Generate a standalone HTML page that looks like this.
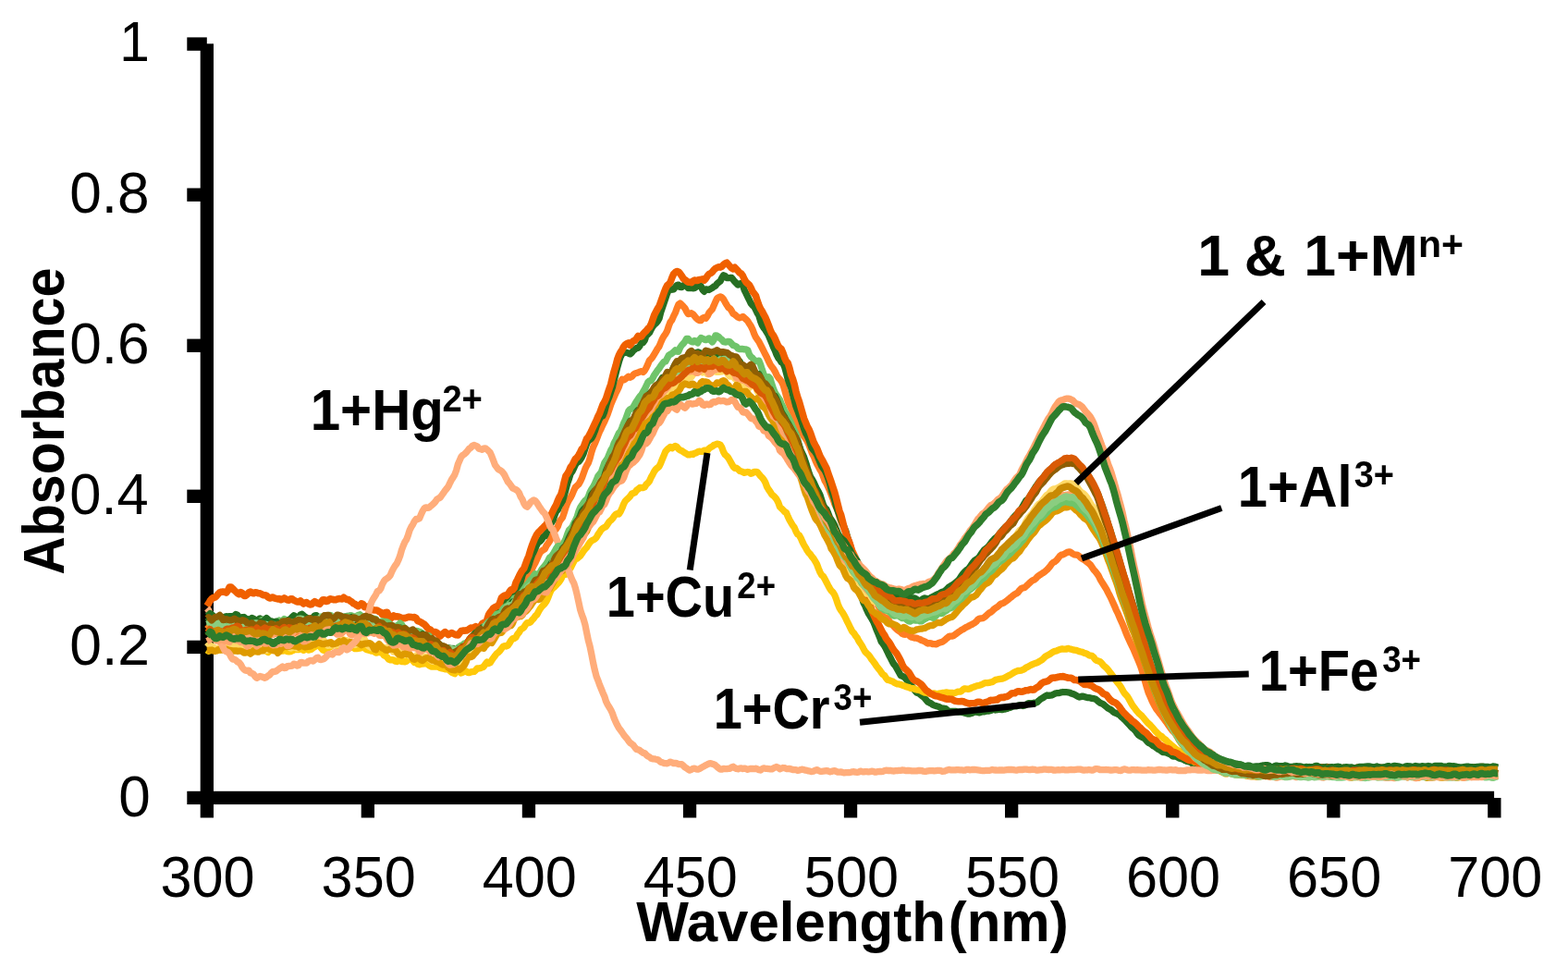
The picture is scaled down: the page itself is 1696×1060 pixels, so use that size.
<!DOCTYPE html>
<html lang="en"><head><meta charset="utf-8"><title>Absorbance vs Wavelength</title>
<style>html,body{margin:0;padding:0;background:#fff;overflow:hidden}svg{display:block}text{font-family:"Liberation Sans",sans-serif;fill:#000}.b{font-weight:bold}</style></head><body>
<svg width="1696" height="1060" viewBox="0 0 1696 1060">
<rect width="1696" height="1060" fill="#fff"/>
<g fill="#000">
<rect x="216.7" y="47.3" width="14.3" height="837.2"/>
<rect x="202.3" y="855.8" width="1413.8" height="14.3"/>
<rect x="202.3" y="40.4" width="21.5" height="14.4"/>
<rect x="202.3" y="203.5" width="21.5" height="14.4"/>
<rect x="202.3" y="366.6" width="21.5" height="14.4"/>
<rect x="202.3" y="529.6" width="21.5" height="14.4"/>
<rect x="202.3" y="692.7" width="21.5" height="14.4"/>
<rect x="390.7" y="863" width="14.3" height="21.5"/>
<rect x="564.8" y="863" width="14.3" height="21.5"/>
<rect x="738.9" y="863" width="14.3" height="21.5"/>
<rect x="912.9" y="863" width="14.3" height="21.5"/>
<rect x="1087.0" y="863" width="14.3" height="21.5"/>
<rect x="1261.1" y="863" width="14.3" height="21.5"/>
<rect x="1435.2" y="863" width="14.3" height="21.5"/>
<rect x="1609.2" y="863" width="14.3" height="21.5"/>
</g>
<g fill="none" stroke-linejoin="round" stroke-linecap="butt">
<polyline stroke="#FF7D24" stroke-width="7.3" points="223.8,680.5 225.5,678.8 227.3,679.5 229.0,681.4 230.8,680.6 232.5,678.9 234.2,679.1 236.0,679.0 237.7,679.4 239.5,679.8 241.2,680.5 242.9,681.5 244.7,681.5 246.4,681.4 248.2,682.3 249.9,682.1 251.7,680.6 253.4,680.6 255.1,680.8 256.9,681.1 258.6,681.2 260.4,682.2 262.1,682.7 263.8,682.3 265.6,681.8 267.3,681.9 269.1,681.6 270.8,681.9 272.5,683.1 274.3,683.9 276.0,685.5 277.8,685.0 279.5,683.3 281.2,683.7 283.0,684.0 284.7,684.6 286.5,684.3 288.2,683.3 289.9,684.3 291.7,685.6 293.4,686.2 295.2,685.4 296.9,685.6 298.7,684.8 300.4,684.8 302.1,685.6 303.9,687.5 305.6,688.5 307.4,688.5 309.1,688.0 310.8,687.0 312.6,685.9 314.3,684.4 316.1,684.4 317.8,684.9 319.5,683.7 321.3,683.1 323.0,682.8 324.8,682.5 326.5,681.5 328.2,681.1 330.0,680.9 331.7,680.3 333.5,679.5 335.2,679.4 336.9,677.5 338.7,676.5 340.4,677.0 342.2,678.4 343.9,677.7 345.7,676.4 347.4,676.4 349.1,677.0 350.9,676.3 352.6,676.3 354.4,677.2 356.1,676.7 357.8,677.1 359.6,677.5 361.3,677.7 363.1,678.5 364.8,679.2 366.5,677.5 368.3,675.8 370.0,675.4 371.8,676.9 373.5,677.9 375.2,678.3 377.0,677.9 378.7,677.5 380.5,677.4 382.2,677.9 383.9,678.6 385.7,679.0 387.4,680.2 389.2,681.5 390.9,680.3 392.7,679.2 394.4,680.8 396.1,680.5 397.9,679.7 399.6,680.4 401.4,680.1 403.1,679.2 404.8,678.9 406.6,679.3 408.3,681.0 410.1,682.2 411.8,682.2 413.5,683.2 415.3,683.9 417.0,682.5 418.8,682.6 420.5,682.5 422.2,682.1 424.0,682.7 425.7,684.4 427.5,685.4 429.2,685.6 430.9,686.6 432.7,687.9 434.4,688.7 436.2,689.4 437.9,689.9 439.7,690.9 441.4,692.2 443.1,691.9 444.9,691.5 446.6,691.4 448.4,690.8 450.1,691.7 451.8,693.7 453.6,695.1 455.3,695.7 457.1,694.7 458.8,694.9 460.5,697.6 462.3,698.2 464.0,697.7 465.8,698.9 467.5,698.5 469.2,697.5 471.0,698.7 472.7,700.8 474.5,702.6 476.2,702.1 477.9,702.1 479.7,702.6 481.4,702.8 483.2,703.3 484.9,704.9 486.7,706.3 488.4,705.6 490.1,703.8 491.9,703.2 493.6,703.6 495.4,702.9 497.1,702.0 498.8,702.0 500.6,703.9 502.3,703.0 504.1,700.9 505.8,700.6 507.5,699.0 509.3,695.2 511.0,694.3 512.8,694.4 514.5,694.2 516.2,692.6 518.0,691.3 519.7,691.2 521.5,692.0 523.2,690.7 524.9,686.8 526.7,685.0 528.4,685.0 530.2,681.5 531.9,678.9 533.7,677.9 535.4,677.1 537.1,675.6 538.9,672.7 540.6,669.6 542.4,668.3 544.1,667.2 545.8,665.6 547.6,661.4 549.3,657.1 551.1,655.1 552.8,653.9 554.5,649.5 556.3,644.9 558.0,642.9 559.8,641.5 561.5,639.1 563.2,635.1 565.0,632.5 566.7,629.4 568.5,625.2 570.2,622.9 572.0,622.0 573.7,619.1 575.4,615.6 577.2,611.9 578.9,608.9 580.7,604.9 582.4,601.2 584.1,597.9 585.9,595.9 587.6,594.7 589.4,593.7 591.1,590.2 592.8,587.8 594.6,585.2 596.3,581.6 598.1,578.3 599.8,574.0 601.5,572.3 603.3,569.6 605.0,564.5 606.8,561.8 608.5,559.7 610.2,554.7 612.0,548.8 613.7,544.3 615.5,540.7 617.2,538.0 619.0,534.5 620.7,530.3 622.4,527.0 624.2,525.3 625.9,523.8 627.7,520.7 629.4,517.0 631.1,512.2 632.9,507.2 634.6,503.7 636.4,500.6 638.1,495.5 639.8,489.1 641.6,483.6 643.3,480.0 645.1,475.7 646.8,471.2 648.5,467.0 650.3,463.3 652.0,459.5 653.8,456.0 655.5,452.1 657.2,448.0 659.0,442.9 660.7,437.6 662.5,433.3 664.2,429.5 666.0,425.3 667.7,422.1 669.4,418.4 671.2,413.3 672.9,410.3 674.7,410.9 676.4,410.0 678.1,408.6 679.9,407.2 681.6,408.2 683.4,407.3 685.1,405.3 686.8,404.1 688.6,403.6 690.3,402.9 692.1,402.0 693.8,401.7 695.5,402.5 697.3,400.8 699.0,397.8 700.8,393.9 702.5,389.7 704.2,388.2 706.0,385.9 707.7,383.1 709.5,380.2 711.2,377.1 713.0,374.7 714.7,370.5 716.4,366.5 718.2,363.4 719.9,361.1 721.7,357.7 723.4,352.5 725.1,348.2 726.9,345.9 728.6,341.9 730.4,338.4 732.1,333.7 733.8,329.5 735.6,328.1 737.3,329.6 739.1,331.4 740.8,333.2 742.5,336.7 744.3,339.5 746.0,339.3 747.8,338.7 749.5,339.8 751.2,341.7 753.0,344.1 754.7,345.6 756.5,346.6 758.2,346.7 760.0,344.2 761.7,343.5 763.4,344.3 765.2,341.9 766.9,338.4 768.7,336.2 770.4,334.4 772.1,330.6 773.9,326.3 775.6,322.8 777.4,321.6 779.1,321.0 780.8,321.7 782.6,323.7 784.3,326.8 786.1,329.9 787.8,332.6 789.5,333.6 791.3,336.2 793.0,339.3 794.8,340.2 796.5,341.7 798.2,343.1 800.0,343.8 801.7,343.3 803.5,342.4 805.2,343.8 807.0,345.5 808.7,347.1 810.4,350.0 812.2,352.6 813.9,356.1 815.7,361.0 817.4,364.7 819.1,367.1 820.9,369.7 822.6,373.0 824.4,376.5 826.1,379.9 827.8,383.3 829.6,386.7 831.3,390.6 833.1,394.2 834.8,396.7 836.5,398.8 838.3,401.8 840.0,405.6 841.8,408.4 843.5,410.2 845.2,412.4 847.0,416.0 848.7,421.8 850.5,428.3 852.2,434.0 854.0,438.4 855.7,442.2 857.4,445.8 859.2,449.4 860.9,454.1 862.7,457.8 864.4,461.7 866.1,465.3 867.9,468.8 869.6,472.1 871.4,474.4 873.1,477.2 874.8,480.7 876.6,485.3 878.3,490.1 880.1,493.5 881.8,497.7 883.5,501.5 885.3,504.9 887.0,508.0 888.8,510.9 890.5,515.6 892.2,520.2 894.0,523.1 895.7,526.7 897.5,530.7 899.2,535.2 901.0,539.7 902.7,544.8 904.4,548.3 906.2,552.5 907.9,558.9 909.7,564.0 911.4,568.2 913.1,572.4 914.9,576.5 916.6,581.3 918.4,586.7 920.1,591.6 921.8,595.7 923.6,599.2 925.3,602.8 927.1,607.3 928.8,612.4 930.5,616.5 932.3,619.3 934.0,623.0 935.8,627.7 937.5,631.5 939.2,634.6 941.0,637.1 942.7,640.7 944.5,644.5 946.2,647.9 948.0,650.9 949.7,655.0 951.4,657.8 953.2,660.0 954.9,661.9 956.7,665.0 958.4,667.8 960.1,669.3 961.9,671.9 963.6,674.3 965.4,676.0 967.1,677.9 968.8,679.6 970.6,681.3 972.3,682.5 974.1,683.7 975.8,685.4 977.5,686.1 979.3,686.3 981.0,685.9 982.8,686.7 984.5,688.3 986.2,689.3 988.0,689.7 989.7,690.1 991.5,690.2 993.2,690.9 995.0,691.5 996.7,692.5 998.4,693.1 1000.2,693.8 1001.9,695.0 1003.7,696.0 1005.4,695.6 1007.1,695.8 1008.9,696.6 1010.6,696.7 1012.4,696.9 1014.1,696.1 1015.8,695.2 1017.6,694.7 1019.3,694.2 1021.1,693.0 1022.8,691.6 1024.5,690.1 1026.3,688.6 1028.0,688.1 1029.8,688.2 1031.5,687.5 1033.2,686.3 1035.0,685.0 1036.7,683.6 1038.5,682.5 1040.2,681.3 1042.0,680.4 1043.7,679.2 1045.4,678.3 1047.2,677.5 1048.9,676.5 1050.7,675.7 1052.4,674.8 1054.1,673.7 1055.9,672.4 1057.6,670.3 1059.4,669.1 1061.1,668.9 1062.8,668.7 1064.6,667.8 1066.3,666.4 1068.1,664.7 1069.8,663.1 1071.5,662.2 1073.3,660.9 1075.0,659.0 1076.8,657.7 1078.5,656.7 1080.2,655.3 1082.0,653.4 1083.7,652.8 1085.5,652.1 1087.2,651.0 1089.0,649.8 1090.7,648.4 1092.4,646.8 1094.2,645.6 1095.9,644.1 1097.7,642.7 1099.4,641.9 1101.1,640.7 1102.9,638.3 1104.6,636.6 1106.4,635.8 1108.1,635.6 1109.8,634.2 1111.6,632.5 1113.3,630.8 1115.1,629.2 1116.8,627.9 1118.5,627.2 1120.3,625.9 1122.0,623.9 1123.8,622.5 1125.5,621.4 1127.2,620.3 1129.0,619.1 1130.7,617.8 1132.5,616.3 1134.2,614.4 1136.0,612.2 1137.7,609.7 1139.4,608.3 1141.2,607.4 1142.9,605.8 1144.7,603.7 1146.4,601.4 1148.1,600.1 1149.9,599.8 1151.6,599.0 1153.4,597.9 1155.1,597.0 1156.8,596.8 1158.6,597.8 1160.3,599.0 1162.1,599.8 1163.8,600.0 1165.5,600.4 1167.3,601.5 1169.0,603.3 1170.8,604.6 1172.5,605.3 1174.2,606.6 1176.0,608.0 1177.7,609.3 1179.5,611.0 1181.2,613.6 1183.0,616.3 1184.7,618.1 1186.4,620.3 1188.2,622.7 1189.9,626.3 1191.7,629.3 1193.4,632.0 1195.1,634.7 1196.9,637.7 1198.6,641.1 1200.4,644.5 1202.1,648.0 1203.8,651.7 1205.6,655.8 1207.3,659.8 1209.1,663.3 1210.8,667.5 1212.5,671.4 1214.3,675.3 1216.0,679.4 1217.8,684.2 1219.5,688.2 1221.2,692.1 1223.0,696.0 1224.7,699.5 1226.5,703.3 1228.2,707.4 1230.0,711.6 1231.7,715.7 1233.4,719.9 1235.2,725.2 1236.9,731.1 1238.7,737.4 1240.4,743.5 1242.1,749.0 1243.9,753.1 1245.6,757.1 1247.4,760.8 1249.1,764.0 1250.8,767.0 1252.6,769.2 1254.3,771.5 1256.1,773.8 1257.8,776.0 1259.5,778.3 1261.3,780.8 1263.0,783.3 1264.8,785.7 1266.5,788.3 1268.2,790.4 1270.0,791.9 1271.7,794.1 1273.5,796.2 1275.2,798.4 1277.0,800.5 1278.7,802.2 1280.4,803.3 1282.2,804.3 1283.9,805.5 1285.7,807.5 1287.4,809.1 1289.1,810.7 1290.9,812.4 1292.6,814.3 1294.4,815.9 1296.1,817.1 1297.8,818.1 1299.6,818.8 1301.3,819.9 1303.1,820.8 1304.8,821.6 1306.5,822.9 1308.3,823.4 1310.0,824.3 1311.8,826.1 1313.5,827.1 1315.3,827.2 1317.0,828.1 1318.7,829.4 1320.5,829.2 1322.2,828.9 1324.0,829.8 1325.7,831.1 1327.4,831.5 1329.2,831.8 1330.9,832.2 1332.7,832.2 1334.4,831.9 1336.1,831.9 1337.9,832.4 1339.6,832.7 1341.4,833.4 1343.1,834.2 1344.8,834.3 1346.6,834.2 1348.3,834.4 1350.1,834.8 1351.8,834.8 1353.5,834.5 1355.3,835.0 1357.0,835.6 1358.8,835.4 1360.5,834.7 1362.3,834.3 1364.0,834.1 1365.7,834.7 1367.5,835.5 1369.2,835.3 1371.0,834.9 1372.7,834.9 1374.4,835.1 1376.2,835.2 1377.9,835.1 1379.7,835.2 1381.4,835.8 1383.1,836.0 1384.9,835.5 1386.6,835.4 1388.4,835.6 1390.1,835.1 1391.8,835.1 1393.6,835.3 1395.3,835.5 1397.1,835.4 1398.8,835.3 1400.5,835.4 1402.3,834.9 1404.0,834.8 1405.8,834.8 1407.5,835.3 1409.3,835.3 1411.0,835.8 1412.7,836.2 1414.5,836.2 1416.2,835.9 1418.0,835.7 1419.7,835.7 1421.4,835.5 1423.2,835.5 1424.9,836.0 1426.7,836.1 1428.4,836.6 1430.1,836.4 1431.9,836.1 1433.6,836.2 1435.4,836.2 1437.1,835.5 1438.8,835.2 1440.6,835.4 1442.3,835.9 1444.1,836.1 1445.8,835.9 1447.5,835.7 1449.3,835.9 1451.0,836.5 1452.8,836.6 1454.5,836.1 1456.3,835.7 1458.0,836.1 1459.7,836.3 1461.5,836.5 1463.2,836.8 1465.0,836.4 1466.7,835.7 1468.4,835.8 1470.2,836.4 1471.9,836.5 1473.7,836.4 1475.4,836.0 1477.1,835.8 1478.9,836.3 1480.6,836.7 1482.4,836.3 1484.1,835.7 1485.8,835.6 1487.6,835.8 1489.3,836.3 1491.1,836.8 1492.8,837.0 1494.5,836.5 1496.3,836.0 1498.0,836.0 1499.8,836.0 1501.5,835.9 1503.3,836.0 1505.0,835.9 1506.7,835.7 1508.5,836.0 1510.2,835.8 1512.0,835.7 1513.7,836.0 1515.4,836.3 1517.2,836.8 1518.9,836.6 1520.7,836.1 1522.4,835.8 1524.1,835.9 1525.9,836.2 1527.6,836.0 1529.4,835.9 1531.1,835.5 1532.8,835.9 1534.6,836.4 1536.3,836.4 1538.1,836.3 1539.8,836.3 1541.5,835.7 1543.3,835.6 1545.0,836.1 1546.8,836.6 1548.5,836.4 1550.3,836.2 1552.0,836.2 1553.7,835.9 1555.5,835.1 1557.2,835.0 1559.0,835.0 1560.7,835.0 1562.4,835.2 1564.2,835.3 1565.9,835.6 1567.7,836.0 1569.4,836.2 1571.1,836.4 1572.9,836.6 1574.6,836.2 1576.4,836.1 1578.1,836.2 1579.8,835.6 1581.6,835.5 1583.3,836.3 1585.1,836.5 1586.8,836.6 1588.5,836.6 1590.3,836.5 1592.0,836.0 1593.8,835.8 1595.5,835.7 1597.3,836.0 1599.0,836.1 1600.7,836.2 1602.5,836.8 1604.2,837.1 1606.0,836.4 1607.7,836.5 1609.4,836.8 1611.2,836.6 1612.9,836.3 1614.7,836.6 1616.4,836.5 1618.1,836.2 1620.0,836.1"/>
<polyline stroke="#266E22" stroke-width="7.3" points="223.8,672.7 225.5,671.4 227.3,670.1 229.0,669.6 230.8,670.3 232.5,670.3 234.2,669.9 236.0,668.7 237.7,668.3 239.5,668.1 241.2,669.3 242.9,669.3 244.7,669.0 246.4,668.3 248.2,667.8 249.9,669.6 251.7,669.9 253.4,665.9 255.1,664.4 256.9,665.3 258.6,668.5 260.4,669.9 262.1,670.8 263.8,670.7 265.6,670.1 267.3,669.8 269.1,669.8 270.8,669.8 272.5,668.5 274.3,669.1 276.0,671.1 277.8,672.3 279.5,670.0 281.2,668.9 283.0,670.2 284.7,672.3 286.5,672.7 288.2,672.8 289.9,671.7 291.7,673.7 293.4,674.1 295.2,672.5 296.9,673.8 298.7,675.6 300.4,676.0 302.1,677.5 303.9,678.2 305.6,676.5 307.4,674.5 309.1,674.2 310.8,675.3 312.6,675.3 314.3,675.2 316.1,675.6 317.8,675.6 319.5,673.4 321.3,672.2 323.0,672.3 324.8,676.0 326.5,677.6 328.2,678.1 330.0,676.3 331.7,675.0 333.5,675.2 335.2,674.1 336.9,672.6 338.7,673.5 340.4,675.9 342.2,675.4 343.9,674.0 345.7,672.5 347.4,672.0 349.1,672.7 350.9,671.7 352.6,670.2 354.4,669.7 356.1,669.4 357.8,670.4 359.6,670.8 361.3,669.8 363.1,669.9 364.8,668.4 366.5,667.6 368.3,666.8 370.0,667.1 371.8,667.4 373.5,667.0 375.2,666.5 377.0,666.4 378.7,666.2 380.5,666.4 382.2,668.6 383.9,671.1 385.7,673.0 387.4,674.6 389.2,675.5 390.9,674.5 392.7,674.0 394.4,675.1 396.1,674.3 397.9,674.7 399.6,674.1 401.4,674.1 403.1,673.8 404.8,676.0 406.6,676.5 408.3,677.3 410.1,680.1 411.8,680.5 413.5,679.3 415.3,678.6 417.0,679.4 418.8,680.7 420.5,682.3 422.2,682.4 424.0,681.1 425.7,680.5 427.5,680.2 429.2,680.0 430.9,681.2 432.7,683.2 434.4,685.1 436.2,685.5 437.9,684.1 439.7,684.5 441.4,685.5 443.1,687.3 444.9,686.4 446.6,685.4 448.4,684.1 450.1,684.4 451.8,685.9 453.6,686.8 455.3,687.4 457.1,687.5 458.8,689.7 460.5,691.5 462.3,694.3 464.0,695.0 465.8,695.6 467.5,695.0 469.2,696.3 471.0,696.7 472.7,697.8 474.5,699.2 476.2,700.2 477.9,701.8 479.7,703.3 481.4,703.5 483.2,702.2 484.9,700.9 486.7,701.2 488.4,701.6 490.1,701.3 491.9,703.2 493.6,703.4 495.4,703.4 497.1,704.0 498.8,703.1 500.6,700.9 502.3,698.7 504.1,698.3 505.8,697.2 507.5,695.7 509.3,695.5 511.0,693.1 512.8,689.4 514.5,688.5 516.2,687.9 518.0,688.5 519.7,686.3 521.5,682.1 523.2,679.5 524.9,678.5 526.7,677.5 528.4,676.8 530.2,673.9 531.9,670.0 533.7,666.5 535.4,662.7 537.1,662.4 538.9,661.5 540.6,658.6 542.4,656.4 544.1,656.5 545.8,656.0 547.6,652.2 549.3,648.7 551.1,647.2 552.8,643.5 554.5,642.1 556.3,640.3 558.0,638.5 559.8,635.6 561.5,633.7 563.2,629.0 565.0,622.5 566.7,618.8 568.5,617.8 570.2,616.2 572.0,611.2 573.7,605.5 575.4,600.7 577.2,597.1 578.9,593.3 580.7,589.3 582.4,586.2 584.1,585.6 585.9,583.6 587.6,580.3 589.4,580.0 591.1,576.4 592.8,570.8 594.6,566.6 596.3,565.7 598.1,562.9 599.8,557.7 601.5,553.4 603.3,551.5 605.0,547.4 606.8,544.5 608.5,541.6 610.2,535.9 612.0,529.7 613.7,522.8 615.5,517.7 617.2,512.2 619.0,509.8 620.7,506.4 622.4,502.5 624.2,500.0 625.9,499.4 627.7,497.2 629.4,494.3 631.1,490.7 632.9,485.1 634.6,480.0 636.4,476.5 638.1,475.5 639.8,474.1 641.6,470.7 643.3,466.5 645.1,461.1 646.8,457.0 648.5,453.1 650.3,450.6 652.0,449.9 653.8,445.4 655.5,438.8 657.2,433.4 659.0,429.0 660.7,423.8 662.5,418.6 664.2,411.3 666.0,404.4 667.7,397.5 669.4,391.5 671.2,385.9 672.9,382.8 674.7,381.6 676.4,381.3 678.1,381.4 679.9,382.1 681.6,382.9 683.4,381.4 685.1,379.1 686.8,377.8 688.6,376.4 690.3,376.3 692.1,374.0 693.8,371.0 695.5,370.7 697.3,368.2 699.0,363.2 700.8,361.6 702.5,359.8 704.2,356.3 706.0,353.2 707.7,351.1 709.5,349.7 711.2,347.7 713.0,344.5 714.7,337.9 716.4,332.8 718.2,327.6 719.9,322.6 721.7,317.2 723.4,313.2 725.1,312.4 726.9,313.3 728.6,312.9 730.4,310.6 732.1,308.5 733.8,308.1 735.6,310.4 737.3,310.7 739.1,308.8 740.8,308.2 742.5,309.0 744.3,311.5 746.0,311.7 747.8,311.3 749.5,311.8 751.2,311.7 753.0,310.3 754.7,308.7 756.5,308.3 758.2,309.6 760.0,313.5 761.7,315.3 763.4,312.8 765.2,313.1 766.9,313.5 768.7,312.4 770.4,311.4 772.1,309.9 773.9,309.3 775.6,306.8 777.4,305.4 779.1,304.1 780.8,300.6 782.6,297.7 784.3,298.5 786.1,300.5 787.8,300.7 789.5,300.5 791.3,300.4 793.0,302.4 794.8,304.7 796.5,306.4 798.2,308.1 800.0,307.1 801.7,306.4 803.5,308.7 805.2,313.9 807.0,317.4 808.7,321.0 810.4,324.4 812.2,328.2 813.9,330.2 815.7,331.5 817.4,334.9 819.1,338.5 820.9,341.4 822.6,347.3 824.4,351.9 826.1,354.7 827.8,356.8 829.6,359.8 831.3,362.8 833.1,367.1 834.8,371.2 836.5,375.4 838.3,379.3 840.0,383.7 841.8,387.2 843.5,389.0 845.2,391.8 847.0,393.0 848.7,397.0 850.5,403.5 852.2,410.1 854.0,415.4 855.7,419.7 857.4,426.3 859.2,433.2 860.9,439.5 862.7,444.1 864.4,448.8 866.1,453.0 867.9,458.3 869.6,463.6 871.4,468.3 873.1,471.2 874.8,475.1 876.6,480.4 878.3,484.9 880.1,487.0 881.8,489.0 883.5,491.8 885.3,496.0 887.0,500.1 888.8,504.2 890.5,506.6 892.2,509.0 894.0,512.8 895.7,517.2 897.5,523.0 899.2,530.0 901.0,535.4 902.7,540.5 904.4,547.5 906.2,552.6 907.9,556.8 909.7,562.1 911.4,566.6 913.1,570.3 914.9,574.7 916.6,581.1 918.4,586.7 920.1,592.0 921.8,600.9 923.6,609.8 925.3,617.6 927.1,625.7 928.8,633.2 930.5,640.0 932.3,646.6 934.0,652.0 935.8,655.4 937.5,659.6 939.2,663.3 941.0,666.1 942.7,669.0 944.5,672.0 946.2,676.2 948.0,680.8 949.7,684.9 951.4,689.0 953.2,693.9 954.9,696.1 956.7,698.7 958.4,701.8 960.1,705.3 961.9,709.2 963.6,712.3 965.4,716.0 967.1,718.7 968.8,720.7 970.6,723.9 972.3,727.0 974.1,730.4 975.8,731.3 977.5,731.9 979.3,733.5 981.0,735.7 982.8,738.3 984.5,740.2 986.2,742.1 988.0,744.5 989.7,747.1 991.5,749.2 993.2,749.6 995.0,750.9 996.7,752.3 998.4,753.5 1000.2,755.1 1001.9,757.2 1003.7,759.2 1005.4,760.1 1007.1,760.9 1008.9,762.2 1010.6,763.0 1012.4,763.5 1014.1,764.1 1015.8,764.6 1017.6,765.7 1019.3,766.2 1021.1,766.2 1022.8,766.6 1024.5,768.1 1026.3,769.1 1028.0,769.8 1029.8,769.3 1031.5,769.3 1033.2,769.3 1035.0,769.9 1036.7,770.2 1038.5,770.0 1040.2,770.3 1042.0,770.8 1043.7,771.3 1045.4,771.8 1047.2,772.2 1048.9,772.1 1050.7,771.5 1052.4,770.8 1054.1,770.1 1055.9,770.1 1057.6,770.5 1059.4,770.8 1061.1,770.2 1062.8,769.7 1064.6,769.9 1066.3,769.3 1068.1,769.0 1069.8,769.1 1071.5,768.6 1073.3,767.4 1075.0,767.5 1076.8,768.0 1078.5,767.7 1080.2,767.2 1082.0,767.4 1083.7,767.7 1085.5,767.2 1087.2,767.1 1089.0,766.6 1090.7,765.8 1092.4,765.4 1094.2,764.6 1095.9,763.9 1097.7,763.6 1099.4,763.9 1101.1,763.3 1102.9,762.7 1104.6,762.7 1106.4,763.5 1108.1,763.2 1109.8,762.1 1111.6,761.1 1113.3,760.6 1115.1,760.9 1116.8,760.7 1118.5,760.1 1120.3,760.3 1122.0,759.5 1123.8,757.7 1125.5,756.3 1127.2,755.2 1129.0,754.2 1130.7,752.9 1132.5,752.0 1134.2,752.4 1136.0,752.1 1137.7,751.8 1139.4,751.1 1141.2,750.1 1142.9,749.7 1144.7,749.6 1146.4,749.3 1148.1,748.8 1149.9,748.5 1151.6,748.7 1153.4,748.7 1155.1,748.8 1156.8,749.0 1158.6,750.0 1160.3,750.5 1162.1,751.2 1163.8,752.2 1165.5,753.2 1167.3,754.0 1169.0,753.6 1170.8,753.1 1172.5,753.6 1174.2,754.1 1176.0,754.6 1177.7,754.7 1179.5,754.9 1181.2,755.4 1183.0,755.7 1184.7,756.0 1186.4,757.3 1188.2,758.9 1189.9,760.3 1191.7,760.9 1193.4,761.8 1195.1,763.3 1196.9,764.8 1198.6,766.2 1200.4,767.0 1202.1,768.0 1203.8,769.7 1205.6,770.9 1207.3,771.5 1209.1,772.3 1210.8,773.2 1212.5,774.9 1214.3,776.5 1216.0,778.2 1217.8,779.9 1219.5,781.7 1221.2,783.6 1223.0,785.6 1224.7,787.3 1226.5,788.7 1228.2,790.6 1230.0,793.4 1231.7,795.3 1233.4,796.4 1235.2,797.4 1236.9,798.1 1238.7,799.4 1240.4,801.5 1242.1,803.3 1243.9,804.0 1245.6,805.2 1247.4,806.8 1249.1,807.4 1250.8,808.9 1252.6,810.2 1254.3,811.1 1256.1,812.4 1257.8,813.7 1259.5,813.6 1261.3,814.0 1263.0,814.8 1264.8,815.4 1266.5,816.3 1268.2,817.8 1270.0,818.1 1271.7,818.0 1273.5,818.9 1275.2,820.0 1277.0,820.6 1278.7,820.8 1280.4,821.7 1282.2,822.7 1283.9,823.5 1285.7,823.8 1287.4,824.1 1289.1,825.5 1290.9,826.4 1292.6,827.2 1294.4,827.6 1296.1,827.2 1297.8,826.9 1299.6,827.5 1301.3,827.6 1303.1,827.6 1304.8,828.0 1306.5,828.7 1308.3,828.4 1310.0,828.0 1311.8,828.3 1313.5,828.6 1315.3,829.1 1317.0,829.2 1318.7,829.4 1320.5,829.9 1322.2,830.2 1324.0,830.8 1325.7,831.0 1327.4,830.6 1329.2,830.4 1330.9,830.9 1332.7,831.3 1334.4,831.1 1336.1,831.1 1337.9,831.1 1339.6,831.3 1341.4,831.2 1343.1,830.7 1344.8,830.6 1346.6,830.7 1348.3,830.7 1350.1,831.0 1351.8,831.1 1353.5,830.8 1355.3,830.5 1357.0,830.8 1358.8,831.5 1360.5,831.2 1362.3,830.4 1364.0,830.5 1365.7,831.6 1367.5,831.7 1369.2,831.2 1371.0,830.8 1372.7,830.1 1374.4,830.2 1376.2,830.2 1377.9,829.5 1379.7,829.7 1381.4,830.6 1383.1,830.7 1384.9,830.3 1386.6,830.5 1388.4,830.7 1390.1,830.0 1391.8,829.4 1393.6,829.6 1395.3,830.1 1397.1,830.5 1398.8,830.3 1400.5,830.3 1402.3,830.8 1404.0,830.4 1405.8,830.4 1407.5,830.6 1409.3,830.7 1411.0,830.5 1412.7,830.4 1414.5,830.0 1416.2,829.5 1418.0,829.8 1419.7,830.1 1421.4,830.3 1423.2,830.4 1424.9,830.6 1426.7,831.3 1428.4,831.1 1430.1,830.0 1431.9,830.0 1433.6,829.7 1435.4,829.5 1437.1,830.2 1438.8,830.4 1440.6,830.5 1442.3,830.8 1444.1,831.6 1445.8,831.9 1447.5,831.6 1449.3,831.4 1451.0,831.1 1452.8,830.9 1454.5,830.7 1456.3,830.7 1458.0,830.8 1459.7,831.2 1461.5,831.6 1463.2,831.8 1465.0,832.2 1466.7,832.1 1468.4,830.7 1470.2,830.5 1471.9,830.5 1473.7,830.3 1475.4,830.2 1477.1,830.6 1478.9,830.7 1480.6,830.6 1482.4,830.5 1484.1,830.1 1485.8,830.0 1487.6,830.8 1489.3,830.8 1491.1,830.6 1492.8,830.6 1494.5,830.2 1496.3,830.0 1498.0,830.5 1499.8,830.3 1501.5,830.6 1503.3,831.3 1505.0,831.9 1506.7,831.9 1508.5,831.2 1510.2,830.7 1512.0,830.9 1513.7,831.8 1515.4,832.2 1517.2,831.6 1518.9,831.1 1520.7,831.2 1522.4,830.9 1524.1,830.7 1525.9,830.9 1527.6,831.3 1529.4,831.5 1531.1,831.8 1532.8,831.8 1534.6,830.9 1536.3,829.6 1538.1,829.6 1539.8,830.6 1541.5,831.4 1543.3,831.9 1545.0,831.4 1546.8,831.2 1548.5,831.6 1550.3,831.6 1552.0,831.1 1553.7,830.8 1555.5,830.3 1557.2,830.4 1559.0,830.9 1560.7,830.7 1562.4,831.2 1564.2,831.6 1565.9,831.7 1567.7,831.5 1569.4,830.8 1571.1,829.7 1572.9,829.7 1574.6,830.3 1576.4,830.7 1578.1,830.2 1579.8,830.2 1581.6,830.6 1583.3,830.9 1585.1,830.1 1586.8,829.8 1588.5,830.1 1590.3,829.8 1592.0,830.2 1593.8,830.1 1595.5,829.7 1597.3,829.8 1599.0,830.1 1600.7,830.6 1602.5,831.2 1604.2,831.4 1606.0,831.0 1607.7,830.6 1609.4,830.4 1611.2,830.6 1612.9,830.6 1614.7,830.0 1616.4,830.3 1618.1,830.4 1620.0,830.6"/>
<polyline stroke="#FFC90A" stroke-width="7.3" points="223.8,703.1 225.5,704.3 227.3,703.7 229.0,702.9 230.8,702.5 232.5,703.7 234.2,702.6 236.0,703.4 237.7,702.9 239.5,702.1 241.2,702.1 242.9,702.8 244.7,704.0 246.4,704.6 248.2,704.6 249.9,702.7 251.7,702.7 253.4,703.0 255.1,703.2 256.9,701.8 258.6,702.5 260.4,703.1 262.1,703.0 263.8,704.5 265.6,705.2 267.3,705.7 269.1,704.9 270.8,703.0 272.5,702.5 274.3,703.6 276.0,704.9 277.8,704.7 279.5,703.1 281.2,702.3 283.0,702.1 284.7,702.4 286.5,703.2 288.2,704.4 289.9,705.5 291.7,704.1 293.4,703.4 295.2,703.3 296.9,702.5 298.7,702.7 300.4,703.5 302.1,703.7 303.9,703.1 305.6,704.1 307.4,703.7 309.1,703.9 310.8,704.6 312.6,704.9 314.3,704.7 316.1,703.8 317.8,703.1 319.5,702.6 321.3,702.3 323.0,702.7 324.8,701.6 326.5,701.7 328.2,703.4 330.0,702.5 331.7,701.8 333.5,703.2 335.2,702.8 336.9,702.3 338.7,700.8 340.4,699.7 342.2,698.4 343.9,698.3 345.7,698.9 347.4,701.0 349.1,703.0 350.9,703.6 352.6,701.7 354.4,701.3 356.1,700.3 357.8,699.3 359.6,697.9 361.3,697.6 363.1,698.0 364.8,698.5 366.5,699.4 368.3,700.1 370.0,701.4 371.8,701.2 373.5,701.3 375.2,701.8 377.0,701.3 378.7,700.4 380.5,700.0 382.2,700.5 383.9,701.6 385.7,701.7 387.4,701.4 389.2,701.2 390.9,700.5 392.7,700.6 394.4,700.7 396.1,702.5 397.9,703.0 399.6,703.4 401.4,704.0 403.1,704.1 404.8,704.8 406.6,706.1 408.3,705.8 410.1,705.3 411.8,705.8 413.5,706.4 415.3,708.8 417.0,709.5 418.8,711.1 420.5,713.2 422.2,713.9 424.0,713.6 425.7,713.9 427.5,715.1 429.2,715.5 430.9,714.5 432.7,714.6 434.4,715.6 436.2,715.7 437.9,715.8 439.7,715.2 441.4,713.4 443.1,712.3 444.9,712.6 446.6,714.6 448.4,716.7 450.1,716.8 451.8,718.3 453.6,718.8 455.3,718.2 457.1,718.0 458.8,717.9 460.5,717.6 462.3,718.3 464.0,719.6 465.8,720.8 467.5,721.1 469.2,720.7 471.0,721.2 472.7,720.9 474.5,721.6 476.2,722.5 477.9,722.9 479.7,723.3 481.4,723.8 483.2,723.6 484.9,724.1 486.7,725.5 488.4,727.1 490.1,727.9 491.9,728.7 493.6,726.5 495.4,724.0 497.1,725.8 498.8,728.1 500.6,727.2 502.3,725.8 504.1,725.8 505.8,727.4 507.5,727.7 509.3,726.9 511.0,726.5 512.8,726.4 514.5,724.9 516.2,722.9 518.0,723.0 519.7,722.6 521.5,721.9 523.2,721.1 524.9,718.5 526.7,716.1 528.4,717.5 530.2,716.9 531.9,714.1 533.7,711.5 535.4,709.4 537.1,707.0 538.9,705.8 540.6,704.0 542.4,701.6 544.1,699.3 545.8,698.6 547.6,699.0 549.3,698.2 551.1,695.6 552.8,692.6 554.5,690.7 556.3,690.5 558.0,689.3 559.8,685.9 561.5,684.0 563.2,680.9 565.0,679.9 566.7,678.6 568.5,675.6 570.2,673.7 572.0,673.7 573.7,672.9 575.4,670.7 577.2,669.0 578.9,666.4 580.7,664.9 582.4,661.8 584.1,658.8 585.9,656.4 587.6,654.5 589.4,652.8 591.1,650.2 592.8,646.5 594.6,641.8 596.3,638.1 598.1,636.1 599.8,634.8 601.5,633.0 603.3,631.1 605.0,629.1 606.8,626.5 608.5,622.9 610.2,621.3 612.0,621.3 613.7,619.4 615.5,616.4 617.2,614.3 619.0,610.7 620.7,607.3 622.4,604.6 624.2,604.2 625.9,602.8 627.7,601.3 629.4,598.8 631.1,596.0 632.9,593.9 634.6,592.2 636.4,589.1 638.1,586.6 639.8,585.0 641.6,584.1 643.3,583.1 645.1,581.4 646.8,578.2 648.5,575.8 650.3,572.9 652.0,571.4 653.8,570.4 655.5,569.6 657.2,567.0 659.0,564.2 660.7,562.8 662.5,561.0 664.2,558.4 666.0,556.3 667.7,555.5 669.4,556.1 671.2,553.3 672.9,549.6 674.7,544.9 676.4,541.8 678.1,540.2 679.9,538.6 681.6,536.7 683.4,534.0 685.1,533.5 686.8,532.7 688.6,530.3 690.3,529.1 692.1,527.5 693.8,527.4 695.5,527.5 697.3,526.8 699.0,524.0 700.8,522.3 702.5,520.3 704.2,516.4 706.0,513.2 707.7,509.9 709.5,507.3 711.2,506.0 713.0,504.6 714.7,500.9 716.4,496.6 718.2,492.3 719.9,488.2 721.7,486.3 723.4,484.8 725.1,483.5 726.9,484.8 728.6,483.5 730.4,482.4 732.1,483.3 733.8,485.5 735.6,486.9 737.3,487.4 739.1,488.8 740.8,489.9 742.5,490.7 744.3,491.9 746.0,491.8 747.8,491.1 749.5,491.6 751.2,490.3 753.0,489.9 754.7,488.8 756.5,488.2 758.2,488.3 760.0,488.4 761.7,487.1 763.4,487.2 765.2,487.3 766.9,485.1 768.7,483.8 770.4,483.0 772.1,481.5 773.9,480.8 775.6,480.1 777.4,480.5 779.1,481.1 780.8,483.9 782.6,488.9 784.3,491.8 786.1,493.3 787.8,495.2 789.5,498.2 791.3,501.5 793.0,504.6 794.8,506.4 796.5,506.2 798.2,507.4 800.0,509.4 801.7,509.8 803.5,510.5 805.2,511.4 807.0,510.8 808.7,510.5 810.4,510.9 812.2,512.3 813.9,511.8 815.7,510.3 817.4,510.3 819.1,510.6 820.9,512.8 822.6,514.9 824.4,516.6 826.1,518.7 827.8,521.8 829.6,526.6 831.3,529.5 833.1,532.0 834.8,534.7 836.5,536.2 838.3,537.9 840.0,540.1 841.8,543.5 843.5,548.2 845.2,549.9 847.0,551.6 848.7,553.5 850.5,554.5 852.2,558.6 854.0,562.4 855.7,565.3 857.4,568.3 859.2,570.6 860.9,574.7 862.7,577.9 864.4,578.9 866.1,581.8 867.9,586.0 869.6,589.4 871.4,592.3 873.1,595.5 874.8,597.9 876.6,599.7 878.3,602.3 880.1,604.3 881.8,607.2 883.5,610.1 885.3,614.9 887.0,619.0 888.8,622.1 890.5,623.4 892.2,626.3 894.0,629.9 895.7,633.2 897.5,636.4 899.2,639.0 901.0,640.7 902.7,643.4 904.4,647.6 906.2,653.2 907.9,657.3 909.7,660.4 911.4,662.7 913.1,665.6 914.9,668.9 916.6,672.7 918.4,676.2 920.1,679.8 921.8,683.0 923.6,684.8 925.3,687.4 927.1,689.7 928.8,693.1 930.5,695.6 932.3,698.4 934.0,701.7 935.8,704.9 937.5,706.6 939.2,708.2 941.0,710.3 942.7,713.1 944.5,715.3 946.2,717.7 948.0,720.3 949.7,722.6 951.4,724.6 953.2,727.3 954.9,729.5 956.7,730.6 958.4,733.4 960.1,735.4 961.9,735.8 963.6,736.4 965.4,736.9 967.1,738.2 968.8,739.1 970.6,739.8 972.3,739.9 974.1,740.4 975.8,741.1 977.5,741.7 979.3,742.4 981.0,742.9 982.8,743.4 984.5,744.2 986.2,744.7 988.0,744.6 989.7,745.5 991.5,746.0 993.2,746.2 995.0,746.7 996.7,747.4 998.4,748.3 1000.2,749.0 1001.9,749.2 1003.7,749.8 1005.4,749.8 1007.1,750.2 1008.9,750.2 1010.6,749.8 1012.4,750.5 1014.1,750.9 1015.8,750.1 1017.6,749.8 1019.3,749.5 1021.1,749.3 1022.8,749.0 1024.5,749.0 1026.3,749.4 1028.0,749.5 1029.8,749.4 1031.5,749.6 1033.2,749.3 1035.0,748.6 1036.7,748.1 1038.5,748.2 1040.2,747.3 1042.0,745.4 1043.7,744.8 1045.4,745.0 1047.2,745.4 1048.9,745.0 1050.7,744.0 1052.4,743.4 1054.1,742.8 1055.9,742.0 1057.6,741.7 1059.4,741.3 1061.1,740.8 1062.8,740.0 1064.6,739.1 1066.3,738.6 1068.1,738.6 1069.8,738.4 1071.5,737.9 1073.3,737.6 1075.0,736.5 1076.8,735.4 1078.5,735.0 1080.2,734.7 1082.0,734.4 1083.7,734.2 1085.5,733.6 1087.2,732.9 1089.0,731.8 1090.7,730.8 1092.4,730.1 1094.2,729.0 1095.9,727.9 1097.7,726.8 1099.4,726.1 1101.1,725.5 1102.9,725.3 1104.6,725.1 1106.4,724.4 1108.1,723.5 1109.8,722.2 1111.6,721.4 1113.3,720.4 1115.1,719.4 1116.8,718.6 1118.5,717.9 1120.3,717.3 1122.0,716.8 1123.8,715.6 1125.5,714.6 1127.2,713.6 1129.0,711.9 1130.7,710.2 1132.5,709.1 1134.2,708.3 1136.0,707.3 1137.7,706.1 1139.4,704.9 1141.2,704.3 1142.9,704.0 1144.7,703.1 1146.4,702.5 1148.1,702.0 1149.9,702.0 1151.6,702.2 1153.4,702.0 1155.1,701.3 1156.8,701.9 1158.6,702.2 1160.3,702.7 1162.1,703.2 1163.8,703.3 1165.5,703.9 1167.3,704.6 1169.0,705.0 1170.8,705.4 1172.5,706.2 1174.2,706.7 1176.0,707.4 1177.7,708.7 1179.5,709.2 1181.2,709.4 1183.0,711.0 1184.7,713.3 1186.4,714.6 1188.2,715.1 1189.9,715.7 1191.7,717.4 1193.4,719.6 1195.1,721.2 1196.9,722.6 1198.6,724.6 1200.4,726.9 1202.1,729.0 1203.8,731.4 1205.6,733.9 1207.3,736.4 1209.1,738.6 1210.8,740.7 1212.5,743.2 1214.3,746.6 1216.0,749.5 1217.8,751.5 1219.5,753.4 1221.2,756.2 1223.0,759.5 1224.7,762.6 1226.5,764.9 1228.2,767.2 1230.0,769.5 1231.7,771.5 1233.4,772.8 1235.2,774.5 1236.9,776.5 1238.7,778.7 1240.4,780.7 1242.1,782.5 1243.9,784.1 1245.6,785.9 1247.4,787.9 1249.1,790.1 1250.8,791.8 1252.6,793.7 1254.3,795.3 1256.1,796.2 1257.8,797.9 1259.5,799.4 1261.3,800.6 1263.0,802.5 1264.8,804.1 1266.5,805.6 1268.2,806.9 1270.0,808.5 1271.7,810.1 1273.5,811.3 1275.2,812.4 1277.0,813.6 1278.7,814.8 1280.4,816.0 1282.2,817.1 1283.9,819.0 1285.7,820.4 1287.4,821.5 1289.1,822.4 1290.9,823.2 1292.6,824.4 1294.4,824.8 1296.1,825.6 1297.8,826.5 1299.6,827.2 1301.3,827.3 1303.1,827.3 1304.8,827.7 1306.5,827.8 1308.3,828.7 1310.0,829.5 1311.8,830.3 1313.5,830.2 1315.3,830.1 1317.0,830.2 1318.7,830.4 1320.5,830.9 1322.2,831.3 1324.0,831.2 1325.7,831.4 1327.4,831.5 1329.2,832.0 1330.9,832.3 1332.7,832.2 1334.4,832.5 1336.1,833.2 1337.9,833.7 1339.6,833.8 1341.4,833.4 1343.1,833.0 1344.8,833.2 1346.6,834.1 1348.3,834.6 1350.1,834.7 1351.8,834.7 1353.5,834.3 1355.3,834.3 1357.0,834.6 1358.8,834.3 1360.5,834.5 1362.3,834.7 1364.0,834.9 1365.7,835.1 1367.5,834.5 1369.2,834.0 1371.0,833.7 1372.7,833.9 1374.4,834.3 1376.2,834.6 1377.9,834.8 1379.7,834.8 1381.4,834.5 1383.1,834.3 1384.9,834.8 1386.6,835.0 1388.4,834.8 1390.1,835.1 1391.8,836.0 1393.6,836.2 1395.3,836.2 1397.1,835.9 1398.8,835.6 1400.5,835.4 1402.3,835.6 1404.0,835.5 1405.8,835.4 1407.5,835.5 1409.3,835.7 1411.0,835.9 1412.7,835.9 1414.5,836.3 1416.2,835.8 1418.0,835.7 1419.7,835.9 1421.4,835.6 1423.2,835.4 1424.9,835.2 1426.7,834.9 1428.4,835.0 1430.1,835.3 1431.9,835.8 1433.6,836.2 1435.4,836.6 1437.1,837.0 1438.8,837.0 1440.6,836.7 1442.3,836.4 1444.1,836.2 1445.8,835.9 1447.5,836.1 1449.3,836.6 1451.0,836.3 1452.8,835.6 1454.5,835.7 1456.3,836.3 1458.0,836.5 1459.7,836.2 1461.5,835.3 1463.2,835.1 1465.0,835.4 1466.7,835.5 1468.4,835.8 1470.2,836.0 1471.9,836.1 1473.7,836.2 1475.4,836.4 1477.1,836.4 1478.9,836.1 1480.6,835.9 1482.4,836.3 1484.1,836.4 1485.8,836.2 1487.6,835.9 1489.3,835.5 1491.1,835.8 1492.8,835.6 1494.5,835.7 1496.3,836.2 1498.0,836.2 1499.8,836.3 1501.5,836.6 1503.3,836.4 1505.0,835.6 1506.7,835.6 1508.5,835.8 1510.2,835.2 1512.0,835.0 1513.7,835.5 1515.4,836.2 1517.2,836.4 1518.9,836.2 1520.7,836.0 1522.4,836.0 1524.1,835.9 1525.9,835.9 1527.6,836.0 1529.4,836.0 1531.1,835.9 1532.8,836.4 1534.6,836.5 1536.3,836.0 1538.1,835.2 1539.8,835.5 1541.5,835.7 1543.3,835.7 1545.0,835.8 1546.8,835.8 1548.5,836.3 1550.3,836.3 1552.0,836.2 1553.7,836.6 1555.5,836.5 1557.2,836.1 1559.0,835.7 1560.7,836.3 1562.4,836.8 1564.2,836.5 1565.9,836.1 1567.7,836.7 1569.4,837.0 1571.1,836.6 1572.9,835.8 1574.6,835.2 1576.4,835.2 1578.1,835.6 1579.8,836.0 1581.6,836.0 1583.3,835.5 1585.1,835.1 1586.8,835.3 1588.5,835.5 1590.3,836.0 1592.0,835.8 1593.8,836.1 1595.5,836.2 1597.3,836.0 1599.0,836.1 1600.7,835.9 1602.5,835.5 1604.2,835.5 1606.0,835.9 1607.7,836.0 1609.4,835.5 1611.2,835.8 1612.9,835.8 1614.7,835.6 1616.4,835.8 1618.1,835.9 1620.0,836.1"/>
<polyline stroke="#F06000" stroke-width="7.6" points="223.8,655.5 225.5,653.0 227.3,649.7 229.0,647.7 230.8,646.5 232.5,646.1 234.2,644.6 236.0,642.4 237.7,640.8 239.5,640.2 241.2,640.0 242.9,640.2 244.7,641.0 246.4,638.9 248.2,635.0 249.9,635.1 251.7,636.8 253.4,638.5 255.1,640.0 256.9,641.6 258.6,642.6 260.4,640.7 262.1,641.6 263.8,644.4 265.6,644.4 267.3,643.0 269.1,640.9 270.8,640.0 272.5,641.4 274.3,641.8 276.0,640.7 277.8,641.0 279.5,641.7 281.2,641.8 283.0,642.8 284.7,643.6 286.5,643.8 288.2,644.2 289.9,646.0 291.7,647.0 293.4,646.5 295.2,646.0 296.9,647.1 298.7,647.4 300.4,647.9 302.1,647.6 303.9,648.7 305.6,648.0 307.4,646.9 309.1,647.8 310.8,649.0 312.6,649.1 314.3,647.9 316.1,647.9 317.8,649.3 319.5,650.0 321.3,651.0 323.0,651.0 324.8,649.8 326.5,651.5 328.2,653.0 330.0,651.9 331.7,651.6 333.5,653.1 335.2,653.9 336.9,653.8 338.7,652.0 340.4,650.7 342.2,651.6 343.9,652.6 345.7,653.3 347.4,651.5 349.1,648.7 350.9,648.7 352.6,650.5 354.4,650.1 356.1,648.2 357.8,647.8 359.6,648.3 361.3,648.7 363.1,648.8 364.8,648.1 366.5,647.5 368.3,647.8 370.0,647.9 371.8,646.2 373.5,647.5 375.2,648.5 377.0,648.5 378.7,650.0 380.5,651.1 382.2,652.7 383.9,653.3 385.7,654.7 387.4,655.7 389.2,654.6 390.9,652.9 392.7,653.6 394.4,656.7 396.1,656.6 397.9,656.1 399.6,657.1 401.4,658.3 403.1,659.8 404.8,660.0 406.6,660.0 408.3,660.3 410.1,661.5 411.8,662.2 413.5,664.7 415.3,665.4 417.0,662.5 418.8,662.3 420.5,667.0 422.2,669.6 424.0,667.0 425.7,665.8 427.5,667.0 429.2,666.7 430.9,666.9 432.7,667.7 434.4,668.7 436.2,668.5 437.9,668.7 439.7,668.1 441.4,667.4 443.1,667.4 444.9,667.5 446.6,667.9 448.4,667.5 450.1,668.7 451.8,671.6 453.6,672.2 455.3,672.9 457.1,674.3 458.8,675.1 460.5,676.9 462.3,679.2 464.0,680.5 465.8,681.3 467.5,683.4 469.2,683.6 471.0,683.5 472.7,684.5 474.5,686.6 476.2,688.0 477.9,686.1 479.7,684.9 481.4,683.6 483.2,685.3 484.9,686.6 486.7,685.4 488.4,684.5 490.1,685.2 491.9,686.2 493.6,686.8 495.4,687.0 497.1,684.7 498.8,682.5 500.6,682.1 502.3,682.1 504.1,682.0 505.8,681.5 507.5,680.3 509.3,679.0 511.0,679.6 512.8,678.4 514.5,677.7 516.2,679.1 518.0,679.6 519.7,677.5 521.5,674.7 523.2,673.5 524.9,674.3 526.7,670.7 528.4,665.3 530.2,662.3 531.9,660.4 533.7,657.7 535.4,656.7 537.1,655.9 538.9,655.4 540.6,652.0 542.4,646.6 544.1,645.2 545.8,644.0 547.6,644.5 549.3,642.8 551.1,640.1 552.8,637.8 554.5,638.1 556.3,635.8 558.0,630.2 559.8,626.6 561.5,623.0 563.2,619.7 565.0,616.8 566.7,615.0 568.5,609.9 570.2,605.4 572.0,601.1 573.7,595.3 575.4,590.2 577.2,585.6 578.9,581.6 580.7,578.0 582.4,575.8 584.1,574.2 585.9,572.3 587.6,570.6 589.4,568.8 591.1,567.0 592.8,563.7 594.6,560.1 596.3,556.3 598.1,552.6 599.8,549.1 601.5,546.3 603.3,541.6 605.0,537.9 606.8,534.8 608.5,529.2 610.2,521.4 612.0,514.8 613.7,512.5 615.5,509.3 617.2,505.3 619.0,503.2 620.7,499.6 622.4,496.4 624.2,494.8 625.9,492.4 627.7,489.0 629.4,485.5 631.1,484.0 632.9,479.0 634.6,474.5 636.4,472.5 638.1,469.4 639.8,466.0 641.6,462.0 643.3,458.4 645.1,454.7 646.8,450.5 648.5,447.2 650.3,442.3 652.0,437.8 653.8,434.8 655.5,431.1 657.2,425.8 659.0,420.6 660.7,415.7 662.5,408.0 664.2,401.5 666.0,395.6 667.7,388.9 669.4,384.3 671.2,380.9 672.9,378.3 674.7,374.8 676.4,372.9 678.1,371.7 679.9,370.8 681.6,373.3 683.4,370.7 685.1,368.7 686.8,368.4 688.6,366.0 690.3,363.5 692.1,364.3 693.8,363.8 695.5,361.3 697.3,359.4 699.0,357.9 700.8,355.5 702.5,354.1 704.2,350.9 706.0,345.7 707.7,340.7 709.5,337.3 711.2,334.1 713.0,331.2 714.7,326.6 716.4,321.9 718.2,316.7 719.9,312.3 721.7,308.8 723.4,307.4 725.1,305.2 726.9,300.2 728.6,296.4 730.4,294.6 732.1,293.6 733.8,293.9 735.6,295.8 737.3,298.3 739.1,301.3 740.8,302.5 742.5,303.9 744.3,305.2 746.0,305.2 747.8,305.7 749.5,304.0 751.2,303.1 753.0,303.4 754.7,303.4 756.5,302.4 758.2,302.2 760.0,301.9 761.7,303.1 763.4,301.3 765.2,298.4 766.9,296.4 768.7,295.6 770.4,294.3 772.1,292.0 773.9,290.4 775.6,289.5 777.4,288.8 779.1,289.1 780.8,288.3 782.6,286.3 784.3,285.0 786.1,284.2 787.8,286.2 789.5,288.0 791.3,290.0 793.0,290.9 794.8,289.3 796.5,291.1 798.2,292.9 800.0,295.1 801.7,295.9 803.5,298.5 805.2,302.3 807.0,305.3 808.7,306.7 810.4,308.1 812.2,311.3 813.9,315.3 815.7,317.4 817.4,319.7 819.1,325.4 820.9,330.2 822.6,334.0 824.4,336.8 826.1,340.2 827.8,343.1 829.6,347.5 831.3,351.8 833.1,356.8 834.8,360.6 836.5,362.8 838.3,366.3 840.0,370.4 841.8,374.4 843.5,376.3 845.2,377.6 847.0,381.9 848.7,387.0 850.5,390.8 852.2,392.6 854.0,398.3 855.7,405.3 857.4,409.7 859.2,415.6 860.9,423.2 862.7,429.6 864.4,434.3 866.1,440.3 867.9,446.5 869.6,452.6 871.4,456.9 873.1,461.1 874.8,464.1 876.6,468.3 878.3,473.2 880.1,478.2 881.8,481.5 883.5,484.5 885.3,489.2 887.0,493.5 888.8,496.6 890.5,499.7 892.2,503.0 894.0,506.5 895.7,511.9 897.5,516.9 899.2,521.6 901.0,527.2 902.7,532.2 904.4,538.5 906.2,545.6 907.9,552.5 909.7,557.2 911.4,563.9 913.1,570.7 914.9,576.6 916.6,581.8 918.4,585.7 920.1,590.7 921.8,597.5 923.6,602.0 925.3,606.2 927.1,611.0 928.8,617.4 930.5,622.7 932.3,627.4 934.0,633.1 935.8,638.2 937.5,643.1 939.2,648.5 941.0,654.1 942.7,659.7 944.5,664.2 946.2,667.9 948.0,671.7 949.7,674.4 951.4,677.8 953.2,681.3 954.9,684.6 956.7,687.0 958.4,690.5 960.1,692.8 961.9,694.9 963.6,697.7 965.4,701.2 967.1,703.7 968.8,705.5 970.6,708.0 972.3,711.1 974.1,714.5 975.8,718.5 977.5,721.7 979.3,723.7 981.0,725.2 982.8,726.9 984.5,729.5 986.2,732.6 988.0,735.0 989.7,736.2 991.5,736.8 993.2,737.9 995.0,739.1 996.7,740.5 998.4,742.5 1000.2,744.8 1001.9,746.9 1003.7,747.9 1005.4,749.4 1007.1,750.6 1008.9,751.2 1010.6,752.3 1012.4,752.7 1014.1,752.9 1015.8,753.6 1017.6,754.2 1019.3,754.6 1021.1,755.2 1022.8,755.8 1024.5,756.2 1026.3,756.1 1028.0,756.3 1029.8,756.4 1031.5,757.5 1033.2,758.3 1035.0,758.6 1036.7,758.8 1038.5,758.8 1040.2,758.5 1042.0,758.8 1043.7,759.6 1045.4,760.2 1047.2,760.7 1048.9,761.1 1050.7,760.7 1052.4,760.8 1054.1,760.8 1055.9,760.0 1057.6,759.2 1059.4,759.2 1061.1,760.0 1062.8,760.6 1064.6,760.2 1066.3,759.6 1068.1,759.0 1069.8,758.4 1071.5,757.4 1073.3,757.5 1075.0,757.2 1076.8,756.9 1078.5,757.0 1080.2,755.6 1082.0,754.5 1083.7,754.3 1085.5,754.5 1087.2,753.7 1089.0,753.4 1090.7,752.7 1092.4,751.5 1094.2,750.1 1095.9,749.8 1097.7,749.8 1099.4,748.4 1101.1,747.7 1102.9,747.9 1104.6,748.2 1106.4,747.9 1108.1,747.3 1109.8,746.7 1111.6,746.8 1113.3,746.2 1115.1,745.6 1116.8,746.2 1118.5,746.0 1120.3,744.3 1122.0,743.4 1123.8,742.4 1125.5,740.2 1127.2,738.8 1129.0,737.8 1130.7,737.5 1132.5,736.9 1134.2,736.2 1136.0,734.7 1137.7,733.2 1139.4,733.1 1141.2,733.2 1142.9,732.7 1144.7,732.3 1146.4,731.9 1148.1,731.9 1149.9,731.6 1151.6,732.2 1153.4,732.6 1155.1,733.2 1156.8,733.2 1158.6,733.3 1160.3,734.3 1162.1,735.4 1163.8,735.5 1165.5,735.9 1167.3,736.5 1169.0,737.4 1170.8,739.0 1172.5,740.2 1174.2,740.5 1176.0,740.5 1177.7,740.8 1179.5,741.3 1181.2,741.9 1183.0,743.3 1184.7,744.5 1186.4,745.2 1188.2,745.8 1189.9,746.9 1191.7,748.6 1193.4,750.4 1195.1,751.0 1196.9,751.8 1198.6,754.1 1200.4,756.4 1202.1,757.9 1203.8,759.1 1205.6,759.8 1207.3,760.6 1209.1,762.4 1210.8,764.4 1212.5,767.0 1214.3,769.4 1216.0,771.4 1217.8,773.0 1219.5,774.8 1221.2,776.3 1223.0,778.0 1224.7,779.9 1226.5,780.8 1228.2,782.3 1230.0,784.0 1231.7,785.9 1233.4,787.3 1235.2,789.1 1236.9,790.8 1238.7,791.9 1240.4,793.3 1242.1,795.2 1243.9,797.1 1245.6,799.0 1247.4,799.8 1249.1,800.3 1250.8,801.7 1252.6,803.9 1254.3,805.7 1256.1,806.5 1257.8,807.5 1259.5,808.8 1261.3,809.2 1263.0,809.5 1264.8,810.2 1266.5,811.8 1268.2,813.3 1270.0,813.5 1271.7,814.1 1273.5,814.9 1275.2,816.3 1277.0,817.5 1278.7,818.3 1280.4,819.3 1282.2,820.2 1283.9,821.1 1285.7,822.1 1287.4,822.5 1289.1,822.4 1290.9,822.7 1292.6,823.4 1294.4,824.5 1296.1,825.7 1297.8,826.8 1299.6,827.4 1301.3,827.1 1303.1,827.3 1304.8,827.9 1306.5,827.6 1308.3,828.3 1310.0,829.1 1311.8,829.2 1313.5,829.6 1315.3,830.2 1317.0,831.0 1318.7,831.3 1320.5,831.6 1322.2,831.8 1324.0,831.9 1325.7,831.9 1327.4,831.1 1329.2,830.4 1330.9,830.4 1332.7,830.5 1334.4,831.3 1336.1,832.1 1337.9,831.9 1339.6,831.4 1341.4,831.1 1343.1,831.3 1344.8,831.4 1346.6,831.2 1348.3,831.1 1350.1,831.5 1351.8,831.8 1353.5,831.1 1355.3,831.0 1357.0,830.9 1358.8,831.3 1360.5,831.1 1362.3,831.0 1364.0,831.9 1365.7,832.8 1367.5,832.7 1369.2,832.5 1371.0,831.7 1372.7,831.1 1374.4,831.5 1376.2,831.4 1377.9,831.3 1379.7,831.9 1381.4,832.0 1383.1,831.9 1384.9,831.9 1386.6,831.7 1388.4,831.7 1390.1,831.5 1391.8,831.6 1393.6,831.6 1395.3,832.2 1397.1,832.3 1398.8,832.2 1400.5,831.5 1402.3,831.3 1404.0,831.1 1405.8,830.2 1407.5,830.6 1409.3,831.7 1411.0,832.0 1412.7,831.9 1414.5,831.5 1416.2,831.3 1418.0,830.7 1419.7,830.1 1421.4,830.0 1423.2,830.3 1424.9,830.4 1426.7,829.9 1428.4,829.9 1430.1,829.9 1431.9,830.3 1433.6,830.8 1435.4,830.5 1437.1,830.1 1438.8,830.2 1440.6,831.2 1442.3,831.3 1444.1,832.0 1445.8,832.1 1447.5,831.4 1449.3,830.8 1451.0,830.7 1452.8,830.5 1454.5,830.9 1456.3,831.2 1458.0,831.6 1459.7,832.0 1461.5,832.0 1463.2,831.5 1465.0,831.3 1466.7,830.7 1468.4,830.3 1470.2,830.3 1471.9,830.7 1473.7,831.6 1475.4,832.0 1477.1,832.0 1478.9,831.5 1480.6,831.1 1482.4,830.7 1484.1,830.6 1485.8,831.1 1487.6,831.1 1489.3,830.8 1491.1,830.8 1492.8,830.4 1494.5,830.6 1496.3,830.7 1498.0,830.7 1499.8,830.9 1501.5,831.7 1503.3,832.0 1505.0,832.0 1506.7,831.4 1508.5,830.7 1510.2,830.6 1512.0,830.8 1513.7,831.6 1515.4,832.1 1517.2,831.7 1518.9,831.2 1520.7,831.1 1522.4,831.1 1524.1,830.8 1525.9,831.2 1527.6,831.4 1529.4,831.2 1531.1,831.2 1532.8,831.2 1534.6,830.9 1536.3,831.1 1538.1,831.7 1539.8,832.1 1541.5,832.1 1543.3,831.0 1545.0,830.7 1546.8,831.6 1548.5,831.8 1550.3,831.0 1552.0,830.5 1553.7,830.6 1555.5,830.3 1557.2,830.3 1559.0,830.1 1560.7,830.2 1562.4,830.2 1564.2,831.1 1565.9,831.9 1567.7,831.7 1569.4,831.5 1571.1,830.9 1572.9,830.4 1574.6,830.5 1576.4,831.4 1578.1,831.7 1579.8,831.7 1581.6,830.9 1583.3,830.9 1585.1,831.4 1586.8,832.2 1588.5,832.1 1590.3,830.8 1592.0,830.0 1593.8,830.1 1595.5,831.0 1597.3,830.9 1599.0,830.5 1600.7,829.9 1602.5,829.5 1604.2,829.5 1606.0,830.7 1607.7,831.0 1609.4,830.7 1611.2,830.4 1612.9,831.0 1614.7,831.2 1616.4,830.4 1618.1,830.2 1620.0,830.3"/>
<polyline stroke="#FFD966" stroke-width="7.3" points="223.8,699.8 225.5,698.1 227.3,698.2 229.0,698.9 230.8,699.9 232.5,701.1 234.2,701.4 236.0,701.8 237.7,700.4 239.5,697.9 241.2,695.7 242.9,696.0 244.7,698.8 246.4,701.0 248.2,701.4 249.9,699.7 251.7,698.9 253.4,698.0 255.1,697.3 256.9,696.9 258.6,699.1 260.4,699.6 262.1,700.4 263.8,701.2 265.6,700.9 267.3,700.6 269.1,702.9 270.8,703.4 272.5,702.0 274.3,699.5 276.0,697.6 277.8,697.8 279.5,699.7 281.2,700.9 283.0,701.7 284.7,703.6 286.5,703.5 288.2,703.4 289.9,702.3 291.7,700.9 293.4,701.7 295.2,701.0 296.9,699.9 298.7,701.5 300.4,703.0 302.1,702.9 303.9,701.4 305.6,698.6 307.4,698.3 309.1,698.6 310.8,699.3 312.6,700.2 314.3,701.1 316.1,700.3 317.8,699.1 319.5,700.4 321.3,701.1 323.0,698.7 324.8,695.8 326.5,695.6 328.2,695.6 330.0,694.8 331.7,695.2 333.5,695.6 335.2,697.5 336.9,697.6 338.7,696.0 340.4,694.5 342.2,694.8 343.9,694.4 345.7,694.7 347.4,695.5 349.1,693.8 350.9,693.3 352.6,696.1 354.4,698.3 356.1,698.1 357.8,698.0 359.6,697.9 361.3,696.9 363.1,697.7 364.8,697.6 366.5,695.2 368.3,693.4 370.0,691.6 371.8,691.8 373.5,692.9 375.2,692.6 377.0,693.7 378.7,694.6 380.5,695.3 382.2,696.7 383.9,697.5 385.7,696.5 387.4,696.7 389.2,696.5 390.9,694.1 392.7,692.0 394.4,691.6 396.1,695.0 397.9,697.9 399.6,699.4 401.4,700.5 403.1,701.0 404.8,700.2 406.6,698.5 408.3,697.9 410.1,699.3 411.8,700.4 413.5,700.3 415.3,700.2 417.0,700.7 418.8,701.2 420.5,700.1 422.2,701.3 424.0,703.4 425.7,705.2 427.5,705.5 429.2,704.5 430.9,703.8 432.7,704.7 434.4,707.5 436.2,708.4 437.9,707.7 439.7,706.5 441.4,707.1 443.1,709.5 444.9,710.3 446.6,711.3 448.4,711.5 450.1,709.0 451.8,708.9 453.6,710.7 455.3,711.1 457.1,710.0 458.8,710.1 460.5,710.2 462.3,710.9 464.0,712.4 465.8,713.7 467.5,715.1 469.2,715.5 471.0,715.4 472.7,713.9 474.5,713.5 476.2,712.2 477.9,712.3 479.7,714.2 481.4,717.5 483.2,718.1 484.9,718.1 486.7,720.8 488.4,721.5 490.1,720.0 491.9,718.9 493.6,718.0 495.4,717.6 497.1,718.6 498.8,715.7 500.6,713.0 502.3,710.7 504.1,708.5 505.8,706.9 507.5,705.9 509.3,703.4 511.0,701.9 512.8,701.8 514.5,701.8 516.2,699.4 518.0,697.9 519.7,697.4 521.5,695.8 523.2,695.6 524.9,696.0 526.7,695.0 528.4,693.7 530.2,692.8 531.9,689.4 533.7,686.1 535.4,684.0 537.1,684.5 538.9,684.5 540.6,683.6 542.4,684.3 544.1,682.9 545.8,679.7 547.6,676.1 549.3,674.8 551.1,672.7 552.8,669.4 554.5,668.6 556.3,666.9 558.0,665.1 559.8,666.3 561.5,666.8 563.2,663.5 565.0,659.2 566.7,657.4 568.5,656.4 570.2,653.5 572.0,651.9 573.7,650.4 575.4,649.3 577.2,647.9 578.9,644.5 580.7,643.9 582.4,642.0 584.1,638.8 585.9,635.8 587.6,634.9 589.4,631.8 591.1,629.0 592.8,627.2 594.6,625.2 596.3,623.9 598.1,622.6 599.8,622.1 601.5,622.6 603.3,620.6 605.0,617.6 606.8,616.6 608.5,614.3 610.2,609.3 612.0,604.3 613.7,602.9 615.5,600.9 617.2,596.3 619.0,593.7 620.7,592.4 622.4,590.1 624.2,586.2 625.9,581.6 627.7,577.1 629.4,573.9 631.1,572.3 632.9,569.1 634.6,564.2 636.4,561.2 638.1,560.1 639.8,556.6 641.6,550.7 643.3,546.3 645.1,545.4 646.8,544.6 648.5,542.0 650.3,537.3 652.0,531.6 653.8,528.6 655.5,525.7 657.2,523.9 659.0,523.3 660.7,518.6 662.5,513.9 664.2,510.4 666.0,508.2 667.7,505.2 669.4,500.2 671.2,495.7 672.9,491.2 674.7,487.2 676.4,484.8 678.1,482.5 679.9,478.8 681.6,474.4 683.4,470.4 685.1,469.6 686.8,468.7 688.6,466.5 690.3,461.1 692.1,455.9 693.8,453.4 695.5,452.3 697.3,451.6 699.0,449.2 700.8,445.5 702.5,444.5 704.2,444.3 706.0,441.8 707.7,438.5 709.5,435.1 711.2,431.6 713.0,429.9 714.7,430.5 716.4,431.7 718.2,430.3 719.9,427.4 721.7,425.8 723.4,424.5 725.1,422.7 726.9,419.5 728.6,418.1 730.4,416.4 732.1,413.1 733.8,412.0 735.6,411.7 737.3,411.1 739.1,410.2 740.8,409.5 742.5,409.2 744.3,408.8 746.0,408.2 747.8,407.9 749.5,405.2 751.2,403.9 753.0,403.3 754.7,401.4 756.5,399.9 758.2,400.8 760.0,402.9 761.7,401.9 763.4,402.0 765.2,404.7 766.9,404.4 768.7,402.8 770.4,401.4 772.1,401.8 773.9,401.9 775.6,402.4 777.4,402.3 779.1,402.1 780.8,401.9 782.6,401.1 784.3,401.5 786.1,402.8 787.8,405.4 789.5,407.1 791.3,407.1 793.0,406.6 794.8,409.7 796.5,410.5 798.2,410.9 800.0,412.2 801.7,414.1 803.5,416.2 805.2,416.6 807.0,417.6 808.7,419.3 810.4,419.6 812.2,417.3 813.9,416.0 815.7,417.3 817.4,418.7 819.1,423.1 820.9,426.2 822.6,428.5 824.4,431.1 826.1,434.2 827.8,437.8 829.6,440.1 831.3,441.1 833.1,444.9 834.8,447.4 836.5,448.6 838.3,451.3 840.0,453.5 841.8,455.7 843.5,459.4 845.2,462.1 847.0,465.7 848.7,468.6 850.5,472.5 852.2,476.5 854.0,478.9 855.7,481.3 857.4,485.6 859.2,490.3 860.9,494.5 862.7,498.2 864.4,503.6 866.1,507.8 867.9,512.3 869.6,518.1 871.4,522.7 873.1,526.5 874.8,529.3 876.6,532.3 878.3,537.9 880.1,543.0 881.8,547.3 883.5,552.1 885.3,555.8 887.0,560.0 888.8,562.6 890.5,563.9 892.2,566.3 894.0,570.2 895.7,574.3 897.5,577.8 899.2,580.2 901.0,583.8 902.7,588.9 904.4,591.8 906.2,595.2 907.9,598.7 909.7,600.0 911.4,601.3 913.1,605.3 914.9,608.9 916.6,611.9 918.4,613.6 920.1,617.4 921.8,621.6 923.6,625.1 925.3,627.4 927.1,629.3 928.8,630.6 930.5,632.3 932.3,634.5 934.0,638.3 935.8,641.3 937.5,642.2 939.2,642.4 941.0,643.6 942.7,646.7 944.5,650.0 946.2,651.0 948.0,651.6 949.7,653.5 951.4,655.5 953.2,656.1 954.9,656.9 956.7,657.9 958.4,659.5 960.1,661.5 961.9,661.8 963.6,662.8 965.4,663.9 967.1,663.8 968.8,663.8 970.6,664.2 972.3,664.7 974.1,664.9 975.8,665.2 977.5,666.0 979.3,667.3 981.0,668.5 982.8,668.3 984.5,668.4 986.2,667.9 988.0,667.3 989.7,667.4 991.5,667.9 993.2,667.7 995.0,668.2 996.7,668.4 998.4,668.5 1000.2,667.7 1001.9,668.0 1003.7,667.9 1005.4,666.9 1007.1,665.6 1008.9,665.2 1010.6,664.6 1012.4,664.0 1014.1,663.5 1015.8,662.5 1017.6,661.7 1019.3,660.9 1021.1,659.3 1022.8,657.8 1024.5,656.6 1026.3,654.7 1028.0,652.7 1029.8,651.9 1031.5,650.7 1033.2,648.7 1035.0,646.9 1036.7,646.0 1038.5,644.6 1040.2,643.3 1042.0,641.9 1043.7,640.5 1045.4,638.5 1047.2,636.7 1048.9,634.8 1050.7,632.5 1052.4,630.8 1054.1,628.5 1055.9,625.2 1057.6,623.3 1059.4,622.4 1061.1,621.1 1062.8,618.3 1064.6,615.3 1066.3,613.4 1068.1,612.3 1069.8,610.6 1071.5,608.5 1073.3,606.8 1075.0,604.9 1076.8,603.1 1078.5,600.4 1080.2,598.7 1082.0,597.3 1083.7,594.9 1085.5,592.8 1087.2,591.6 1089.0,590.8 1090.7,589.0 1092.4,586.9 1094.2,584.3 1095.9,582.5 1097.7,581.1 1099.4,578.9 1101.1,576.1 1102.9,573.6 1104.6,572.5 1106.4,570.8 1108.1,567.8 1109.8,564.1 1111.6,561.3 1113.3,559.1 1115.1,557.0 1116.8,555.0 1118.5,552.1 1120.3,549.5 1122.0,547.0 1123.8,545.1 1125.5,544.0 1127.2,542.0 1129.0,539.5 1130.7,537.3 1132.5,535.3 1134.2,534.2 1136.0,531.9 1137.7,529.9 1139.4,529.0 1141.2,528.8 1142.9,528.1 1144.7,527.4 1146.4,526.4 1148.1,525.3 1149.9,524.2 1151.6,522.9 1153.4,522.9 1155.1,523.1 1156.8,523.0 1158.6,523.0 1160.3,523.4 1162.1,524.1 1163.8,525.2 1165.5,527.5 1167.3,530.2 1169.0,532.1 1170.8,533.1 1172.5,534.4 1174.2,536.3 1176.0,538.6 1177.7,541.4 1179.5,544.4 1181.2,547.1 1183.0,548.9 1184.7,552.0 1186.4,555.8 1188.2,560.0 1189.9,564.5 1191.7,569.0 1193.4,572.9 1195.1,577.5 1196.9,582.1 1198.6,586.9 1200.4,592.2 1202.1,597.7 1203.8,602.8 1205.6,608.0 1207.3,613.7 1209.1,619.0 1210.8,623.9 1212.5,629.6 1214.3,635.1 1216.0,640.6 1217.8,646.3 1219.5,651.7 1221.2,656.2 1223.0,661.4 1224.7,666.5 1226.5,672.5 1228.2,678.2 1230.0,683.3 1231.7,689.3 1233.4,694.8 1235.2,699.9 1236.9,705.2 1238.7,710.7 1240.4,716.4 1242.1,722.1 1243.9,728.0 1245.6,733.1 1247.4,737.8 1249.1,743.3 1250.8,748.4 1252.6,753.0 1254.3,756.4 1256.1,759.7 1257.8,763.9 1259.5,768.0 1261.3,771.8 1263.0,775.3 1264.8,779.3 1266.5,782.6 1268.2,784.9 1270.0,787.7 1271.7,790.8 1273.5,794.2 1275.2,797.0 1277.0,799.2 1278.7,802.4 1280.4,804.7 1282.2,806.4 1283.9,809.1 1285.7,811.2 1287.4,812.8 1289.1,814.2 1290.9,815.6 1292.6,817.4 1294.4,818.9 1296.1,820.7 1297.8,822.3 1299.6,823.2 1301.3,824.3 1303.1,825.8 1304.8,827.2 1306.5,828.1 1308.3,828.9 1310.0,830.2 1311.8,831.0 1313.5,831.1 1315.3,831.4 1317.0,831.5 1318.7,832.2 1320.5,832.9 1322.2,833.6 1324.0,833.7 1325.7,833.8 1327.4,834.8 1329.2,835.5 1330.9,836.7 1332.7,837.4 1334.4,837.3 1336.1,837.1 1337.9,837.0 1339.6,837.0 1341.4,837.7 1343.1,838.5 1344.8,838.6 1346.6,838.5 1348.3,839.1 1350.1,839.1 1351.8,838.7 1353.5,838.8 1355.3,838.6 1357.0,838.9 1358.8,839.6 1360.5,840.4 1362.3,840.4 1364.0,839.2 1365.7,839.0 1367.5,839.3 1369.2,839.6 1371.0,839.3 1372.7,839.0 1374.4,838.8 1376.2,838.5 1377.9,838.5 1379.7,838.8 1381.4,838.8 1383.1,838.6 1384.9,838.6 1386.6,838.2 1388.4,838.0 1390.1,838.2 1391.8,838.4 1393.6,838.4 1395.3,838.6 1397.1,838.4 1398.8,838.3 1400.5,838.3 1402.3,837.9 1404.0,837.5 1405.8,837.8 1407.5,838.5 1409.3,838.7 1411.0,838.4 1412.7,837.7 1414.5,837.3 1416.2,837.5 1418.0,837.8 1419.7,838.1 1421.4,838.1 1423.2,838.1 1424.9,838.4 1426.7,838.3 1428.4,838.3 1430.1,838.5 1431.9,839.1 1433.6,839.3 1435.4,839.4 1437.1,839.6 1438.8,839.4 1440.6,838.7 1442.3,838.6 1444.1,838.4 1445.8,838.4 1447.5,838.3 1449.3,838.0 1451.0,838.2 1452.8,838.8 1454.5,839.2 1456.3,839.2 1458.0,838.9 1459.7,838.7 1461.5,838.6 1463.2,838.5 1465.0,838.4 1466.7,838.4 1468.4,838.1 1470.2,837.8 1471.9,837.8 1473.7,838.2 1475.4,838.3 1477.1,838.4 1478.9,838.4 1480.6,838.3 1482.4,838.6 1484.1,838.7 1485.8,838.4 1487.6,838.2 1489.3,839.0 1491.1,839.4 1492.8,839.6 1494.5,839.7 1496.3,839.3 1498.0,839.6 1499.8,839.5 1501.5,839.6 1503.3,839.5 1505.0,838.9 1506.7,838.8 1508.5,838.8 1510.2,838.9 1512.0,838.9 1513.7,839.6 1515.4,839.5 1517.2,838.9 1518.9,838.8 1520.7,839.3 1522.4,839.1 1524.1,839.0 1525.9,838.5 1527.6,838.4 1529.4,838.0 1531.1,838.3 1532.8,838.1 1534.6,838.3 1536.3,839.0 1538.1,839.0 1539.8,838.5 1541.5,838.4 1543.3,838.5 1545.0,838.0 1546.8,838.0 1548.5,838.1 1550.3,838.4 1552.0,838.4 1553.7,838.2 1555.5,838.1 1557.2,838.5 1559.0,838.8 1560.7,839.0 1562.4,839.3 1564.2,838.9 1565.9,839.1 1567.7,839.5 1569.4,839.0 1571.1,838.4 1572.9,838.0 1574.6,838.3 1576.4,838.5 1578.1,838.6 1579.8,838.7 1581.6,839.3 1583.3,839.5 1585.1,839.3 1586.8,838.5 1588.5,838.0 1590.3,838.5 1592.0,838.7 1593.8,839.0 1595.5,839.5 1597.3,839.3 1599.0,839.1 1600.7,839.1 1602.5,839.2 1604.2,839.2 1606.0,839.2 1607.7,838.9 1609.4,838.4 1611.2,838.3 1612.9,838.8 1614.7,839.1 1616.4,838.9 1618.1,838.1 1620.0,837.5"/>
<polyline stroke="#DE9A00" stroke-width="7.3" points="223.8,703.5 225.5,703.4 227.3,703.2 229.0,703.0 230.8,704.0 232.5,704.3 234.2,704.0 236.0,702.6 237.7,702.6 239.5,703.2 241.2,703.0 242.9,702.5 244.7,702.1 246.4,702.9 248.2,703.4 249.9,703.5 251.7,703.8 253.4,704.2 255.1,703.8 256.9,704.4 258.6,704.2 260.4,704.2 262.1,704.7 263.8,706.0 265.6,706.0 267.3,705.2 269.1,705.5 270.8,707.1 272.5,705.8 274.3,703.7 276.0,703.9 277.8,704.7 279.5,705.2 281.2,704.3 283.0,703.9 284.7,703.9 286.5,701.1 288.2,700.4 289.9,701.5 291.7,702.3 293.4,703.0 295.2,703.6 296.9,703.9 298.7,703.7 300.4,706.4 302.1,704.8 303.9,701.8 305.6,700.4 307.4,699.4 309.1,698.5 310.8,699.7 312.6,699.3 314.3,698.8 316.1,698.4 317.8,698.8 319.5,699.2 321.3,699.2 323.0,700.2 324.8,698.5 326.5,698.2 328.2,699.2 330.0,700.0 331.7,699.7 333.5,699.3 335.2,699.2 336.9,698.4 338.7,697.2 340.4,697.2 342.2,696.0 343.9,695.1 345.7,695.6 347.4,696.1 349.1,696.7 350.9,696.5 352.6,695.9 354.4,695.9 356.1,695.1 357.8,694.7 359.6,696.8 361.3,696.5 363.1,696.0 364.8,695.5 366.5,693.7 368.3,694.0 370.0,694.5 371.8,692.8 373.5,694.1 375.2,696.9 377.0,696.3 378.7,694.5 380.5,695.0 382.2,695.5 383.9,694.6 385.7,694.9 387.4,695.7 389.2,696.6 390.9,697.7 392.7,696.8 394.4,696.2 396.1,696.2 397.9,695.8 399.6,695.6 401.4,696.5 403.1,698.6 404.8,702.2 406.6,702.7 408.3,699.0 410.1,696.6 411.8,698.6 413.5,701.1 415.3,701.7 417.0,703.1 418.8,703.4 420.5,702.5 422.2,702.2 424.0,702.1 425.7,702.5 427.5,703.0 429.2,705.1 430.9,707.7 432.7,708.1 434.4,708.8 436.2,708.0 437.9,706.6 439.7,707.3 441.4,707.6 443.1,707.7 444.9,709.8 446.6,712.8 448.4,713.4 450.1,711.7 451.8,711.0 453.6,712.2 455.3,713.8 457.1,714.5 458.8,712.8 460.5,711.8 462.3,711.7 464.0,711.4 465.8,713.1 467.5,714.1 469.2,713.6 471.0,715.4 472.7,715.8 474.5,716.4 476.2,717.4 477.9,718.6 479.7,719.2 481.4,718.8 483.2,719.1 484.9,722.1 486.7,723.4 488.4,724.3 490.1,724.7 491.9,724.9 493.6,723.4 495.4,723.2 497.1,724.4 498.8,723.1 500.6,721.5 502.3,719.4 504.1,716.1 505.8,711.2 507.5,710.1 509.3,710.6 511.0,709.9 512.8,707.7 514.5,706.0 516.2,703.8 518.0,701.9 519.7,700.0 521.5,700.8 523.2,701.4 524.9,698.8 526.7,697.1 528.4,694.6 530.2,694.4 531.9,695.5 533.7,692.5 535.4,689.8 537.1,686.7 538.9,684.3 540.6,684.6 542.4,684.4 544.1,681.1 545.8,678.8 547.6,678.4 549.3,678.3 551.1,677.0 552.8,676.7 554.5,674.2 556.3,669.7 558.0,667.6 559.8,667.3 561.5,666.6 563.2,666.7 565.0,665.4 566.7,662.6 568.5,661.5 570.2,659.7 572.0,657.4 573.7,655.6 575.4,652.8 577.2,650.5 578.9,647.9 580.7,647.1 582.4,648.6 584.1,648.0 585.9,645.2 587.6,642.8 589.4,639.4 591.1,637.4 592.8,637.4 594.6,636.6 596.3,633.4 598.1,630.3 599.8,627.0 601.5,623.0 603.3,619.8 605.0,618.8 606.8,617.4 608.5,617.5 610.2,615.1 612.0,612.4 613.7,608.8 615.5,603.9 617.2,601.3 619.0,600.8 620.7,598.0 622.4,594.1 624.2,589.8 625.9,585.0 627.7,583.8 629.4,581.4 631.1,578.9 632.9,577.0 634.6,574.8 636.4,570.4 638.1,565.4 639.8,562.4 641.6,560.6 643.3,554.5 645.1,550.9 646.8,547.9 648.5,544.3 650.3,541.1 652.0,538.0 653.8,534.2 655.5,531.6 657.2,528.6 659.0,524.4 660.7,522.1 662.5,519.8 664.2,516.5 666.0,513.1 667.7,509.6 669.4,505.8 671.2,502.7 672.9,500.8 674.7,497.9 676.4,495.5 678.1,494.0 679.9,490.7 681.6,486.8 683.4,484.9 685.1,481.5 686.8,478.0 688.6,474.0 690.3,473.1 692.1,469.5 693.8,465.0 695.5,460.6 697.3,457.9 699.0,455.5 700.8,455.9 702.5,456.3 704.2,453.5 706.0,450.9 707.7,449.8 709.5,446.9 711.2,442.7 713.0,439.1 714.7,436.4 716.4,435.0 718.2,433.0 719.9,432.8 721.7,430.7 723.4,430.5 725.1,429.9 726.9,427.3 728.6,426.7 730.4,426.8 732.1,424.5 733.8,423.3 735.6,420.9 737.3,417.2 739.1,416.2 740.8,415.0 742.5,415.5 744.3,416.2 746.0,416.6 747.8,415.4 749.5,415.2 751.2,416.5 753.0,417.8 754.7,417.5 756.5,416.7 758.2,413.7 760.0,412.5 761.7,413.3 763.4,412.9 765.2,413.5 766.9,415.1 768.7,416.9 770.4,416.9 772.1,416.8 773.9,416.0 775.6,413.9 777.4,414.1 779.1,414.9 780.8,412.3 782.6,411.6 784.3,412.8 786.1,415.6 787.8,416.8 789.5,419.0 791.3,420.7 793.0,421.7 794.8,420.8 796.5,416.4 798.2,417.3 800.0,421.4 801.7,424.7 803.5,423.8 805.2,423.3 807.0,423.4 808.7,425.3 810.4,427.7 812.2,429.1 813.9,430.8 815.7,432.2 817.4,431.9 819.1,430.8 820.9,431.8 822.6,434.8 824.4,439.4 826.1,440.3 827.8,442.0 829.6,444.7 831.3,448.5 833.1,451.8 834.8,453.7 836.5,456.6 838.3,460.5 840.0,463.0 841.8,466.9 843.5,470.1 845.2,474.1 847.0,478.6 848.7,482.0 850.5,484.3 852.2,485.5 854.0,487.9 855.7,490.2 857.4,493.4 859.2,498.1 860.9,503.5 862.7,508.3 864.4,512.5 866.1,516.8 867.9,522.5 869.6,528.6 871.4,534.0 873.1,537.4 874.8,542.2 876.6,547.5 878.3,552.4 880.1,556.6 881.8,560.6 883.5,563.0 885.3,564.6 887.0,567.6 888.8,571.6 890.5,575.2 892.2,579.2 894.0,582.2 895.7,585.3 897.5,588.9 899.2,593.8 901.0,596.0 902.7,598.9 904.4,602.2 906.2,606.8 907.9,611.0 909.7,613.1 911.4,614.5 913.1,618.6 914.9,622.9 916.6,625.6 918.4,626.5 920.1,628.0 921.8,631.0 923.6,635.6 925.3,637.4 927.1,638.8 928.8,641.0 930.5,644.2 932.3,647.3 934.0,649.3 935.8,650.1 937.5,651.7 939.2,654.6 941.0,657.1 942.7,660.2 944.5,661.6 946.2,662.8 948.0,664.4 949.7,664.8 951.4,666.8 953.2,668.8 954.9,670.0 956.7,670.6 958.4,672.2 960.1,674.0 961.9,674.9 963.6,674.7 965.4,674.7 967.1,675.7 968.8,676.0 970.6,677.2 972.3,679.0 974.1,680.5 975.8,679.4 977.5,678.4 979.3,679.2 981.0,680.5 982.8,681.1 984.5,682.1 986.2,682.2 988.0,682.4 989.7,682.0 991.5,680.9 993.2,680.6 995.0,680.2 996.7,680.2 998.4,679.8 1000.2,679.4 1001.9,678.5 1003.7,677.7 1005.4,676.8 1007.1,676.5 1008.9,676.6 1010.6,675.4 1012.4,674.0 1014.1,673.4 1015.8,673.7 1017.6,673.7 1019.3,672.6 1021.1,671.5 1022.8,670.2 1024.5,669.1 1026.3,668.4 1028.0,667.8 1029.8,667.4 1031.5,665.8 1033.2,663.9 1035.0,661.7 1036.7,659.7 1038.5,657.6 1040.2,656.0 1042.0,654.1 1043.7,652.6 1045.4,650.9 1047.2,649.0 1048.9,647.4 1050.7,646.0 1052.4,645.9 1054.1,644.9 1055.9,643.6 1057.6,641.3 1059.4,638.7 1061.1,636.9 1062.8,634.7 1064.6,632.6 1066.3,631.4 1068.1,630.6 1069.8,629.5 1071.5,627.3 1073.3,624.4 1075.0,622.6 1076.8,621.6 1078.5,620.0 1080.2,618.1 1082.0,616.6 1083.7,615.5 1085.5,613.6 1087.2,611.2 1089.0,609.1 1090.7,607.4 1092.4,605.5 1094.2,604.4 1095.9,603.8 1097.7,602.1 1099.4,599.8 1101.1,598.0 1102.9,596.3 1104.6,593.5 1106.4,591.1 1108.1,589.3 1109.8,586.8 1111.6,583.9 1113.3,581.7 1115.1,579.4 1116.8,577.7 1118.5,576.1 1120.3,573.4 1122.0,570.7 1123.8,568.6 1125.5,567.4 1127.2,565.8 1129.0,564.5 1130.7,563.3 1132.5,561.6 1134.2,559.9 1136.0,557.9 1137.7,555.4 1139.4,554.1 1141.2,553.2 1142.9,552.9 1144.7,552.1 1146.4,551.3 1148.1,550.2 1149.9,549.1 1151.6,548.7 1153.4,548.8 1155.1,548.6 1156.8,547.7 1158.6,547.4 1160.3,548.2 1162.1,550.2 1163.8,551.8 1165.5,552.8 1167.3,554.7 1169.0,556.9 1170.8,558.6 1172.5,560.4 1174.2,561.6 1176.0,562.6 1177.7,564.5 1179.5,567.6 1181.2,570.6 1183.0,573.5 1184.7,576.0 1186.4,578.6 1188.2,580.9 1189.9,583.7 1191.7,587.5 1193.4,591.5 1195.1,596.0 1196.9,600.9 1198.6,605.9 1200.4,610.1 1202.1,615.0 1203.8,619.7 1205.6,625.0 1207.3,629.4 1209.1,634.9 1210.8,641.1 1212.5,646.4 1214.3,650.9 1216.0,655.5 1217.8,660.3 1219.5,664.9 1221.2,670.4 1223.0,676.1 1224.7,680.7 1226.5,684.7 1228.2,689.8 1230.0,694.5 1231.7,699.0 1233.4,703.7 1235.2,708.6 1236.9,713.8 1238.7,719.2 1240.4,723.7 1242.1,729.0 1243.9,734.5 1245.6,740.0 1247.4,744.5 1249.1,748.6 1250.8,752.7 1252.6,757.3 1254.3,761.7 1256.1,765.5 1257.8,769.6 1259.5,773.4 1261.3,777.1 1263.0,780.6 1264.8,783.4 1266.5,785.9 1268.2,789.1 1270.0,791.4 1271.7,793.9 1273.5,797.1 1275.2,800.3 1277.0,803.0 1278.7,805.1 1280.4,807.5 1282.2,809.2 1283.9,810.9 1285.7,812.2 1287.4,814.1 1289.1,816.0 1290.9,817.9 1292.6,819.5 1294.4,820.7 1296.1,821.8 1297.8,823.1 1299.6,824.0 1301.3,824.7 1303.1,825.6 1304.8,826.9 1306.5,828.1 1308.3,829.4 1310.0,830.6 1311.8,831.2 1313.5,831.3 1315.3,831.9 1317.0,832.6 1318.7,833.6 1320.5,834.3 1322.2,835.2 1324.0,836.1 1325.7,836.9 1327.4,836.9 1329.2,836.3 1330.9,836.3 1332.7,836.7 1334.4,837.3 1336.1,837.9 1337.9,838.0 1339.6,838.0 1341.4,838.2 1343.1,837.9 1344.8,837.8 1346.6,838.1 1348.3,838.9 1350.1,839.3 1351.8,839.6 1353.5,839.8 1355.3,839.9 1357.0,839.7 1358.8,840.1 1360.5,840.3 1362.3,839.5 1364.0,838.4 1365.7,838.3 1367.5,839.0 1369.2,839.4 1371.0,839.0 1372.7,839.2 1374.4,839.6 1376.2,839.7 1377.9,839.1 1379.7,839.2 1381.4,839.1 1383.1,839.1 1384.9,839.5 1386.6,839.5 1388.4,838.8 1390.1,838.3 1391.8,838.5 1393.6,838.3 1395.3,838.1 1397.1,838.1 1398.8,838.5 1400.5,839.0 1402.3,839.0 1404.0,838.9 1405.8,838.9 1407.5,838.8 1409.3,839.2 1411.0,839.8 1412.7,839.5 1414.5,839.2 1416.2,839.3 1418.0,839.5 1419.7,839.5 1421.4,839.2 1423.2,839.2 1424.9,839.5 1426.7,840.3 1428.4,840.3 1430.1,840.1 1431.9,839.8 1433.6,839.6 1435.4,839.1 1437.1,839.3 1438.8,840.3 1440.6,840.2 1442.3,839.3 1444.1,838.9 1445.8,839.8 1447.5,840.3 1449.3,840.0 1451.0,839.8 1452.8,839.3 1454.5,839.4 1456.3,839.8 1458.0,840.4 1459.7,840.8 1461.5,841.1 1463.2,840.8 1465.0,840.4 1466.7,840.5 1468.4,840.5 1470.2,840.4 1471.9,840.3 1473.7,840.2 1475.4,839.7 1477.1,839.3 1478.9,840.2 1480.6,840.5 1482.4,840.4 1484.1,840.3 1485.8,840.2 1487.6,840.1 1489.3,840.5 1491.1,840.5 1492.8,840.4 1494.5,839.9 1496.3,839.8 1498.0,840.2 1499.8,840.8 1501.5,840.9 1503.3,839.7 1505.0,839.2 1506.7,839.6 1508.5,840.1 1510.2,840.6 1512.0,840.0 1513.7,839.3 1515.4,839.0 1517.2,839.1 1518.9,839.3 1520.7,840.3 1522.4,840.8 1524.1,840.3 1525.9,840.4 1527.6,840.7 1529.4,840.5 1531.1,840.5 1532.8,840.9 1534.6,841.1 1536.3,840.5 1538.1,840.1 1539.8,840.1 1541.5,840.5 1543.3,841.3 1545.0,841.2 1546.8,840.9 1548.5,841.0 1550.3,840.9 1552.0,840.6 1553.7,839.6 1555.5,839.8 1557.2,840.9 1559.0,841.2 1560.7,841.0 1562.4,840.9 1564.2,840.9 1565.9,840.5 1567.7,840.3 1569.4,840.2 1571.1,839.8 1572.9,840.1 1574.6,841.0 1576.4,841.2 1578.1,840.8 1579.8,840.5 1581.6,840.9 1583.3,840.8 1585.1,840.3 1586.8,840.2 1588.5,839.8 1590.3,838.9 1592.0,838.9 1593.8,838.8 1595.5,839.2 1597.3,839.8 1599.0,839.8 1600.7,839.4 1602.5,839.6 1604.2,840.0 1606.0,840.4 1607.7,840.0 1609.4,839.7 1611.2,840.0 1612.9,840.3 1614.7,839.9 1616.4,839.7 1618.1,839.7 1620.0,839.5"/>
<polyline stroke="#FFAD7B" stroke-width="7.3" points="223.8,658.0 225.5,659.8 227.3,663.9 229.0,670.4 230.8,674.4 232.5,677.2 234.2,680.6 236.0,685.6 237.7,691.8 239.5,696.4 241.2,700.0 242.9,703.5 244.7,704.8 246.4,705.3 248.2,707.2 249.9,710.5 251.7,713.0 253.4,713.1 255.1,714.1 256.9,715.9 258.6,716.6 260.4,718.8 262.1,722.0 263.8,724.0 265.6,725.2 267.3,725.5 269.1,725.1 270.8,727.7 272.5,728.3 274.3,729.2 276.0,731.9 277.8,733.3 279.5,732.3 281.2,731.4 283.0,731.9 284.7,732.6 286.5,733.3 288.2,732.4 289.9,731.0 291.7,730.0 293.4,727.8 295.2,726.3 296.9,726.6 298.7,726.1 300.4,724.6 302.1,723.3 303.9,722.3 305.6,721.1 307.4,722.5 309.1,722.4 310.8,720.6 312.6,720.5 314.3,720.4 316.1,720.1 317.8,718.1 319.5,718.5 321.3,720.1 323.0,719.5 324.8,716.6 326.5,716.5 328.2,717.2 330.0,717.1 331.7,717.2 333.5,715.3 335.2,714.6 336.9,714.3 338.7,715.0 340.4,713.7 342.2,711.8 343.9,711.2 345.7,713.3 347.4,713.5 349.1,713.0 350.9,712.3 352.6,710.5 354.4,708.4 356.1,707.3 357.8,707.5 359.6,708.0 361.3,705.9 363.1,705.2 364.8,705.4 366.5,705.6 368.3,704.5 370.0,701.8 371.8,700.5 373.5,701.8 375.2,702.9 377.0,701.8 378.7,699.6 380.5,697.6 382.2,696.2 383.9,694.4 385.7,692.3 387.4,689.0 389.2,686.3 390.9,683.2 392.7,679.0 394.4,674.3 396.1,669.5 397.9,664.8 399.6,659.3 401.4,652.3 403.1,648.7 404.8,646.1 406.6,643.1 408.3,639.5 410.1,639.0 411.8,636.7 413.5,632.0 415.3,628.7 417.0,626.7 418.8,625.5 420.5,624.3 422.2,622.2 424.0,617.9 425.7,614.6 427.5,611.7 429.2,609.5 430.9,605.8 432.7,601.2 434.4,595.0 436.2,590.2 437.9,586.3 439.7,583.6 441.4,578.9 443.1,573.5 444.9,569.8 446.6,567.2 448.4,563.7 450.1,561.5 451.8,561.5 453.6,560.9 455.3,556.8 457.1,552.9 458.8,550.0 460.5,548.8 462.3,549.4 464.0,549.1 465.8,547.4 467.5,546.1 469.2,544.6 471.0,542.5 472.7,539.9 474.5,539.0 476.2,538.0 477.9,535.7 479.7,533.2 481.4,530.6 483.2,528.5 484.9,526.2 486.7,522.3 488.4,518.9 490.1,516.4 491.9,513.3 493.6,508.8 495.4,502.0 497.1,498.1 498.8,494.3 500.6,492.3 502.3,491.2 504.1,489.6 505.8,487.5 507.5,485.4 509.3,484.2 511.0,482.1 512.8,481.5 514.5,482.1 516.2,482.8 518.0,485.2 519.7,485.7 521.5,486.4 523.2,485.1 524.9,484.8 526.7,486.1 528.4,487.7 530.2,489.6 531.9,493.5 533.7,498.2 535.4,502.8 537.1,505.1 538.9,507.5 540.6,508.4 542.4,509.5 544.1,511.4 545.8,513.9 547.6,517.7 549.3,521.0 551.1,523.0 552.8,525.4 554.5,527.9 556.3,528.8 558.0,529.6 559.8,530.8 561.5,533.1 563.2,537.3 565.0,540.2 566.7,544.5 568.5,547.2 570.2,548.3 572.0,546.2 573.7,543.5 575.4,542.0 577.2,540.9 578.9,541.6 580.7,543.8 582.4,546.5 584.1,549.2 585.9,551.7 587.6,553.9 589.4,555.6 591.1,559.2 592.8,563.2 594.6,568.4 596.3,571.6 598.1,573.0 599.8,577.5 601.5,582.1 603.3,586.3 605.0,591.3 606.8,594.9 608.5,598.5 610.2,604.2 612.0,609.7 613.7,614.1 615.5,617.9 617.2,623.3 619.0,627.5 620.7,630.7 622.4,636.1 624.2,643.4 625.9,651.3 627.7,659.7 629.4,665.0 631.1,669.4 632.9,675.7 634.6,684.2 636.4,692.9 638.1,699.2 639.8,707.5 641.6,716.9 643.3,724.7 645.1,731.7 646.8,735.8 648.5,740.6 650.3,745.0 652.0,749.2 653.8,753.2 655.5,758.7 657.2,762.1 659.0,765.0 660.7,767.8 662.5,771.8 664.2,776.7 666.0,780.9 667.7,784.3 669.4,787.4 671.2,789.8 672.9,792.1 674.7,794.9 676.4,797.0 678.1,798.9 679.9,801.4 681.6,803.6 683.4,804.7 685.1,806.1 686.8,808.5 688.6,810.5 690.3,810.9 692.1,811.7 693.8,813.1 695.5,814.3 697.3,814.6 699.0,816.4 700.8,818.0 702.5,818.8 704.2,820.2 706.0,820.8 707.7,820.9 709.5,821.3 711.2,821.5 713.0,822.8 714.7,824.4 716.4,824.7 718.2,825.6 719.9,825.7 721.7,825.8 723.4,825.0 725.1,824.1 726.9,824.8 728.6,825.6 730.4,825.4 732.1,825.7 733.8,826.6 735.6,826.6 737.3,826.7 739.1,828.1 740.8,829.8 742.5,830.8 744.3,832.3 746.0,833.1 747.8,832.4 749.5,831.4 751.2,831.2 753.0,831.9 754.7,832.2 756.5,831.6 758.2,830.6 760.0,829.5 761.7,828.7 763.4,827.7 765.2,826.8 766.9,825.9 768.7,825.7 770.4,826.3 772.1,826.8 773.9,827.8 775.6,829.4 777.4,830.9 779.1,832.2 780.8,832.2 782.6,831.4 784.3,831.7 786.1,831.6 787.8,831.3 789.5,831.3 791.3,830.0 793.0,829.3 794.8,830.6 796.5,831.4 798.2,831.8 800.0,831.0 801.7,830.8 803.5,831.5 805.2,831.1 807.0,831.6 808.7,832.3 810.4,831.8 812.2,831.4 813.9,831.5 815.7,831.6 817.4,831.2 819.1,831.8 820.9,832.6 822.6,833.0 824.4,831.6 826.1,830.9 827.8,831.3 829.6,831.3 831.3,831.5 833.1,831.8 834.8,831.9 836.5,831.0 838.3,830.1 840.0,829.5 841.8,830.3 843.5,831.7 845.2,831.1 847.0,830.5 848.7,830.7 850.5,831.5 852.2,831.6 854.0,831.3 855.7,832.0 857.4,832.5 859.2,832.6 860.9,832.6 862.7,833.3 864.4,833.1 866.1,832.5 867.9,832.2 869.6,832.6 871.4,833.2 873.1,833.4 874.8,833.9 876.6,834.3 878.3,834.5 880.1,834.2 881.8,833.2 883.5,832.6 885.3,833.5 887.0,834.3 888.8,834.3 890.5,834.2 892.2,833.8 894.0,833.6 895.7,833.9 897.5,834.8 899.2,834.5 901.0,833.8 902.7,833.6 904.4,834.4 906.2,835.2 907.9,835.0 909.7,834.8 911.4,835.5 913.1,835.9 914.9,835.7 916.6,835.6 918.4,835.5 920.1,835.3 921.8,834.9 923.6,834.7 925.3,835.2 927.1,835.3 928.8,835.1 930.5,834.1 932.3,834.6 934.0,834.9 935.8,834.6 937.5,834.7 939.2,834.9 941.0,834.6 942.7,834.2 944.5,834.4 946.2,835.0 948.0,835.1 949.7,834.6 951.4,834.4 953.2,834.5 954.9,834.3 956.7,833.6 958.4,833.2 960.1,833.5 961.9,833.4 963.6,833.5 965.4,833.9 967.1,834.0 968.8,833.7 970.6,833.7 972.3,833.3 974.1,833.4 975.8,833.0 977.5,833.1 979.3,833.6 981.0,833.5 982.8,833.3 984.5,833.5 986.2,833.8 988.0,833.8 989.7,833.9 991.5,833.9 993.2,833.5 995.0,833.3 996.7,833.5 998.4,834.2 1000.2,834.4 1001.9,834.3 1003.7,833.8 1005.4,833.6 1007.1,833.7 1008.9,833.6 1010.6,833.8 1012.4,833.7 1014.1,833.3 1015.8,833.3 1017.6,833.6 1019.3,834.3 1021.1,834.2 1022.8,833.6 1024.5,832.9 1026.3,832.4 1028.0,832.8 1029.8,832.9 1031.5,832.8 1033.2,832.9 1035.0,832.6 1036.7,832.7 1038.5,832.8 1040.2,832.8 1042.0,833.2 1043.7,833.1 1045.4,832.4 1047.2,832.3 1048.9,832.8 1050.7,832.7 1052.4,832.4 1054.1,832.5 1055.9,832.7 1057.6,832.9 1059.4,833.1 1061.1,833.4 1062.8,833.6 1064.6,833.6 1066.3,833.4 1068.1,833.4 1069.8,833.4 1071.5,833.0 1073.3,832.5 1075.0,832.8 1076.8,833.0 1078.5,833.2 1080.2,833.0 1082.0,832.9 1083.7,833.0 1085.5,833.2 1087.2,832.8 1089.0,832.6 1090.7,832.5 1092.4,832.4 1094.2,832.5 1095.9,832.6 1097.7,832.9 1099.4,833.1 1101.1,832.7 1102.9,832.5 1104.6,832.5 1106.4,832.5 1108.1,832.1 1109.8,832.1 1111.6,832.4 1113.3,832.6 1115.1,832.5 1116.8,832.2 1118.5,832.3 1120.3,832.8 1122.0,833.1 1123.8,832.9 1125.5,832.7 1127.2,832.5 1129.0,832.2 1130.7,832.2 1132.5,832.4 1134.2,832.5 1136.0,832.4 1137.7,832.4 1139.4,833.0 1141.2,833.2 1142.9,832.8 1144.7,832.7 1146.4,832.8 1148.1,832.7 1149.9,832.4 1151.6,832.8 1153.4,832.8 1155.1,832.9 1156.8,832.7 1158.6,832.5 1160.3,832.6 1162.1,832.7 1163.8,832.3 1165.5,832.2 1167.3,832.1 1169.0,832.2 1170.8,832.8 1172.5,833.0 1174.2,832.9 1176.0,832.8 1177.7,832.5 1179.5,832.8 1181.2,833.2 1183.0,832.7 1184.7,831.7 1186.4,831.7 1188.2,831.8 1189.9,832.6 1191.7,832.6 1193.4,832.6 1195.1,832.6 1196.9,832.5 1198.6,832.7 1200.4,833.0 1202.1,833.0 1203.8,832.8 1205.6,832.6 1207.3,832.7 1209.1,832.9 1210.8,833.4 1212.5,833.5 1214.3,832.5 1216.0,831.9 1217.8,832.3 1219.5,832.9 1221.2,833.2 1223.0,833.1 1224.7,832.6 1226.5,832.6 1228.2,832.8 1230.0,832.7 1231.7,832.9 1233.4,832.9 1235.2,833.1 1236.9,833.2 1238.7,833.2 1240.4,833.0 1242.1,832.7 1243.9,832.8 1245.6,832.9 1247.4,833.1 1249.1,833.2 1250.8,832.8 1252.6,832.5 1254.3,832.5 1256.1,832.7 1257.8,832.9 1259.5,832.9 1261.3,833.1 1263.0,833.0 1264.8,832.7 1266.5,832.5 1268.2,832.8 1270.0,832.9 1271.7,832.7 1273.5,833.3 1275.2,833.6 1277.0,833.4 1278.7,833.6 1280.4,833.7 1282.2,833.5 1283.9,832.9 1285.7,832.8 1287.4,832.8 1289.1,832.5 1290.9,832.3 1292.6,832.7 1294.4,832.8 1296.1,833.0 1297.8,833.1 1299.6,833.2 1301.3,832.9 1303.1,832.9 1304.8,833.3 1306.5,833.5 1308.3,833.4 1310.0,833.5 1311.8,833.3 1313.5,833.2 1315.3,833.4 1317.0,833.2 1318.7,833.3 1320.5,833.2 1322.2,833.0 1324.0,832.7 1325.7,832.9 1327.4,833.4 1329.2,833.4 1330.9,833.3 1332.7,833.2 1334.4,833.1 1336.1,832.7 1337.9,832.7 1339.6,832.9 1341.4,832.9 1343.1,833.0 1344.8,833.2 1346.6,833.4 1348.3,833.7 1350.1,834.2 1351.8,834.3 1353.5,834.1 1355.3,833.6 1357.0,833.2 1358.8,832.9 1360.5,832.9 1362.3,832.8 1364.0,833.3 1365.7,834.0 1367.5,834.4 1369.2,834.2 1371.0,833.7 1372.7,833.7 1374.4,833.7 1376.2,833.9 1377.9,834.1 1379.7,834.6 1381.4,834.7 1383.1,834.7 1384.9,834.8 1386.6,834.4 1388.4,834.2 1390.1,834.6 1391.8,834.6 1393.6,834.1 1395.3,833.7 1397.1,833.5 1398.8,833.8 1400.5,834.2 1402.3,834.0 1404.0,833.6 1405.8,833.6 1407.5,834.1 1409.3,834.4 1411.0,834.4 1412.7,834.1 1414.5,834.0 1416.2,834.5 1418.0,834.4 1419.7,834.2 1421.4,834.0 1423.2,833.5 1424.9,833.8 1426.7,834.2 1428.4,834.5 1430.1,834.7 1431.9,834.3 1433.6,833.7 1435.4,833.9 1437.1,834.2 1438.8,834.0 1440.6,833.6 1442.3,833.6 1444.1,834.2 1445.8,834.4 1447.5,834.1 1449.3,833.9 1451.0,834.1 1452.8,833.6 1454.5,834.1 1456.3,834.9 1458.0,834.7 1459.7,834.3 1461.5,834.2 1463.2,834.5 1465.0,834.2 1466.7,834.3 1468.4,834.3 1470.2,834.2 1471.9,834.3 1473.7,834.0 1475.4,834.0 1477.1,834.2 1478.9,834.4 1480.6,834.7 1482.4,834.8 1484.1,834.5 1485.8,834.2 1487.6,834.2 1489.3,834.4 1491.1,834.7 1492.8,834.7 1494.5,834.7 1496.3,834.5 1498.0,834.4 1499.8,834.6 1501.5,834.4 1503.3,834.7 1505.0,834.9 1506.7,834.5 1508.5,834.2 1510.2,833.9 1512.0,833.9 1513.7,833.9 1515.4,834.2 1517.2,834.5 1518.9,834.9 1520.7,835.4 1522.4,835.2 1524.1,835.1 1525.9,834.8 1527.6,834.5 1529.4,834.1 1531.1,834.0 1532.8,834.7 1534.6,835.4 1536.3,835.2 1538.1,835.0 1539.8,835.2 1541.5,834.8 1543.3,834.3 1545.0,834.1 1546.8,834.2 1548.5,834.9 1550.3,835.4 1552.0,834.9 1553.7,834.4 1555.5,834.3 1557.2,834.3 1559.0,834.2 1560.7,834.7 1562.4,835.2 1564.2,835.2 1565.9,834.9 1567.7,834.3 1569.4,834.3 1571.1,835.2 1572.9,835.2 1574.6,834.6 1576.4,834.8 1578.1,835.0 1579.8,835.2 1581.6,835.0 1583.3,834.9 1585.1,835.0 1586.8,834.9 1588.5,834.5 1590.3,833.9 1592.0,833.9 1593.8,833.9 1595.5,834.1 1597.3,834.9 1599.0,835.3 1600.7,835.2 1602.5,835.0 1604.2,835.1 1606.0,835.3 1607.7,835.1 1609.4,835.4 1611.2,835.5 1612.9,835.5 1614.7,835.5 1616.4,835.2 1618.1,835.1 1620.0,834.6"/>
<polyline stroke="#FFA46C" stroke-width="7.3" points="223.8,682.9 225.5,683.0 227.3,684.4 229.0,686.3 230.8,686.7 232.5,686.4 234.2,685.6 236.0,684.1 237.7,683.1 239.5,684.5 241.2,684.1 242.9,685.1 244.7,685.8 246.4,686.3 248.2,686.5 249.9,686.6 251.7,686.8 253.4,685.8 255.1,686.2 256.9,685.9 258.6,687.6 260.4,687.8 262.1,688.6 263.8,688.4 265.6,685.7 267.3,686.6 269.1,688.9 270.8,690.5 272.5,690.9 274.3,690.1 276.0,689.2 277.8,688.5 279.5,688.3 281.2,688.5 283.0,689.1 284.7,688.9 286.5,689.6 288.2,690.5 289.9,689.4 291.7,687.3 293.4,686.7 295.2,686.6 296.9,684.4 298.7,682.5 300.4,683.5 302.1,685.3 303.9,685.3 305.6,685.1 307.4,685.4 309.1,685.5 310.8,687.1 312.6,685.9 314.3,685.3 316.1,685.7 317.8,683.2 319.5,682.1 321.3,681.8 323.0,681.3 324.8,682.0 326.5,683.0 328.2,683.0 330.0,683.2 331.7,684.7 333.5,685.4 335.2,683.7 336.9,680.7 338.7,682.2 340.4,682.6 342.2,681.0 343.9,679.0 345.7,678.5 347.4,678.3 349.1,678.5 350.9,680.8 352.6,681.1 354.4,679.5 356.1,678.9 357.8,680.8 359.6,681.3 361.3,681.0 363.1,680.6 364.8,682.0 366.5,681.0 368.3,680.0 370.0,677.1 371.8,677.3 373.5,676.4 375.2,674.3 377.0,674.3 378.7,674.3 380.5,674.3 382.2,674.8 383.9,675.7 385.7,677.6 387.4,678.5 389.2,677.9 390.9,677.0 392.7,678.2 394.4,680.2 396.1,679.4 397.9,678.9 399.6,679.4 401.4,681.2 403.1,682.8 404.8,683.4 406.6,683.5 408.3,683.6 410.1,683.4 411.8,683.4 413.5,683.0 415.3,684.2 417.0,685.2 418.8,685.0 420.5,686.3 422.2,686.0 424.0,684.0 425.7,683.5 427.5,684.1 429.2,685.8 430.9,688.7 432.7,691.0 434.4,693.4 436.2,694.0 437.9,690.6 439.7,688.0 441.4,688.7 443.1,689.3 444.9,690.9 446.6,693.5 448.4,695.1 450.1,694.1 451.8,694.8 453.6,695.9 455.3,696.9 457.1,698.6 458.8,701.1 460.5,700.6 462.3,700.8 464.0,702.1 465.8,703.3 467.5,704.0 469.2,702.3 471.0,702.4 472.7,703.6 474.5,705.6 476.2,706.9 477.9,705.9 479.7,705.4 481.4,707.5 483.2,709.1 484.9,711.6 486.7,713.7 488.4,715.3 490.1,713.7 491.9,711.6 493.6,711.7 495.4,711.6 497.1,709.5 498.8,707.1 500.6,704.8 502.3,702.7 504.1,701.5 505.8,701.6 507.5,699.4 509.3,696.8 511.0,697.0 512.8,695.9 514.5,694.6 516.2,693.5 518.0,691.6 519.7,687.9 521.5,687.8 523.2,687.7 524.9,685.1 526.7,681.8 528.4,681.0 530.2,682.1 531.9,681.3 533.7,677.4 535.4,676.3 537.1,676.6 538.9,676.2 540.6,675.6 542.4,674.6 544.1,671.6 545.8,667.5 547.6,665.6 549.3,664.4 551.1,665.0 552.8,666.0 554.5,665.1 556.3,663.5 558.0,661.8 559.8,659.8 561.5,656.4 563.2,652.5 565.0,650.6 566.7,650.0 568.5,648.5 570.2,645.4 572.0,641.1 573.7,638.3 575.4,637.9 577.2,639.1 578.9,637.3 580.7,635.3 582.4,632.8 584.1,630.5 585.9,628.6 587.6,627.2 589.4,626.3 591.1,624.7 592.8,621.4 594.6,619.7 596.3,618.0 598.1,616.6 599.8,616.1 601.5,614.1 603.3,609.6 605.0,608.1 606.8,607.1 608.5,603.7 610.2,599.0 612.0,597.0 613.7,594.4 615.5,591.9 617.2,589.5 619.0,585.8 620.7,583.7 622.4,581.0 624.2,576.6 625.9,573.7 627.7,572.7 629.4,568.6 631.1,565.8 632.9,561.6 634.6,558.4 636.4,555.2 638.1,552.6 639.8,549.3 641.6,545.5 643.3,543.5 645.1,541.1 646.8,535.9 648.5,531.3 650.3,529.9 652.0,527.6 653.8,525.1 655.5,521.3 657.2,517.6 659.0,515.1 660.7,512.8 662.5,508.8 664.2,503.2 666.0,499.0 667.7,497.2 669.4,496.5 671.2,492.7 672.9,488.0 674.7,485.3 676.4,482.8 678.1,477.9 679.9,475.0 681.6,473.9 683.4,471.6 685.1,467.9 686.8,463.2 688.6,459.3 690.3,455.2 692.1,453.7 693.8,452.3 695.5,451.1 697.3,450.2 699.0,447.3 700.8,445.0 702.5,444.3 704.2,442.7 706.0,438.6 707.7,436.0 709.5,432.5 711.2,429.0 713.0,427.9 714.7,427.4 716.4,425.4 718.2,423.2 719.9,421.6 721.7,419.7 723.4,417.5 725.1,415.5 726.9,413.9 728.6,410.8 730.4,410.5 732.1,409.8 733.8,408.7 735.6,405.1 737.3,403.1 739.1,404.9 740.8,404.6 742.5,401.8 744.3,402.1 746.0,402.1 747.8,401.2 749.5,401.6 751.2,401.7 753.0,403.3 754.7,403.4 756.5,401.5 758.2,400.4 760.0,399.4 761.7,397.7 763.4,398.8 765.2,401.8 766.9,404.6 768.7,403.9 770.4,401.4 772.1,399.7 773.9,400.0 775.6,399.4 777.4,397.8 779.1,397.6 780.8,396.9 782.6,396.4 784.3,396.9 786.1,400.6 787.8,401.2 789.5,400.6 791.3,400.8 793.0,401.8 794.8,405.4 796.5,408.8 798.2,409.4 800.0,409.3 801.7,410.2 803.5,411.3 805.2,411.7 807.0,412.5 808.7,414.2 810.4,415.5 812.2,416.0 813.9,416.7 815.7,415.8 817.4,416.8 819.1,418.5 820.9,422.5 822.6,424.9 824.4,427.2 826.1,429.2 827.8,431.9 829.6,434.3 831.3,435.9 833.1,440.3 834.8,446.5 836.5,450.5 838.3,451.7 840.0,453.2 841.8,455.0 843.5,458.2 845.2,463.3 847.0,467.3 848.7,469.4 850.5,471.2 852.2,473.3 854.0,477.1 855.7,479.7 857.4,482.3 859.2,486.1 860.9,488.9 862.7,492.9 864.4,498.0 866.1,502.2 867.9,507.0 869.6,513.0 871.4,517.7 873.1,521.9 874.8,527.0 876.6,531.7 878.3,536.6 880.1,540.8 881.8,544.1 883.5,546.8 885.3,551.3 887.0,555.1 888.8,558.8 890.5,562.4 892.2,565.9 894.0,568.6 895.7,571.7 897.5,575.3 899.2,577.8 901.0,580.3 902.7,584.0 904.4,587.5 906.2,590.7 907.9,593.6 909.7,596.6 911.4,600.7 913.1,605.4 914.9,606.8 916.6,609.1 918.4,611.4 920.1,613.2 921.8,615.2 923.6,617.3 925.3,620.5 927.1,624.2 928.8,625.5 930.5,627.6 932.3,630.5 934.0,632.5 935.8,635.6 937.5,637.8 939.2,639.6 941.0,640.3 942.7,642.1 944.5,644.7 946.2,646.2 948.0,647.9 949.7,650.2 951.4,651.3 953.2,652.2 954.9,653.9 956.7,655.7 958.4,657.3 960.1,659.4 961.9,659.7 963.6,659.7 965.4,660.5 967.1,661.4 968.8,661.3 970.6,661.6 972.3,662.2 974.1,662.4 975.8,662.0 977.5,662.2 979.3,662.9 981.0,664.7 982.8,665.6 984.5,665.3 986.2,665.6 988.0,666.0 989.7,666.9 991.5,668.2 993.2,668.3 995.0,667.4 996.7,665.5 998.4,664.8 1000.2,664.9 1001.9,664.7 1003.7,665.7 1005.4,665.9 1007.1,664.2 1008.9,663.6 1010.6,663.0 1012.4,662.1 1014.1,660.5 1015.8,658.9 1017.6,658.1 1019.3,657.1 1021.1,656.1 1022.8,655.7 1024.5,654.9 1026.3,653.6 1028.0,653.0 1029.8,651.9 1031.5,650.6 1033.2,649.0 1035.0,647.6 1036.7,646.9 1038.5,645.0 1040.2,642.8 1042.0,640.5 1043.7,638.7 1045.4,637.1 1047.2,635.1 1048.9,634.0 1050.7,632.9 1052.4,630.7 1054.1,628.5 1055.9,626.5 1057.6,625.3 1059.4,624.0 1061.1,622.4 1062.8,620.7 1064.6,618.8 1066.3,617.4 1068.1,616.4 1069.8,614.9 1071.5,613.2 1073.3,611.7 1075.0,609.4 1076.8,607.6 1078.5,606.6 1080.2,605.3 1082.0,602.7 1083.7,600.3 1085.5,598.3 1087.2,596.3 1089.0,594.7 1090.7,593.9 1092.4,592.8 1094.2,591.0 1095.9,588.9 1097.7,586.9 1099.4,585.3 1101.1,583.3 1102.9,580.9 1104.6,578.8 1106.4,576.3 1108.1,574.1 1109.8,571.9 1111.6,569.9 1113.3,567.3 1115.1,564.8 1116.8,562.2 1118.5,560.4 1120.3,558.8 1122.0,556.5 1123.8,554.2 1125.5,552.5 1127.2,551.1 1129.0,549.3 1130.7,547.1 1132.5,544.9 1134.2,543.4 1136.0,542.4 1137.7,541.6 1139.4,541.1 1141.2,540.5 1142.9,539.3 1144.7,538.0 1146.4,537.2 1148.1,536.5 1149.9,535.5 1151.6,535.7 1153.4,535.5 1155.1,534.9 1156.8,534.9 1158.6,535.7 1160.3,536.9 1162.1,537.4 1163.8,537.5 1165.5,538.6 1167.3,541.7 1169.0,543.5 1170.8,544.3 1172.5,545.3 1174.2,547.1 1176.0,549.6 1177.7,552.7 1179.5,554.9 1181.2,556.8 1183.0,559.9 1184.7,562.9 1186.4,565.9 1188.2,568.5 1189.9,571.7 1191.7,575.6 1193.4,580.8 1195.1,586.0 1196.9,590.9 1198.6,595.1 1200.4,599.2 1202.1,604.3 1203.8,609.7 1205.6,615.0 1207.3,620.4 1209.1,625.3 1210.8,630.5 1212.5,635.9 1214.3,641.4 1216.0,646.9 1217.8,651.9 1219.5,657.0 1221.2,662.1 1223.0,667.4 1224.7,672.7 1226.5,677.4 1228.2,682.7 1230.0,688.2 1231.7,693.5 1233.4,698.3 1235.2,703.2 1236.9,708.1 1238.7,713.7 1240.4,719.4 1242.1,725.1 1243.9,730.0 1245.6,734.5 1247.4,740.1 1249.1,745.4 1250.8,749.9 1252.6,754.5 1254.3,758.9 1256.1,762.9 1257.8,766.6 1259.5,770.8 1261.3,774.7 1263.0,777.7 1264.8,780.9 1266.5,783.8 1268.2,787.7 1270.0,791.2 1271.7,793.9 1273.5,796.2 1275.2,799.5 1277.0,802.0 1278.7,804.1 1280.4,805.6 1282.2,807.4 1283.9,809.6 1285.7,811.9 1287.4,813.7 1289.1,815.2 1290.9,817.4 1292.6,819.6 1294.4,821.1 1296.1,822.1 1297.8,823.5 1299.6,825.2 1301.3,826.1 1303.1,826.6 1304.8,827.3 1306.5,828.1 1308.3,829.0 1310.0,829.8 1311.8,830.6 1313.5,831.1 1315.3,831.4 1317.0,832.0 1318.7,832.9 1320.5,833.7 1322.2,834.1 1324.0,834.4 1325.7,835.1 1327.4,835.6 1329.2,835.0 1330.9,835.1 1332.7,835.3 1334.4,836.1 1336.1,836.7 1337.9,836.9 1339.6,836.7 1341.4,836.6 1343.1,836.5 1344.8,837.0 1346.6,837.4 1348.3,837.6 1350.1,838.3 1351.8,839.1 1353.5,838.9 1355.3,838.3 1357.0,838.1 1358.8,838.7 1360.5,839.1 1362.3,839.6 1364.0,839.2 1365.7,839.0 1367.5,839.1 1369.2,839.3 1371.0,839.8 1372.7,840.4 1374.4,840.5 1376.2,840.2 1377.9,840.2 1379.7,841.1 1381.4,841.1 1383.1,840.5 1384.9,839.5 1386.6,839.7 1388.4,839.9 1390.1,840.1 1391.8,840.4 1393.6,840.3 1395.3,839.8 1397.1,839.6 1398.8,839.6 1400.5,840.1 1402.3,840.7 1404.0,840.3 1405.8,840.2 1407.5,840.3 1409.3,839.9 1411.0,839.5 1412.7,839.5 1414.5,839.4 1416.2,839.4 1418.0,839.4 1419.7,839.6 1421.4,840.4 1423.2,840.3 1424.9,840.4 1426.7,840.2 1428.4,840.5 1430.1,840.9 1431.9,841.0 1433.6,840.2 1435.4,839.8 1437.1,839.9 1438.8,839.7 1440.6,839.5 1442.3,840.0 1444.1,840.0 1445.8,839.8 1447.5,839.8 1449.3,840.0 1451.0,839.6 1452.8,839.8 1454.5,839.9 1456.3,840.2 1458.0,840.3 1459.7,840.9 1461.5,840.3 1463.2,839.8 1465.0,839.9 1466.7,840.4 1468.4,840.1 1470.2,839.6 1471.9,839.9 1473.7,840.0 1475.4,839.9 1477.1,840.2 1478.9,840.2 1480.6,840.4 1482.4,840.4 1484.1,840.2 1485.8,840.2 1487.6,839.6 1489.3,839.2 1491.1,839.7 1492.8,840.4 1494.5,840.3 1496.3,840.3 1498.0,841.1 1499.8,841.4 1501.5,840.9 1503.3,841.1 1505.0,841.0 1506.7,841.3 1508.5,841.6 1510.2,840.9 1512.0,839.7 1513.7,839.7 1515.4,839.7 1517.2,840.0 1518.9,840.2 1520.7,840.5 1522.4,840.8 1524.1,840.5 1525.9,840.2 1527.6,840.3 1529.4,840.8 1531.1,841.5 1532.8,841.5 1534.6,840.7 1536.3,840.1 1538.1,839.8 1539.8,839.8 1541.5,840.0 1543.3,839.7 1545.0,839.6 1546.8,840.4 1548.5,840.9 1550.3,840.7 1552.0,840.5 1553.7,840.2 1555.5,839.8 1557.2,840.0 1559.0,840.0 1560.7,840.0 1562.4,840.5 1564.2,840.7 1565.9,840.8 1567.7,840.4 1569.4,839.9 1571.1,839.9 1572.9,840.1 1574.6,840.1 1576.4,839.9 1578.1,840.0 1579.8,839.9 1581.6,840.1 1583.3,839.8 1585.1,838.7 1586.8,838.8 1588.5,839.7 1590.3,840.3 1592.0,840.5 1593.8,840.1 1595.5,839.7 1597.3,839.5 1599.0,839.5 1600.7,840.2 1602.5,840.6 1604.2,840.3 1606.0,840.0 1607.7,840.2 1609.4,839.4 1611.2,839.1 1612.9,839.7 1614.7,839.6 1616.4,839.1 1618.1,838.8 1620.0,839.1"/>
<polyline stroke="#6FC46A" stroke-width="7.3" points="223.8,672.4 225.5,672.7 227.3,672.6 229.0,671.9 230.8,671.9 232.5,673.0 234.2,673.5 236.0,672.7 237.7,672.6 239.5,672.6 241.2,671.0 242.9,670.5 244.7,671.7 246.4,670.9 248.2,669.6 249.9,670.4 251.7,671.1 253.4,670.7 255.1,671.2 256.9,673.6 258.6,675.1 260.4,674.2 262.1,673.7 263.8,674.8 265.6,675.4 267.3,675.1 269.1,675.7 270.8,675.8 272.5,674.3 274.3,673.3 276.0,674.3 277.8,675.0 279.5,674.5 281.2,672.0 283.0,670.9 284.7,670.2 286.5,670.1 288.2,671.9 289.9,672.8 291.7,672.7 293.4,674.2 295.2,674.3 296.9,673.8 298.7,673.3 300.4,672.5 302.1,671.0 303.9,671.8 305.6,671.3 307.4,669.5 309.1,670.4 310.8,671.1 312.6,671.5 314.3,670.6 316.1,670.4 317.8,670.3 319.5,669.6 321.3,670.3 323.0,670.3 324.8,670.3 326.5,670.1 328.2,671.1 330.0,670.9 331.7,670.2 333.5,671.1 335.2,672.1 336.9,671.3 338.7,668.6 340.4,669.2 342.2,669.2 343.9,668.0 345.7,667.4 347.4,668.2 349.1,667.4 350.9,668.5 352.6,668.6 354.4,666.0 356.1,665.4 357.8,665.7 359.6,668.3 361.3,670.8 363.1,670.1 364.8,666.4 366.5,666.5 368.3,668.9 370.0,670.1 371.8,668.5 373.5,666.8 375.2,667.0 377.0,666.8 378.7,666.2 380.5,666.0 382.2,667.0 383.9,667.2 385.7,666.5 387.4,665.5 389.2,664.8 390.9,666.3 392.7,668.1 394.4,667.3 396.1,667.0 397.9,669.9 399.6,671.7 401.4,672.7 403.1,670.9 404.8,669.1 406.6,669.7 408.3,673.7 410.1,675.3 411.8,672.6 413.5,671.8 415.3,672.7 417.0,672.4 418.8,672.8 420.5,673.9 422.2,675.6 424.0,677.0 425.7,677.2 427.5,677.5 429.2,676.8 430.9,675.9 432.7,674.1 434.4,675.4 436.2,678.3 437.9,679.3 439.7,681.1 441.4,682.7 443.1,684.3 444.9,684.7 446.6,684.5 448.4,683.3 450.1,682.4 451.8,682.6 453.6,683.3 455.3,683.9 457.1,685.5 458.8,687.4 460.5,688.5 462.3,688.0 464.0,687.6 465.8,690.2 467.5,693.1 469.2,695.1 471.0,695.2 472.7,694.7 474.5,696.6 476.2,700.6 477.9,702.5 479.7,703.7 481.4,704.9 483.2,703.1 484.9,703.8 486.7,705.1 488.4,705.9 490.1,706.0 491.9,705.0 493.6,703.1 495.4,700.5 497.1,699.5 498.8,698.3 500.6,697.4 502.3,696.0 504.1,695.5 505.8,694.4 507.5,692.3 509.3,690.3 511.0,688.2 512.8,686.1 514.5,684.6 516.2,683.5 518.0,683.0 519.7,681.8 521.5,680.0 523.2,677.6 524.9,676.9 526.7,674.5 528.4,672.6 530.2,671.5 531.9,670.3 533.7,669.1 535.4,666.6 537.1,664.3 538.9,663.9 540.6,664.4 542.4,661.9 544.1,658.6 545.8,656.9 547.6,655.6 549.3,655.6 551.1,652.8 552.8,651.8 554.5,649.9 556.3,647.0 558.0,646.6 559.8,646.2 561.5,644.2 563.2,641.9 565.0,640.0 566.7,637.3 568.5,634.7 570.2,632.3 572.0,630.1 573.7,627.4 575.4,625.8 577.2,622.9 578.9,620.7 580.7,621.3 582.4,621.7 584.1,619.3 585.9,615.9 587.6,614.0 589.4,611.6 591.1,609.4 592.8,606.5 594.6,602.9 596.3,601.9 598.1,599.5 599.8,596.6 601.5,593.4 603.3,590.9 605.0,590.5 606.8,591.2 608.5,590.1 610.2,586.4 612.0,583.0 613.7,577.9 615.5,573.3 617.2,571.9 619.0,569.7 620.7,566.0 622.4,562.9 624.2,559.0 625.9,553.4 627.7,548.8 629.4,546.4 631.1,543.8 632.9,541.4 634.6,540.1 636.4,537.3 638.1,532.4 639.8,529.3 641.6,526.7 643.3,523.3 645.1,519.4 646.8,515.1 648.5,513.0 650.3,510.9 652.0,505.8 653.8,500.6 655.5,498.2 657.2,495.6 659.0,491.2 660.7,487.0 662.5,484.1 664.2,479.2 666.0,476.0 667.7,472.2 669.4,468.4 671.2,466.5 672.9,462.3 674.7,457.4 676.4,454.2 678.1,449.4 679.9,444.4 681.6,442.6 683.4,441.9 685.1,440.1 686.8,437.0 688.6,434.0 690.3,431.4 692.1,428.8 693.8,427.0 695.5,423.9 697.3,420.9 699.0,417.5 700.8,413.5 702.5,411.9 704.2,411.8 706.0,409.0 707.7,405.6 709.5,403.2 711.2,400.6 713.0,398.5 714.7,395.8 716.4,393.6 718.2,391.3 719.9,390.9 721.7,387.6 723.4,384.2 725.1,383.3 726.9,382.2 728.6,380.6 730.4,378.9 732.1,380.2 733.8,380.4 735.6,376.0 737.3,373.5 739.1,371.7 740.8,369.5 742.5,366.4 744.3,366.3 746.0,368.3 747.8,369.4 749.5,369.9 751.2,368.4 753.0,369.5 754.7,370.9 756.5,367.5 758.2,365.5 760.0,366.1 761.7,367.1 763.4,367.7 765.2,366.7 766.9,365.9 768.7,368.0 770.4,370.0 772.1,367.7 773.9,362.9 775.6,363.2 777.4,364.4 779.1,366.1 780.8,367.4 782.6,369.6 784.3,370.0 786.1,369.8 787.8,369.3 789.5,369.8 791.3,371.6 793.0,373.6 794.8,374.1 796.5,374.8 798.2,377.0 800.0,377.6 801.7,377.5 803.5,377.4 805.2,377.9 807.0,378.0 808.7,378.6 810.4,383.3 812.2,385.9 813.9,387.2 815.7,389.5 817.4,390.6 819.1,390.5 820.9,390.2 822.6,394.4 824.4,400.0 826.1,404.9 827.8,407.6 829.6,408.9 831.3,407.7 833.1,409.5 834.8,415.4 836.5,420.4 838.3,424.6 840.0,427.4 841.8,430.0 843.5,432.5 845.2,436.9 847.0,440.5 848.7,444.4 850.5,447.7 852.2,450.5 854.0,453.9 855.7,457.7 857.4,462.0 859.2,465.6 860.9,469.3 862.7,475.1 864.4,482.3 866.1,487.5 867.9,492.7 869.6,496.9 871.4,500.6 873.1,505.3 874.8,511.3 876.6,516.9 878.3,521.3 880.1,524.6 881.8,529.4 883.5,535.1 885.3,539.7 887.0,542.0 888.8,546.8 890.5,551.3 892.2,555.7 894.0,559.6 895.7,564.6 897.5,569.4 899.2,572.6 901.0,575.8 902.7,578.9 904.4,581.9 906.2,585.8 907.9,588.9 909.7,591.8 911.4,595.6 913.1,599.5 914.9,603.2 916.6,605.9 918.4,609.1 920.1,613.4 921.8,616.8 923.6,619.5 925.3,621.3 927.1,622.9 928.8,625.0 930.5,628.0 932.3,631.1 934.0,632.7 935.8,633.9 937.5,636.1 939.2,638.2 941.0,640.8 942.7,642.6 944.5,644.9 946.2,647.9 948.0,649.9 949.7,651.7 951.4,655.2 953.2,657.7 954.9,658.1 956.7,659.8 958.4,660.1 960.1,660.8 961.9,661.7 963.6,663.0 965.4,665.3 967.1,666.0 968.8,665.8 970.6,665.9 972.3,666.2 974.1,667.6 975.8,668.6 977.5,668.2 979.3,669.0 981.0,670.5 982.8,671.8 984.5,672.0 986.2,671.0 988.0,670.6 989.7,671.0 991.5,670.8 993.2,671.0 995.0,671.8 996.7,671.9 998.4,670.7 1000.2,669.6 1001.9,668.7 1003.7,667.3 1005.4,667.2 1007.1,667.4 1008.9,668.4 1010.6,667.5 1012.4,665.9 1014.1,664.2 1015.8,662.9 1017.6,663.5 1019.3,663.3 1021.1,661.9 1022.8,660.9 1024.5,659.7 1026.3,658.1 1028.0,657.9 1029.8,657.2 1031.5,655.4 1033.2,653.6 1035.0,651.9 1036.7,649.7 1038.5,648.6 1040.2,647.3 1042.0,645.3 1043.7,643.8 1045.4,641.5 1047.2,639.2 1048.9,638.0 1050.7,636.7 1052.4,635.4 1054.1,633.8 1055.9,632.7 1057.6,630.8 1059.4,629.2 1061.1,627.3 1062.8,626.0 1064.6,625.0 1066.3,623.0 1068.1,620.7 1069.8,619.0 1071.5,618.3 1073.3,616.8 1075.0,614.6 1076.8,612.6 1078.5,610.3 1080.2,608.5 1082.0,607.2 1083.7,606.2 1085.5,604.7 1087.2,602.9 1089.0,601.9 1090.7,600.5 1092.4,598.9 1094.2,597.3 1095.9,595.2 1097.7,593.5 1099.4,592.0 1101.1,590.2 1102.9,588.3 1104.6,586.1 1106.4,584.4 1108.1,581.8 1109.8,579.2 1111.6,576.8 1113.3,575.5 1115.1,574.0 1116.8,571.8 1118.5,568.9 1120.3,565.7 1122.0,563.7 1123.8,562.1 1125.5,560.7 1127.2,559.6 1129.0,557.9 1130.7,556.0 1132.5,554.2 1134.2,552.0 1136.0,550.4 1137.7,549.5 1139.4,549.1 1141.2,548.6 1142.9,547.8 1144.7,546.6 1146.4,544.8 1148.1,544.0 1149.9,543.4 1151.6,542.5 1153.4,542.6 1155.1,543.4 1156.8,543.8 1158.6,544.0 1160.3,544.2 1162.1,545.0 1163.8,546.4 1165.5,547.5 1167.3,549.3 1169.0,551.0 1170.8,552.0 1172.5,553.4 1174.2,555.3 1176.0,557.6 1177.7,559.8 1179.5,562.0 1181.2,564.1 1183.0,566.1 1184.7,569.0 1186.4,572.3 1188.2,575.1 1189.9,578.2 1191.7,582.0 1193.4,586.3 1195.1,590.8 1196.9,595.2 1198.6,600.1 1200.4,605.3 1202.1,610.1 1203.8,615.3 1205.6,619.9 1207.3,624.4 1209.1,629.4 1210.8,634.6 1212.5,640.0 1214.3,645.0 1216.0,650.6 1217.8,655.3 1219.5,659.7 1221.2,665.5 1223.0,671.0 1224.7,675.5 1226.5,680.3 1228.2,684.8 1230.0,689.9 1231.7,694.8 1233.4,700.0 1235.2,704.5 1236.9,709.5 1238.7,715.9 1240.4,722.0 1242.1,726.7 1243.9,731.8 1245.6,736.7 1247.4,741.5 1249.1,746.5 1250.8,751.1 1252.6,754.8 1254.3,759.1 1256.1,763.0 1257.8,766.8 1259.5,771.5 1261.3,775.3 1263.0,778.2 1264.8,781.8 1266.5,784.7 1268.2,787.7 1270.0,790.9 1271.7,793.6 1273.5,796.4 1275.2,799.5 1277.0,802.0 1278.7,803.7 1280.4,804.9 1282.2,806.9 1283.9,809.5 1285.7,811.3 1287.4,813.1 1289.1,814.7 1290.9,816.5 1292.6,818.3 1294.4,820.5 1296.1,821.6 1297.8,823.0 1299.6,824.4 1301.3,825.7 1303.1,826.0 1304.8,827.0 1306.5,828.1 1308.3,829.2 1310.0,829.9 1311.8,830.4 1313.5,831.1 1315.3,831.7 1317.0,832.5 1318.7,832.8 1320.5,833.2 1322.2,833.9 1324.0,834.9 1325.7,835.7 1327.4,835.4 1329.2,835.6 1330.9,835.7 1332.7,834.7 1334.4,834.8 1336.1,835.3 1337.9,836.7 1339.6,837.9 1341.4,837.9 1343.1,837.7 1344.8,836.8 1346.6,836.2 1348.3,836.3 1350.1,837.5 1351.8,837.7 1353.5,837.5 1355.3,837.8 1357.0,837.8 1358.8,838.5 1360.5,838.6 1362.3,837.8 1364.0,837.5 1365.7,837.8 1367.5,837.6 1369.2,837.7 1371.0,837.6 1372.7,837.9 1374.4,837.8 1376.2,837.4 1377.9,837.1 1379.7,837.1 1381.4,836.7 1383.1,837.0 1384.9,837.3 1386.6,837.5 1388.4,837.5 1390.1,837.9 1391.8,837.5 1393.6,837.3 1395.3,838.1 1397.1,838.3 1398.8,837.5 1400.5,836.9 1402.3,836.9 1404.0,836.9 1405.8,837.3 1407.5,837.9 1409.3,837.8 1411.0,837.5 1412.7,837.4 1414.5,837.5 1416.2,837.7 1418.0,837.7 1419.7,837.4 1421.4,837.7 1423.2,838.4 1424.9,838.0 1426.7,837.8 1428.4,838.1 1430.1,837.4 1431.9,836.9 1433.6,837.0 1435.4,836.8 1437.1,836.9 1438.8,837.2 1440.6,837.0 1442.3,836.8 1444.1,836.9 1445.8,837.3 1447.5,837.8 1449.3,837.6 1451.0,837.9 1452.8,838.7 1454.5,838.6 1456.3,839.1 1458.0,839.0 1459.7,838.3 1461.5,837.8 1463.2,838.5 1465.0,839.1 1466.7,839.3 1468.4,839.3 1470.2,839.6 1471.9,839.6 1473.7,839.1 1475.4,839.4 1477.1,839.2 1478.9,838.8 1480.6,839.1 1482.4,839.8 1484.1,839.3 1485.8,838.3 1487.6,838.4 1489.3,838.6 1491.1,838.4 1492.8,838.1 1494.5,838.0 1496.3,838.4 1498.0,838.2 1499.8,838.0 1501.5,838.0 1503.3,838.2 1505.0,838.7 1506.7,838.6 1508.5,838.0 1510.2,837.7 1512.0,838.1 1513.7,838.7 1515.4,838.7 1517.2,838.5 1518.9,838.3 1520.7,838.2 1522.4,838.1 1524.1,838.0 1525.9,838.6 1527.6,838.4 1529.4,838.5 1531.1,839.1 1532.8,839.0 1534.6,838.6 1536.3,838.1 1538.1,837.9 1539.8,838.7 1541.5,839.2 1543.3,839.0 1545.0,839.0 1546.8,838.5 1548.5,838.5 1550.3,838.9 1552.0,839.0 1553.7,838.9 1555.5,838.2 1557.2,837.5 1559.0,837.3 1560.7,837.3 1562.4,837.3 1564.2,837.5 1565.9,837.9 1567.7,837.7 1569.4,837.8 1571.1,838.7 1572.9,838.1 1574.6,837.8 1576.4,838.6 1578.1,838.5 1579.8,837.4 1581.6,836.8 1583.3,837.3 1585.1,838.0 1586.8,837.9 1588.5,837.7 1590.3,838.1 1592.0,838.4 1593.8,837.7 1595.5,837.6 1597.3,838.2 1599.0,839.7 1600.7,839.9 1602.5,839.6 1604.2,839.0 1606.0,838.6 1607.7,838.0 1609.4,838.2 1611.2,837.9 1612.9,837.9 1614.7,838.3 1616.4,838.9 1618.1,839.6 1620.0,839.8"/>
<polyline stroke="#226F22" stroke-width="7.3" points="223.8,666.4 225.5,665.3 227.3,663.6 229.0,664.7 230.8,666.2 232.5,669.0 234.2,669.6 236.0,669.0 237.7,668.2 239.5,668.5 241.2,668.3 242.9,667.2 244.7,666.7 246.4,666.8 248.2,666.6 249.9,666.6 251.7,667.1 253.4,667.6 255.1,668.3 256.9,667.7 258.6,668.8 260.4,668.4 262.1,667.7 263.8,667.5 265.6,668.9 267.3,669.9 269.1,670.4 270.8,670.5 272.5,672.1 274.3,673.9 276.0,672.8 277.8,671.8 279.5,672.4 281.2,672.4 283.0,672.8 284.7,672.3 286.5,670.2 288.2,668.6 289.9,670.1 291.7,671.7 293.4,671.9 295.2,672.6 296.9,672.7 298.7,672.1 300.4,673.6 302.1,674.5 303.9,674.3 305.6,674.0 307.4,674.0 309.1,673.8 310.8,671.9 312.6,670.4 314.3,669.4 316.1,667.2 317.8,665.8 319.5,666.7 321.3,668.4 323.0,667.9 324.8,665.1 326.5,664.3 328.2,665.8 330.0,667.1 331.7,668.1 333.5,669.4 335.2,670.1 336.9,669.2 338.7,667.9 340.4,665.8 342.2,665.6 343.9,667.6 345.7,669.2 347.4,669.7 349.1,669.8 350.9,669.7 352.6,668.3 354.4,665.8 356.1,666.4 357.8,668.3 359.6,668.5 361.3,667.6 363.1,668.9 364.8,668.6 366.5,668.8 368.3,669.7 370.0,669.8 371.8,669.0 373.5,670.5 375.2,670.4 377.0,669.3 378.7,668.5 380.5,667.5 382.2,669.2 383.9,670.9 385.7,671.0 387.4,671.3 389.2,672.1 390.9,673.4 392.7,674.5 394.4,674.1 396.1,674.4 397.9,676.4 399.6,678.0 401.4,676.7 403.1,675.8 404.8,675.5 406.6,678.2 408.3,679.6 410.1,679.7 411.8,678.0 413.5,677.4 415.3,679.2 417.0,679.3 418.8,677.4 420.5,677.0 422.2,679.3 424.0,681.6 425.7,683.4 427.5,681.3 429.2,680.0 430.9,679.6 432.7,679.0 434.4,680.9 436.2,683.8 437.9,683.2 439.7,682.0 441.4,682.3 443.1,684.9 444.9,686.3 446.6,686.2 448.4,686.1 450.1,687.0 451.8,687.6 453.6,687.5 455.3,687.5 457.1,685.8 458.8,686.7 460.5,688.9 462.3,690.2 464.0,690.9 465.8,693.4 467.5,695.6 469.2,696.2 471.0,696.8 472.7,697.8 474.5,697.8 476.2,697.5 477.9,699.6 479.7,701.7 481.4,701.5 483.2,702.3 484.9,702.8 486.7,702.7 488.4,703.5 490.1,705.3 491.9,705.9 493.6,704.6 495.4,702.1 497.1,701.8 498.8,702.2 500.6,702.0 502.3,700.6 504.1,699.2 505.8,697.7 507.5,695.0 509.3,691.8 511.0,689.7 512.8,686.6 514.5,684.4 516.2,684.1 518.0,685.8 519.7,682.2 521.5,679.0 523.2,679.9 524.9,681.4 526.7,679.7 528.4,677.7 530.2,675.6 531.9,674.9 533.7,674.8 535.4,673.1 537.1,670.9 538.9,670.0 540.6,668.4 542.4,665.6 544.1,663.7 545.8,661.9 547.6,660.3 549.3,659.8 551.1,657.1 552.8,653.7 554.5,650.8 556.3,650.6 558.0,651.4 559.8,649.0 561.5,647.5 563.2,646.0 565.0,644.9 566.7,642.7 568.5,639.5 570.2,637.6 572.0,636.5 573.7,634.9 575.4,632.9 577.2,631.5 578.9,631.4 580.7,630.7 582.4,627.8 584.1,624.5 585.9,623.1 587.6,621.9 589.4,621.2 591.1,620.1 592.8,616.1 594.6,612.5 596.3,609.2 598.1,607.3 599.8,606.2 601.5,605.6 603.3,602.5 605.0,599.3 606.8,597.4 608.5,593.3 610.2,591.7 612.0,589.8 613.7,586.1 615.5,581.6 617.2,578.1 619.0,575.1 620.7,571.5 622.4,566.0 624.2,563.7 625.9,561.6 627.7,557.4 629.4,553.0 631.1,551.0 632.9,549.3 634.6,548.7 636.4,546.3 638.1,540.8 639.8,535.1 641.6,532.7 643.3,530.9 645.1,530.4 646.8,529.1 648.5,526.2 650.3,523.5 652.0,520.3 653.8,514.9 655.5,509.2 657.2,505.4 659.0,502.0 660.7,500.8 662.5,498.4 664.2,495.4 666.0,490.0 667.7,484.6 669.4,483.4 671.2,482.0 672.9,478.1 674.7,471.4 676.4,466.7 678.1,463.5 679.9,459.1 681.6,455.5 683.4,454.8 685.1,455.0 686.8,450.0 688.6,445.3 690.3,443.3 692.1,442.6 693.8,442.1 695.5,439.9 697.3,436.6 699.0,432.9 700.8,429.4 702.5,425.8 704.2,424.0 706.0,424.6 707.7,422.1 709.5,419.9 711.2,416.8 713.0,414.1 714.7,411.3 716.4,408.6 718.2,408.1 719.9,408.0 721.7,407.2 723.4,405.7 725.1,404.0 726.9,401.0 728.6,397.1 730.4,393.6 732.1,393.9 733.8,395.3 735.6,393.9 737.3,392.0 739.1,389.5 740.8,388.7 742.5,390.0 744.3,389.4 746.0,389.0 747.8,387.0 749.5,383.9 751.2,381.6 753.0,381.9 754.7,380.8 756.5,381.2 758.2,385.0 760.0,386.4 761.7,385.9 763.4,384.8 765.2,384.4 766.9,384.7 768.7,384.6 770.4,384.3 772.1,383.3 773.9,381.3 775.6,383.1 777.4,384.0 779.1,385.5 780.8,385.6 782.6,384.7 784.3,385.9 786.1,386.5 787.8,385.5 789.5,385.6 791.3,385.9 793.0,385.4 794.8,387.9 796.5,390.3 798.2,390.6 800.0,390.8 801.7,394.0 803.5,398.0 805.2,399.0 807.0,397.5 808.7,396.8 810.4,398.1 812.2,399.1 813.9,399.6 815.7,401.6 817.4,404.2 819.1,405.1 820.9,404.7 822.6,408.7 824.4,412.1 826.1,414.8 827.8,416.5 829.6,419.0 831.3,420.7 833.1,421.0 834.8,426.1 836.5,428.3 838.3,428.5 840.0,431.8 841.8,436.5 843.5,441.0 845.2,445.7 847.0,448.6 848.7,451.3 850.5,454.8 852.2,457.6 854.0,460.9 855.7,464.1 857.4,467.2 859.2,470.9 860.9,474.2 862.7,476.9 864.4,481.9 866.1,487.0 867.9,490.9 869.6,494.4 871.4,499.8 873.1,505.8 874.8,511.2 876.6,515.8 878.3,518.3 880.1,521.5 881.8,525.2 883.5,529.0 885.3,532.0 887.0,535.4 888.8,541.1 890.5,546.2 892.2,549.3 894.0,551.0 895.7,555.0 897.5,559.8 899.2,562.3 901.0,565.0 902.7,568.2 904.4,572.5 906.2,576.7 907.9,579.9 909.7,582.1 911.4,583.5 913.1,585.0 914.9,587.7 916.6,590.6 918.4,593.4 920.1,596.2 921.8,599.9 923.6,601.9 925.3,604.2 927.1,606.5 928.8,610.2 930.5,613.3 932.3,614.5 934.0,616.6 935.8,618.8 937.5,621.1 939.2,622.9 941.0,624.1 942.7,625.7 944.5,627.2 946.2,628.6 948.0,630.6 949.7,633.3 951.4,634.9 953.2,636.7 954.9,637.8 956.7,638.4 958.4,639.8 960.1,640.5 961.9,642.2 963.6,643.2 965.4,642.6 967.1,642.5 968.8,644.0 970.6,645.9 972.3,645.3 974.1,645.0 975.8,646.1 977.5,646.6 979.3,646.5 981.0,645.9 982.8,645.9 984.5,646.4 986.2,646.7 988.0,646.9 989.7,647.2 991.5,648.2 993.2,649.4 995.0,649.7 996.7,649.0 998.4,647.7 1000.2,647.0 1001.9,647.4 1003.7,647.6 1005.4,647.3 1007.1,646.3 1008.9,645.4 1010.6,644.7 1012.4,643.5 1014.1,642.7 1015.8,642.2 1017.6,640.9 1019.3,640.3 1021.1,639.8 1022.8,638.6 1024.5,637.0 1026.3,635.1 1028.0,634.0 1029.8,633.0 1031.5,632.0 1033.2,630.5 1035.0,629.0 1036.7,627.7 1038.5,625.2 1040.2,622.4 1042.0,620.1 1043.7,618.2 1045.4,616.7 1047.2,615.6 1048.9,613.5 1050.7,610.8 1052.4,608.3 1054.1,606.3 1055.9,605.2 1057.6,604.2 1059.4,602.2 1061.1,599.6 1062.8,597.1 1064.6,594.7 1066.3,593.5 1068.1,592.0 1069.8,590.4 1071.5,587.9 1073.3,585.5 1075.0,583.7 1076.8,581.9 1078.5,580.6 1080.2,578.6 1082.0,576.4 1083.7,574.2 1085.5,572.0 1087.2,570.3 1089.0,568.8 1090.7,567.2 1092.4,564.8 1094.2,562.5 1095.9,560.1 1097.7,558.1 1099.4,556.5 1101.1,555.0 1102.9,552.8 1104.6,550.5 1106.4,547.5 1108.1,544.3 1109.8,541.5 1111.6,540.1 1113.3,538.1 1115.1,535.0 1116.8,532.4 1118.5,529.4 1120.3,526.4 1122.0,524.0 1123.8,521.5 1125.5,519.7 1127.2,518.2 1129.0,515.7 1130.7,513.4 1132.5,511.8 1134.2,509.4 1136.0,507.7 1137.7,506.2 1139.4,504.7 1141.2,503.2 1142.9,502.3 1144.7,502.1 1146.4,500.4 1148.1,498.7 1149.9,497.6 1151.6,498.1 1153.4,498.9 1155.1,498.7 1156.8,498.5 1158.6,498.6 1160.3,498.7 1162.1,499.4 1163.8,500.9 1165.5,502.0 1167.3,503.3 1169.0,504.9 1170.8,507.5 1172.5,510.1 1174.2,511.5 1176.0,513.1 1177.7,515.2 1179.5,519.1 1181.2,522.7 1183.0,526.2 1184.7,529.0 1186.4,531.9 1188.2,535.8 1189.9,540.8 1191.7,545.6 1193.4,550.4 1195.1,555.7 1196.9,561.0 1198.6,566.8 1200.4,572.1 1202.1,577.5 1203.8,583.7 1205.6,589.9 1207.3,596.0 1209.1,601.0 1210.8,606.2 1212.5,612.2 1214.3,618.2 1216.0,624.1 1217.8,629.6 1219.5,634.9 1221.2,640.7 1223.0,646.3 1224.7,651.7 1226.5,657.6 1228.2,663.4 1230.0,668.7 1231.7,674.5 1233.4,680.7 1235.2,686.9 1236.9,692.7 1238.7,698.3 1240.4,704.7 1242.1,711.1 1243.9,717.0 1245.6,721.6 1247.4,726.2 1249.1,731.3 1250.8,737.1 1252.6,742.3 1254.3,746.5 1256.1,751.1 1257.8,755.7 1259.5,759.7 1261.3,763.3 1263.0,767.0 1264.8,770.2 1266.5,773.2 1268.2,776.6 1270.0,779.7 1271.7,782.6 1273.5,785.9 1275.2,788.9 1277.0,790.9 1278.7,793.6 1280.4,796.0 1282.2,797.9 1283.9,799.9 1285.7,801.9 1287.4,803.9 1289.1,805.2 1290.9,806.6 1292.6,808.0 1294.4,810.2 1296.1,811.6 1297.8,812.4 1299.6,813.8 1301.3,815.2 1303.1,815.9 1304.8,816.2 1306.5,817.1 1308.3,819.1 1310.0,820.7 1311.8,821.0 1313.5,821.7 1315.3,822.3 1317.0,822.8 1318.7,823.3 1320.5,823.7 1322.2,824.5 1324.0,825.9 1325.7,826.2 1327.4,826.5 1329.2,826.3 1330.9,825.9 1332.7,826.1 1334.4,826.5 1336.1,826.1 1337.9,826.1 1339.6,826.7 1341.4,827.0 1343.1,828.2 1344.8,828.6 1346.6,828.6 1348.3,828.4 1350.1,828.0 1351.8,828.2 1353.5,829.0 1355.3,829.4 1357.0,829.1 1358.8,828.9 1360.5,828.9 1362.3,829.0 1364.0,828.3 1365.7,828.0 1367.5,827.9 1369.2,827.6 1371.0,827.7 1372.7,828.3 1374.4,829.5 1376.2,829.9 1377.9,829.1 1379.7,828.2 1381.4,828.2 1383.1,828.6 1384.9,828.7 1386.6,828.7 1388.4,828.6 1390.1,828.0 1391.8,828.4 1393.6,829.0 1395.3,829.4 1397.1,829.3 1398.8,829.1 1400.5,828.8 1402.3,828.7 1404.0,828.9 1405.8,828.9 1407.5,829.1 1409.3,829.8 1411.0,829.9 1412.7,829.5 1414.5,829.7 1416.2,830.0 1418.0,829.7 1419.7,829.5 1421.4,829.2 1423.2,828.4 1424.9,828.5 1426.7,829.4 1428.4,830.0 1430.1,830.2 1431.9,830.0 1433.6,830.5 1435.4,830.8 1437.1,830.7 1438.8,829.8 1440.6,829.6 1442.3,829.8 1444.1,829.7 1445.8,829.3 1447.5,829.2 1449.3,829.6 1451.0,830.6 1452.8,830.3 1454.5,829.8 1456.3,829.6 1458.0,829.8 1459.7,830.1 1461.5,829.9 1463.2,830.3 1465.0,831.0 1466.7,830.7 1468.4,830.0 1470.2,829.5 1471.9,829.4 1473.7,829.3 1475.4,829.4 1477.1,829.1 1478.9,829.0 1480.6,828.9 1482.4,829.1 1484.1,830.0 1485.8,830.5 1487.6,829.5 1489.3,829.0 1491.1,829.6 1492.8,830.1 1494.5,830.6 1496.3,830.3 1498.0,829.9 1499.8,829.0 1501.5,828.6 1503.3,829.1 1505.0,829.4 1506.7,828.8 1508.5,828.4 1510.2,828.6 1512.0,828.9 1513.7,829.2 1515.4,829.8 1517.2,830.4 1518.9,829.7 1520.7,828.9 1522.4,828.7 1524.1,829.0 1525.9,828.9 1527.6,829.4 1529.4,829.0 1531.1,828.5 1532.8,828.8 1534.6,829.2 1536.3,829.2 1538.1,828.6 1539.8,828.8 1541.5,829.1 1543.3,829.0 1545.0,828.5 1546.8,828.8 1548.5,829.6 1550.3,829.2 1552.0,828.5 1553.7,828.5 1555.5,828.4 1557.2,828.3 1559.0,828.5 1560.7,829.1 1562.4,829.1 1564.2,829.1 1565.9,828.8 1567.7,828.3 1569.4,828.6 1571.1,829.0 1572.9,828.7 1574.6,829.1 1576.4,829.5 1578.1,829.9 1579.8,830.1 1581.6,830.0 1583.3,829.7 1585.1,829.4 1586.8,829.1 1588.5,829.2 1590.3,829.6 1592.0,829.6 1593.8,830.0 1595.5,829.9 1597.3,829.4 1599.0,829.3 1600.7,829.1 1602.5,829.2 1604.2,829.1 1606.0,829.3 1607.7,829.3 1609.4,829.4 1611.2,830.2 1612.9,829.8 1614.7,828.9 1616.4,829.1 1618.1,829.6 1620.0,830.2"/>
<polyline stroke="#8ACD80" stroke-width="7.3" points="223.8,675.2 225.5,674.4 227.3,674.7 229.0,675.8 230.8,675.7 232.5,674.0 234.2,672.9 236.0,673.0 237.7,675.7 239.5,676.3 241.2,677.2 242.9,677.8 244.7,678.5 246.4,678.5 248.2,677.5 249.9,676.8 251.7,675.3 253.4,675.2 255.1,674.0 256.9,675.4 258.6,676.7 260.4,675.9 262.1,674.5 263.8,674.1 265.6,675.4 267.3,677.4 269.1,677.4 270.8,675.5 272.5,674.4 274.3,674.9 276.0,673.8 277.8,673.9 279.5,674.8 281.2,676.5 283.0,676.8 284.7,676.7 286.5,675.9 288.2,675.3 289.9,676.6 291.7,677.5 293.4,676.5 295.2,676.1 296.9,676.0 298.7,676.9 300.4,677.1 302.1,677.0 303.9,676.9 305.6,676.9 307.4,674.8 309.1,673.5 310.8,673.4 312.6,673.9 314.3,673.0 316.1,673.1 317.8,674.9 319.5,675.4 321.3,672.9 323.0,669.4 324.8,669.2 326.5,669.4 328.2,670.2 330.0,672.3 331.7,674.1 333.5,672.5 335.2,671.4 336.9,672.1 338.7,671.8 340.4,671.0 342.2,670.1 343.9,670.2 345.7,669.4 347.4,666.9 349.1,667.4 350.9,670.4 352.6,670.8 354.4,668.8 356.1,667.4 357.8,667.3 359.6,667.2 361.3,668.8 363.1,671.0 364.8,670.8 366.5,670.5 368.3,669.6 370.0,669.9 371.8,669.8 373.5,667.5 375.2,667.3 377.0,668.4 378.7,670.0 380.5,671.2 382.2,669.6 383.9,667.0 385.7,666.6 387.4,666.9 389.2,668.4 390.9,670.7 392.7,669.6 394.4,669.6 396.1,670.3 397.9,672.1 399.6,672.7 401.4,672.8 403.1,673.4 404.8,674.0 406.6,672.6 408.3,672.2 410.1,673.5 411.8,675.8 413.5,675.3 415.3,674.7 417.0,677.0 418.8,680.1 420.5,679.7 422.2,679.8 424.0,679.7 425.7,679.0 427.5,678.4 429.2,678.6 430.9,678.7 432.7,679.8 434.4,684.4 436.2,685.1 437.9,683.7 439.7,682.9 441.4,683.4 443.1,685.3 444.9,685.6 446.6,685.6 448.4,685.3 450.1,688.0 451.8,690.4 453.6,690.0 455.3,690.5 457.1,691.3 458.8,692.9 460.5,693.5 462.3,692.6 464.0,692.4 465.8,693.5 467.5,694.1 469.2,694.7 471.0,696.4 472.7,697.2 474.5,697.5 476.2,700.6 477.9,704.0 479.7,705.0 481.4,705.3 483.2,706.5 484.9,703.5 486.7,701.3 488.4,701.7 490.1,702.2 491.9,704.8 493.6,704.7 495.4,702.0 497.1,701.7 498.8,699.9 500.6,699.3 502.3,698.5 504.1,696.8 505.8,694.5 507.5,692.2 509.3,690.2 511.0,690.4 512.8,691.2 514.5,691.3 516.2,690.0 518.0,688.8 519.7,687.1 521.5,685.5 523.2,681.6 524.9,677.1 526.7,675.6 528.4,677.8 530.2,677.8 531.9,676.0 533.7,673.8 535.4,673.4 537.1,673.1 538.9,669.8 540.6,666.1 542.4,665.3 544.1,664.7 545.8,660.0 547.6,657.4 549.3,655.9 551.1,654.8 552.8,656.3 554.5,654.6 556.3,651.4 558.0,649.0 559.8,648.3 561.5,646.9 563.2,644.7 565.0,642.9 566.7,641.6 568.5,640.3 570.2,635.8 572.0,634.2 573.7,632.9 575.4,632.5 577.2,630.9 578.9,629.7 580.7,628.4 582.4,626.8 584.1,624.7 585.9,621.8 587.6,621.2 589.4,619.8 591.1,619.2 592.8,619.1 594.6,617.5 596.3,613.7 598.1,607.3 599.8,605.1 601.5,604.6 603.3,601.8 605.0,600.8 606.8,600.5 608.5,597.2 610.2,592.7 612.0,590.8 613.7,588.7 615.5,585.3 617.2,581.7 619.0,577.9 620.7,573.6 622.4,571.0 624.2,568.2 625.9,566.2 627.7,563.1 629.4,559.3 631.1,557.1 632.9,554.4 634.6,551.2 636.4,548.2 638.1,544.3 639.8,540.9 641.6,538.3 643.3,535.7 645.1,532.1 646.8,526.1 648.5,522.6 650.3,519.1 652.0,517.7 653.8,516.4 655.5,514.2 657.2,511.4 659.0,505.8 660.7,499.7 662.5,498.0 664.2,499.1 666.0,496.7 667.7,491.0 669.4,486.2 671.2,483.9 672.9,478.4 674.7,475.6 676.4,472.8 678.1,469.1 679.9,464.7 681.6,462.7 683.4,461.1 685.1,456.7 686.8,452.8 688.6,451.3 690.3,449.5 692.1,446.6 693.8,443.9 695.5,442.3 697.3,439.3 699.0,436.1 700.8,434.8 702.5,432.9 704.2,429.8 706.0,425.9 707.7,424.8 709.5,425.2 711.2,424.5 713.0,422.2 714.7,420.1 716.4,419.2 718.2,418.5 719.9,417.0 721.7,413.4 723.4,409.8 725.1,407.2 726.9,404.0 728.6,403.4 730.4,402.6 732.1,402.0 733.8,401.0 735.6,398.5 737.3,395.6 739.1,394.6 740.8,393.9 742.5,394.0 744.3,393.6 746.0,393.1 747.8,394.6 749.5,395.2 751.2,393.8 753.0,392.6 754.7,390.7 756.5,391.2 758.2,391.8 760.0,389.8 761.7,389.7 763.4,391.0 765.2,393.5 766.9,393.6 768.7,391.3 770.4,389.5 772.1,388.1 773.9,391.0 775.6,392.4 777.4,391.6 779.1,388.7 780.8,389.3 782.6,388.6 784.3,387.7 786.1,389.4 787.8,392.7 789.5,395.0 791.3,395.3 793.0,395.5 794.8,397.0 796.5,397.5 798.2,397.6 800.0,398.7 801.7,401.4 803.5,404.2 805.2,406.4 807.0,406.5 808.7,408.3 810.4,408.9 812.2,409.0 813.9,407.7 815.7,408.3 817.4,411.1 819.1,414.6 820.9,416.8 822.6,419.1 824.4,421.5 826.1,423.9 827.8,425.2 829.6,426.9 831.3,430.3 833.1,434.2 834.8,438.2 836.5,440.1 838.3,442.7 840.0,446.4 841.8,451.3 843.5,454.7 845.2,456.3 847.0,456.7 848.7,459.2 850.5,464.5 852.2,469.2 854.0,471.9 855.7,472.4 857.4,475.1 859.2,478.2 860.9,483.5 862.7,490.1 864.4,496.3 866.1,500.3 867.9,504.5 869.6,510.3 871.4,517.3 873.1,521.9 874.8,523.3 876.6,527.2 878.3,532.5 880.1,538.3 881.8,542.8 883.5,546.5 885.3,548.5 887.0,551.8 888.8,555.0 890.5,558.2 892.2,562.2 894.0,566.6 895.7,572.2 897.5,574.6 899.2,576.4 901.0,580.2 902.7,585.0 904.4,587.9 906.2,591.4 907.9,595.1 909.7,598.4 911.4,600.8 913.1,602.5 914.9,604.1 916.6,606.4 918.4,610.2 920.1,613.6 921.8,616.0 923.6,618.4 925.3,621.3 927.1,625.1 928.8,626.3 930.5,627.4 932.3,629.9 934.0,632.7 935.8,634.7 937.5,635.6 939.2,638.4 941.0,640.8 942.7,643.6 944.5,646.5 946.2,648.2 948.0,649.2 949.7,651.6 951.4,654.9 953.2,656.5 954.9,657.1 956.7,657.7 958.4,658.9 960.1,659.4 961.9,659.4 963.6,660.2 965.4,662.0 967.1,663.5 968.8,664.4 970.6,664.6 972.3,665.5 974.1,665.8 975.8,666.7 977.5,666.6 979.3,665.9 981.0,665.8 982.8,666.5 984.5,667.3 986.2,667.7 988.0,666.8 989.7,666.5 991.5,667.7 993.2,669.1 995.0,668.7 996.7,666.9 998.4,666.1 1000.2,665.7 1001.9,664.9 1003.7,664.4 1005.4,663.7 1007.1,662.8 1008.9,662.4 1010.6,662.1 1012.4,661.7 1014.1,660.6 1015.8,659.9 1017.6,658.8 1019.3,657.9 1021.1,658.2 1022.8,658.6 1024.5,657.5 1026.3,656.5 1028.0,654.6 1029.8,652.7 1031.5,651.3 1033.2,650.1 1035.0,648.9 1036.7,647.5 1038.5,645.3 1040.2,642.0 1042.0,640.8 1043.7,640.0 1045.4,638.5 1047.2,637.2 1048.9,636.2 1050.7,634.6 1052.4,633.1 1054.1,630.7 1055.9,628.3 1057.6,625.6 1059.4,623.5 1061.1,622.5 1062.8,621.3 1064.6,619.4 1066.3,617.6 1068.1,616.5 1069.8,614.9 1071.5,613.0 1073.3,611.5 1075.0,610.8 1076.8,609.3 1078.5,606.9 1080.2,604.8 1082.0,603.6 1083.7,602.7 1085.5,601.1 1087.2,598.7 1089.0,596.1 1090.7,594.6 1092.4,594.3 1094.2,592.3 1095.9,591.0 1097.7,589.7 1099.4,587.8 1101.1,585.0 1102.9,582.8 1104.6,581.7 1106.4,580.3 1108.1,578.1 1109.8,574.9 1111.6,572.6 1113.3,570.4 1115.1,568.1 1116.8,566.5 1118.5,564.9 1120.3,562.4 1122.0,560.0 1123.8,558.8 1125.5,557.5 1127.2,555.6 1129.0,553.2 1130.7,550.7 1132.5,549.5 1134.2,548.2 1136.0,546.4 1137.7,544.9 1139.4,543.8 1141.2,543.2 1142.9,541.8 1144.7,540.4 1146.4,539.8 1148.1,539.2 1149.9,538.4 1151.6,537.2 1153.4,536.8 1155.1,537.5 1156.8,538.2 1158.6,537.8 1160.3,537.6 1162.1,538.6 1163.8,539.4 1165.5,540.4 1167.3,542.3 1169.0,544.6 1170.8,547.1 1172.5,549.4 1174.2,551.2 1176.0,552.7 1177.7,554.3 1179.5,556.7 1181.2,559.6 1183.0,562.6 1184.7,565.1 1186.4,568.2 1188.2,572.1 1189.9,575.5 1191.7,578.9 1193.4,583.0 1195.1,587.4 1196.9,591.9 1198.6,596.5 1200.4,600.9 1202.1,605.6 1203.8,610.3 1205.6,615.3 1207.3,621.3 1209.1,627.2 1210.8,632.2 1212.5,636.9 1214.3,641.9 1216.0,647.2 1217.8,653.2 1219.5,659.1 1221.2,664.3 1223.0,669.4 1224.7,674.0 1226.5,678.4 1228.2,683.1 1230.0,688.5 1231.7,694.0 1233.4,699.6 1235.2,704.6 1236.9,709.8 1238.7,715.6 1240.4,721.5 1242.1,726.1 1243.9,731.5 1245.6,736.5 1247.4,741.0 1249.1,745.4 1250.8,750.3 1252.6,755.1 1254.3,759.7 1256.1,763.9 1257.8,767.5 1259.5,770.9 1261.3,774.6 1263.0,778.0 1264.8,781.3 1266.5,784.9 1268.2,787.5 1270.0,790.1 1271.7,792.9 1273.5,795.4 1275.2,798.6 1277.0,801.5 1278.7,803.9 1280.4,806.6 1282.2,809.3 1283.9,811.3 1285.7,812.9 1287.4,814.2 1289.1,815.5 1290.9,817.1 1292.6,818.8 1294.4,820.4 1296.1,821.9 1297.8,823.3 1299.6,824.9 1301.3,825.7 1303.1,827.0 1304.8,828.1 1306.5,828.6 1308.3,829.2 1310.0,830.5 1311.8,832.0 1313.5,832.4 1315.3,832.6 1317.0,833.2 1318.7,833.3 1320.5,833.4 1322.2,834.7 1324.0,835.9 1325.7,836.2 1327.4,835.9 1329.2,835.9 1330.9,836.7 1332.7,837.2 1334.4,837.7 1336.1,838.1 1337.9,838.0 1339.6,837.8 1341.4,837.7 1343.1,837.9 1344.8,838.3 1346.6,838.5 1348.3,838.4 1350.1,838.0 1351.8,838.2 1353.5,838.8 1355.3,838.8 1357.0,838.8 1358.8,839.1 1360.5,839.9 1362.3,840.2 1364.0,839.7 1365.7,839.6 1367.5,839.0 1369.2,838.8 1371.0,838.7 1372.7,839.3 1374.4,839.7 1376.2,840.0 1377.9,840.4 1379.7,840.2 1381.4,839.7 1383.1,839.4 1384.9,839.4 1386.6,839.4 1388.4,839.9 1390.1,840.6 1391.8,840.7 1393.6,840.4 1395.3,840.0 1397.1,839.4 1398.8,839.3 1400.5,839.1 1402.3,839.5 1404.0,840.1 1405.8,840.5 1407.5,840.6 1409.3,840.4 1411.0,840.3 1412.7,840.6 1414.5,841.1 1416.2,840.8 1418.0,840.0 1419.7,840.3 1421.4,840.8 1423.2,840.6 1424.9,840.3 1426.7,839.9 1428.4,839.8 1430.1,840.2 1431.9,840.2 1433.6,840.0 1435.4,839.6 1437.1,839.7 1438.8,840.2 1440.6,840.5 1442.3,840.7 1444.1,840.6 1445.8,841.0 1447.5,841.2 1449.3,841.1 1451.0,841.1 1452.8,840.9 1454.5,840.6 1456.3,840.4 1458.0,840.2 1459.7,840.5 1461.5,840.7 1463.2,840.3 1465.0,840.5 1466.7,840.4 1468.4,840.4 1470.2,840.7 1471.9,841.1 1473.7,841.4 1475.4,841.3 1477.1,841.5 1478.9,841.1 1480.6,841.0 1482.4,840.7 1484.1,840.0 1485.8,839.8 1487.6,840.3 1489.3,840.8 1491.1,840.8 1492.8,840.7 1494.5,840.9 1496.3,840.4 1498.0,840.2 1499.8,840.7 1501.5,840.7 1503.3,840.0 1505.0,839.9 1506.7,839.6 1508.5,840.2 1510.2,841.2 1512.0,841.1 1513.7,840.7 1515.4,840.1 1517.2,839.7 1518.9,839.8 1520.7,839.8 1522.4,839.5 1524.1,839.8 1525.9,840.1 1527.6,840.1 1529.4,839.9 1531.1,839.4 1532.8,839.0 1534.6,838.9 1536.3,838.6 1538.1,839.2 1539.8,840.4 1541.5,840.7 1543.3,839.8 1545.0,839.0 1546.8,839.9 1548.5,840.1 1550.3,840.0 1552.0,840.1 1553.7,839.8 1555.5,839.0 1557.2,839.0 1559.0,839.3 1560.7,839.0 1562.4,839.7 1564.2,840.3 1565.9,840.9 1567.7,841.1 1569.4,841.1 1571.1,841.1 1572.9,840.9 1574.6,840.6 1576.4,840.5 1578.1,840.0 1579.8,839.4 1581.6,839.3 1583.3,839.1 1585.1,839.8 1586.8,840.9 1588.5,840.7 1590.3,840.0 1592.0,839.4 1593.8,839.0 1595.5,839.3 1597.3,839.7 1599.0,840.1 1600.7,840.2 1602.5,840.0 1604.2,839.8 1606.0,840.8 1607.7,840.9 1609.4,840.6 1611.2,840.6 1612.9,841.1 1614.7,841.4 1616.4,840.9 1618.1,839.9 1620.0,839.4"/>
<polyline stroke="#8E5E04" stroke-width="7.3" points="223.8,669.1 225.5,667.8 227.3,669.1 229.0,670.9 230.8,669.2 232.5,667.8 234.2,667.2 236.0,666.7 237.7,665.4 239.5,667.5 241.2,670.6 242.9,670.4 244.7,669.7 246.4,670.3 248.2,670.8 249.9,670.8 251.7,670.2 253.4,669.1 255.1,670.3 256.9,671.0 258.6,672.0 260.4,671.5 262.1,670.7 263.8,671.1 265.6,671.9 267.3,673.8 269.1,674.3 270.8,674.3 272.5,673.9 274.3,675.6 276.0,675.8 277.8,676.7 279.5,675.8 281.2,674.0 283.0,674.2 284.7,674.6 286.5,676.2 288.2,677.8 289.9,677.6 291.7,676.5 293.4,674.6 295.2,675.2 296.9,676.3 298.7,676.6 300.4,675.5 302.1,675.5 303.9,674.4 305.6,672.1 307.4,671.9 309.1,672.7 310.8,671.5 312.6,671.6 314.3,673.5 316.1,673.6 317.8,672.6 319.5,672.0 321.3,671.1 323.0,670.5 324.8,670.9 326.5,672.3 328.2,672.7 330.0,671.0 331.7,670.1 333.5,669.2 335.2,668.7 336.9,670.0 338.7,670.6 340.4,669.7 342.2,670.0 343.9,670.0 345.7,671.3 347.4,671.0 349.1,668.0 350.9,665.6 352.6,665.7 354.4,665.3 356.1,665.8 357.8,668.1 359.6,670.0 361.3,668.9 363.1,666.9 364.8,665.1 366.5,665.4 368.3,666.0 370.0,667.5 371.8,667.5 373.5,667.6 375.2,667.8 377.0,668.3 378.7,669.2 380.5,668.8 382.2,667.8 383.9,668.1 385.7,669.2 387.4,670.0 389.2,669.6 390.9,669.4 392.7,667.6 394.4,666.6 396.1,666.5 397.9,667.9 399.6,667.4 401.4,667.9 403.1,669.8 404.8,669.9 406.6,670.5 408.3,672.4 410.1,673.1 411.8,673.9 413.5,674.0 415.3,675.4 417.0,676.6 418.8,677.0 420.5,677.8 422.2,676.6 424.0,676.5 425.7,677.7 427.5,678.9 429.2,678.4 430.9,678.6 432.7,680.3 434.4,681.5 436.2,680.1 437.9,679.4 439.7,681.0 441.4,682.4 443.1,682.1 444.9,681.7 446.6,680.9 448.4,682.8 450.1,684.7 451.8,686.3 453.6,687.1 455.3,687.3 457.1,686.7 458.8,687.2 460.5,686.6 462.3,688.6 464.0,691.6 465.8,691.9 467.5,690.6 469.2,692.2 471.0,692.9 472.7,693.7 474.5,696.0 476.2,698.3 477.9,699.7 479.7,698.7 481.4,699.5 483.2,700.7 484.9,701.9 486.7,705.9 488.4,707.7 490.1,706.2 491.9,705.4 493.6,704.5 495.4,703.5 497.1,702.0 498.8,701.0 500.6,699.1 502.3,699.4 504.1,698.6 505.8,696.9 507.5,691.9 509.3,689.5 511.0,687.9 512.8,687.8 514.5,686.9 516.2,683.8 518.0,681.0 519.7,680.2 521.5,682.0 523.2,683.2 524.9,681.8 526.7,678.3 528.4,674.9 530.2,672.6 531.9,670.1 533.7,669.5 535.4,670.6 537.1,669.4 538.9,667.9 540.6,666.9 542.4,667.0 544.1,665.2 545.8,661.0 547.6,658.6 549.3,658.0 551.1,658.8 552.8,657.8 554.5,655.7 556.3,654.8 558.0,650.5 559.8,645.5 561.5,642.6 563.2,642.8 565.0,642.3 566.7,640.4 568.5,639.6 570.2,638.6 572.0,636.3 573.7,635.4 575.4,634.2 577.2,630.8 578.9,627.6 580.7,626.8 582.4,626.6 584.1,625.5 585.9,620.9 587.6,617.3 589.4,617.0 591.1,616.0 592.8,614.0 594.6,612.9 596.3,611.4 598.1,609.0 599.8,604.6 601.5,601.6 603.3,599.9 605.0,598.4 606.8,597.6 608.5,595.0 610.2,592.2 612.0,590.6 613.7,587.7 615.5,584.8 617.2,581.0 619.0,576.5 620.7,572.5 622.4,568.7 624.2,564.6 625.9,562.4 627.7,560.6 629.4,557.1 631.1,553.7 632.9,552.1 634.6,547.5 636.4,545.0 638.1,542.8 639.8,539.4 641.6,534.2 643.3,530.9 645.1,528.7 646.8,526.9 648.5,523.6 650.3,520.4 652.0,518.1 653.8,516.0 655.5,511.7 657.2,506.8 659.0,501.6 660.7,498.2 662.5,494.3 664.2,492.1 666.0,488.1 667.7,482.8 669.4,478.8 671.2,476.4 672.9,473.3 674.7,469.2 676.4,465.5 678.1,462.0 679.9,458.7 681.6,456.4 683.4,454.9 685.1,453.2 686.8,449.6 688.6,446.3 690.3,445.4 692.1,442.7 693.8,438.8 695.5,435.9 697.3,431.8 699.0,428.5 700.8,427.3 702.5,427.3 704.2,424.7 706.0,421.8 707.7,418.9 709.5,416.7 711.2,415.9 713.0,415.3 714.7,413.7 716.4,410.3 718.2,409.0 719.9,405.9 721.7,402.4 723.4,403.1 725.1,403.4 726.9,401.2 728.6,397.6 730.4,393.8 732.1,390.6 733.8,390.6 735.6,389.7 737.3,387.7 739.1,387.0 740.8,386.7 742.5,387.0 744.3,383.2 746.0,380.5 747.8,379.4 749.5,381.2 751.2,382.6 753.0,382.6 754.7,382.5 756.5,383.7 758.2,384.2 760.0,383.9 761.7,381.5 763.4,379.2 765.2,379.7 766.9,380.3 768.7,381.5 770.4,380.8 772.1,380.3 773.9,379.7 775.6,378.6 777.4,379.9 779.1,381.3 780.8,380.6 782.6,380.7 784.3,381.2 786.1,381.3 787.8,382.5 789.5,384.0 791.3,384.5 793.0,385.4 794.8,385.7 796.5,385.8 798.2,388.3 800.0,393.3 801.7,395.0 803.5,394.6 805.2,396.1 807.0,397.5 808.7,397.4 810.4,395.6 812.2,394.3 813.9,395.8 815.7,399.7 817.4,404.2 819.1,406.2 820.9,406.0 822.6,408.0 824.4,412.2 826.1,414.9 827.8,414.9 829.6,417.1 831.3,419.5 833.1,421.7 834.8,424.5 836.5,427.8 838.3,430.8 840.0,433.5 841.8,438.4 843.5,443.5 845.2,447.3 847.0,450.1 848.7,452.5 850.5,455.8 852.2,459.5 854.0,461.3 855.7,464.4 857.4,468.3 859.2,470.6 860.9,473.2 862.7,478.1 864.4,483.8 866.1,489.3 867.9,494.7 869.6,500.7 871.4,505.5 873.1,509.4 874.8,513.5 876.6,519.2 878.3,524.6 880.1,528.7 881.8,530.8 883.5,534.4 885.3,538.6 887.0,541.3 888.8,545.2 890.5,549.1 892.2,552.1 894.0,554.8 895.7,558.2 897.5,561.6 899.2,566.3 901.0,569.4 902.7,572.7 904.4,576.0 906.2,579.5 907.9,582.8 909.7,585.9 911.4,588.4 913.1,590.9 914.9,592.8 916.6,595.3 918.4,598.1 920.1,600.7 921.8,603.4 923.6,607.1 925.3,611.0 927.1,613.6 928.8,615.6 930.5,618.5 932.3,621.7 934.0,624.4 935.8,624.4 937.5,625.9 939.2,628.0 941.0,631.3 942.7,633.3 944.5,635.4 946.2,637.2 948.0,638.0 949.7,638.0 951.4,639.9 953.2,642.5 954.9,644.2 956.7,646.6 958.4,648.0 960.1,647.9 961.9,649.2 963.6,651.6 965.4,653.6 967.1,654.1 968.8,653.8 970.6,653.4 972.3,654.0 974.1,654.6 975.8,655.0 977.5,655.7 979.3,656.1 981.0,657.0 982.8,658.4 984.5,658.5 986.2,658.8 988.0,657.9 989.7,657.1 991.5,656.6 993.2,657.2 995.0,657.9 996.7,656.8 998.4,655.7 1000.2,656.0 1001.9,655.1 1003.7,654.3 1005.4,653.6 1007.1,653.0 1008.9,653.9 1010.6,653.6 1012.4,652.2 1014.1,651.1 1015.8,649.9 1017.6,648.6 1019.3,647.4 1021.1,646.0 1022.8,645.3 1024.5,644.8 1026.3,644.2 1028.0,642.4 1029.8,641.7 1031.5,640.2 1033.2,638.2 1035.0,636.5 1036.7,635.7 1038.5,633.8 1040.2,631.0 1042.0,628.7 1043.7,627.1 1045.4,625.5 1047.2,622.8 1048.9,620.8 1050.7,618.9 1052.4,616.2 1054.1,614.4 1055.9,612.9 1057.6,610.3 1059.4,607.7 1061.1,605.2 1062.8,603.4 1064.6,601.1 1066.3,599.3 1068.1,597.6 1069.8,595.6 1071.5,594.0 1073.3,592.1 1075.0,590.0 1076.8,587.6 1078.5,584.6 1080.2,581.9 1082.0,580.8 1083.7,579.1 1085.5,576.5 1087.2,574.5 1089.0,573.1 1090.7,570.9 1092.4,568.9 1094.2,567.5 1095.9,566.2 1097.7,562.9 1099.4,560.0 1101.1,558.2 1102.9,556.1 1104.6,553.8 1106.4,552.1 1108.1,550.0 1109.8,547.8 1111.6,545.2 1113.3,542.9 1115.1,540.1 1116.8,537.2 1118.5,534.9 1120.3,532.7 1122.0,529.5 1123.8,526.3 1125.5,524.4 1127.2,522.7 1129.0,520.9 1130.7,518.6 1132.5,516.6 1134.2,514.3 1136.0,512.3 1137.7,510.5 1139.4,509.1 1141.2,508.0 1142.9,506.7 1144.7,505.1 1146.4,503.9 1148.1,503.2 1149.9,502.5 1151.6,501.8 1153.4,501.5 1155.1,501.4 1156.8,501.3 1158.6,500.9 1160.3,501.5 1162.1,501.2 1163.8,502.5 1165.5,504.7 1167.3,506.5 1169.0,508.5 1170.8,510.3 1172.5,511.9 1174.2,514.0 1176.0,517.0 1177.7,520.3 1179.5,523.5 1181.2,526.6 1183.0,529.9 1184.7,533.4 1186.4,536.4 1188.2,541.2 1189.9,546.9 1191.7,552.2 1193.4,557.3 1195.1,562.4 1196.9,567.2 1198.6,571.7 1200.4,576.6 1202.1,582.8 1203.8,589.5 1205.6,595.9 1207.3,601.2 1209.1,606.8 1210.8,612.6 1212.5,618.1 1214.3,624.0 1216.0,630.0 1217.8,635.5 1219.5,640.8 1221.2,646.0 1223.0,651.8 1224.7,658.3 1226.5,664.6 1228.2,669.8 1230.0,675.2 1231.7,681.1 1233.4,687.2 1235.2,692.7 1236.9,698.7 1238.7,704.7 1240.4,710.6 1242.1,716.4 1243.9,722.6 1245.6,728.4 1247.4,733.1 1249.1,737.4 1250.8,742.1 1252.6,747.4 1254.3,752.2 1256.1,756.9 1257.8,760.9 1259.5,764.6 1261.3,768.4 1263.0,772.5 1264.8,777.1 1266.5,780.6 1268.2,783.7 1270.0,786.9 1271.7,789.9 1273.5,792.7 1275.2,795.6 1277.0,798.0 1278.7,799.3 1280.4,801.4 1282.2,803.4 1283.9,805.2 1285.7,806.8 1287.4,808.9 1289.1,811.5 1290.9,813.2 1292.6,815.0 1294.4,816.4 1296.1,817.6 1297.8,818.6 1299.6,819.9 1301.3,821.1 1303.1,822.5 1304.8,823.3 1306.5,824.6 1308.3,825.7 1310.0,826.9 1311.8,828.1 1313.5,828.5 1315.3,828.9 1317.0,829.8 1318.7,830.7 1320.5,831.3 1322.2,832.3 1324.0,832.3 1325.7,832.2 1327.4,832.4 1329.2,833.1 1330.9,834.0 1332.7,834.5 1334.4,834.4 1336.1,834.3 1337.9,834.4 1339.6,834.6 1341.4,835.9 1343.1,836.5 1344.8,836.6 1346.6,836.8 1348.3,837.0 1350.1,837.7 1351.8,837.7 1353.5,837.9 1355.3,838.5 1357.0,838.1 1358.8,838.1 1360.5,837.9 1362.3,837.9 1364.0,838.2 1365.7,838.6 1367.5,839.4 1369.2,839.5 1371.0,839.2 1372.7,839.5 1374.4,838.9 1376.2,838.4 1377.9,838.1 1379.7,837.9 1381.4,838.1 1383.1,837.4 1384.9,837.2 1386.6,837.5 1388.4,837.1 1390.1,836.7 1391.8,836.4 1393.6,836.5 1395.3,836.2 1397.1,835.6 1398.8,836.0 1400.5,836.4 1402.3,837.3 1404.0,837.4 1405.8,837.2 1407.5,837.1 1409.3,837.3 1411.0,836.9 1412.7,836.0 1414.5,835.7 1416.2,835.9 1418.0,836.1 1419.7,836.6 1421.4,837.0 1423.2,837.1 1424.9,837.8 1426.7,838.3 1428.4,838.2 1430.1,838.1 1431.9,838.0 1433.6,837.9 1435.4,837.7 1437.1,837.8 1438.8,838.6 1440.6,839.1 1442.3,838.8 1444.1,838.4 1445.8,838.0 1447.5,838.4 1449.3,838.7 1451.0,838.7 1452.8,838.5 1454.5,838.0 1456.3,838.0 1458.0,838.7 1459.7,839.2 1461.5,838.6 1463.2,838.0 1465.0,838.2 1466.7,838.9 1468.4,839.6 1470.2,839.4 1471.9,838.6 1473.7,838.2 1475.4,838.5 1477.1,838.6 1478.9,838.5 1480.6,838.9 1482.4,838.7 1484.1,838.6 1485.8,838.6 1487.6,838.6 1489.3,838.5 1491.1,838.7 1492.8,839.0 1494.5,838.8 1496.3,838.5 1498.0,837.6 1499.8,837.3 1501.5,836.9 1503.3,836.9 1505.0,837.7 1506.7,838.5 1508.5,838.2 1510.2,837.6 1512.0,836.7 1513.7,836.8 1515.4,836.9 1517.2,837.5 1518.9,837.8 1520.7,837.7 1522.4,837.7 1524.1,837.3 1525.9,837.2 1527.6,837.2 1529.4,837.2 1531.1,836.9 1532.8,836.3 1534.6,836.8 1536.3,837.4 1538.1,837.6 1539.8,836.8 1541.5,837.4 1543.3,838.4 1545.0,839.1 1546.8,838.9 1548.5,838.4 1550.3,838.4 1552.0,838.0 1553.7,837.6 1555.5,837.5 1557.2,837.8 1559.0,838.0 1560.7,837.1 1562.4,837.0 1564.2,838.0 1565.9,838.4 1567.7,838.4 1569.4,838.1 1571.1,838.1 1572.9,837.8 1574.6,837.5 1576.4,837.6 1578.1,837.8 1579.8,838.0 1581.6,838.2 1583.3,838.7 1585.1,838.4 1586.8,837.6 1588.5,837.0 1590.3,837.0 1592.0,836.6 1593.8,836.6 1595.5,836.6 1597.3,836.7 1599.0,836.6 1600.7,836.4 1602.5,837.4 1604.2,837.6 1606.0,837.1 1607.7,837.0 1609.4,837.4 1611.2,837.6 1612.9,837.9 1614.7,837.1 1616.4,836.3 1618.1,836.1 1620.0,836.7"/>
<polyline stroke="#D95A04" stroke-width="7.3" points="223.8,679.1 225.5,680.4 227.3,680.7 229.0,683.4 230.8,683.3 232.5,682.6 234.2,683.3 236.0,682.9 237.7,682.8 239.5,682.9 241.2,683.6 242.9,682.8 244.7,680.5 246.4,680.1 248.2,680.6 249.9,679.7 251.7,678.9 253.4,680.4 255.1,677.5 256.9,677.2 258.6,678.1 260.4,681.9 262.1,683.8 263.8,682.2 265.6,681.2 267.3,681.5 269.1,681.3 270.8,681.1 272.5,680.8 274.3,681.9 276.0,681.1 277.8,679.1 279.5,680.5 281.2,682.2 283.0,682.2 284.7,680.2 286.5,679.0 288.2,679.8 289.9,681.0 291.7,680.4 293.4,680.7 295.2,681.7 296.9,680.4 298.7,679.7 300.4,680.8 302.1,681.9 303.9,681.9 305.6,679.5 307.4,678.4 309.1,679.7 310.8,680.2 312.6,678.7 314.3,679.1 316.1,680.4 317.8,680.7 319.5,680.1 321.3,679.0 323.0,678.1 324.8,678.5 326.5,679.8 328.2,679.3 330.0,680.0 331.7,679.9 333.5,681.3 335.2,679.2 336.9,679.4 338.7,678.0 340.4,677.5 342.2,677.6 343.9,678.4 345.7,680.2 347.4,678.3 349.1,676.5 350.9,677.6 352.6,677.6 354.4,676.4 356.1,677.1 357.8,677.8 359.6,678.6 361.3,678.3 363.1,677.1 364.8,676.8 366.5,677.6 368.3,676.5 370.0,674.4 371.8,674.4 373.5,675.4 375.2,677.2 377.0,679.2 378.7,678.1 380.5,678.4 382.2,679.5 383.9,678.9 385.7,678.6 387.4,678.9 389.2,678.1 390.9,678.0 392.7,678.4 394.4,677.9 396.1,676.4 397.9,676.3 399.6,678.5 401.4,680.8 403.1,681.0 404.8,681.8 406.6,681.0 408.3,678.9 410.1,677.4 411.8,679.4 413.5,680.1 415.3,680.1 417.0,682.0 418.8,683.0 420.5,683.3 422.2,683.0 424.0,683.6 425.7,684.5 427.5,685.8 429.2,685.0 430.9,684.0 432.7,685.3 434.4,686.1 436.2,685.8 437.9,685.8 439.7,688.0 441.4,688.9 443.1,690.3 444.9,689.6 446.6,689.8 448.4,690.9 450.1,693.1 451.8,695.5 453.6,695.1 455.3,696.4 457.1,695.7 458.8,695.2 460.5,697.2 462.3,698.3 464.0,697.8 465.8,696.6 467.5,697.7 469.2,698.3 471.0,699.2 472.7,700.5 474.5,702.7 476.2,704.8 477.9,704.1 479.7,703.4 481.4,706.1 483.2,707.0 484.9,706.3 486.7,705.5 488.4,707.1 490.1,708.2 491.9,709.2 493.6,708.8 495.4,707.1 497.1,703.7 498.8,701.2 500.6,701.8 502.3,700.5 504.1,697.6 505.8,694.6 507.5,691.8 509.3,689.7 511.0,689.5 512.8,691.1 514.5,692.5 516.2,691.5 518.0,689.9 519.7,687.1 521.5,686.5 523.2,685.5 524.9,685.7 526.7,684.4 528.4,681.8 530.2,680.2 531.9,678.7 533.7,674.8 535.4,672.6 537.1,674.6 538.9,674.5 540.6,670.0 542.4,668.1 544.1,666.1 545.8,665.0 547.6,664.1 549.3,663.9 551.1,661.7 552.8,659.5 554.5,657.8 556.3,657.2 558.0,655.1 559.8,652.9 561.5,650.7 563.2,647.9 565.0,646.1 566.7,643.7 568.5,642.8 570.2,641.5 572.0,639.6 573.7,637.7 575.4,636.1 577.2,635.3 578.9,633.4 580.7,631.0 582.4,629.1 584.1,627.4 585.9,625.9 587.6,623.8 589.4,622.1 591.1,622.7 592.8,620.1 594.6,617.2 596.3,614.7 598.1,611.1 599.8,610.2 601.5,609.5 603.3,607.2 605.0,604.7 606.8,601.7 608.5,599.3 610.2,597.1 612.0,594.4 613.7,591.1 615.5,589.3 617.2,586.6 619.0,582.6 620.7,579.6 622.4,578.1 624.2,576.6 625.9,572.8 627.7,567.1 629.4,563.1 631.1,560.5 632.9,558.5 634.6,555.9 636.4,553.8 638.1,551.7 639.8,548.1 641.6,544.5 643.3,540.7 645.1,536.4 646.8,533.3 648.5,530.5 650.3,528.4 652.0,526.8 653.8,521.6 655.5,514.9 657.2,512.4 659.0,511.1 660.7,508.4 662.5,504.5 664.2,501.4 666.0,498.4 667.7,495.8 669.4,493.5 671.2,489.6 672.9,485.3 674.7,481.9 676.4,478.4 678.1,474.4 679.9,472.3 681.6,471.1 683.4,468.1 685.1,464.0 686.8,464.0 688.6,460.7 690.3,457.4 692.1,453.7 693.8,452.4 695.5,450.1 697.3,447.2 699.0,444.5 700.8,442.5 702.5,440.7 704.2,437.3 706.0,434.6 707.7,431.8 709.5,429.1 711.2,428.5 713.0,426.9 714.7,424.0 716.4,421.2 718.2,420.3 719.9,419.5 721.7,418.0 723.4,415.9 725.1,414.1 726.9,414.7 728.6,414.1 730.4,412.6 732.1,411.2 733.8,410.5 735.6,409.1 737.3,407.6 739.1,405.3 740.8,403.6 742.5,402.2 744.3,400.3 746.0,400.0 747.8,399.7 749.5,397.7 751.2,396.2 753.0,396.9 754.7,398.4 756.5,399.0 758.2,397.2 760.0,398.1 761.7,399.3 763.4,396.8 765.2,396.7 766.9,396.5 768.7,396.0 770.4,396.6 772.1,395.3 773.9,394.9 775.6,394.9 777.4,396.7 779.1,399.1 780.8,398.6 782.6,398.0 784.3,400.1 786.1,401.8 787.8,399.6 789.5,399.4 791.3,401.3 793.0,403.0 794.8,403.5 796.5,403.3 798.2,404.6 800.0,405.3 801.7,407.1 803.5,409.6 805.2,410.1 807.0,411.3 808.7,411.8 810.4,413.0 812.2,414.5 813.9,416.1 815.7,417.0 817.4,417.9 819.1,421.2 820.9,423.1 822.6,424.9 824.4,426.0 826.1,426.5 827.8,428.3 829.6,431.2 831.3,435.0 833.1,439.5 834.8,442.4 836.5,445.4 838.3,448.5 840.0,451.5 841.8,451.7 843.5,453.0 845.2,456.0 847.0,458.4 848.7,460.7 850.5,464.2 852.2,468.0 854.0,471.4 855.7,475.1 857.4,478.4 859.2,482.0 860.9,486.1 862.7,489.6 864.4,494.5 866.1,500.2 867.9,503.5 869.6,505.7 871.4,511.0 873.1,517.0 874.8,521.0 876.6,524.1 878.3,526.1 880.1,529.6 881.8,532.7 883.5,537.5 885.3,541.4 887.0,545.9 888.8,548.7 890.5,552.1 892.2,555.4 894.0,557.8 895.7,560.3 897.5,564.6 899.2,568.7 901.0,573.1 902.7,574.8 904.4,577.2 906.2,580.7 907.9,585.3 909.7,588.5 911.4,590.7 913.1,592.6 914.9,593.7 916.6,596.3 918.4,599.9 920.1,601.6 921.8,603.3 923.6,605.2 925.3,608.6 927.1,611.7 928.8,613.6 930.5,615.3 932.3,618.4 934.0,619.7 935.8,620.1 937.5,622.3 939.2,625.3 941.0,627.9 942.7,630.6 944.5,633.0 946.2,634.4 948.0,636.3 949.7,639.0 951.4,640.7 953.2,641.2 954.9,642.2 956.7,642.4 958.4,644.4 960.1,645.0 961.9,644.9 963.6,645.8 965.4,647.6 967.1,649.3 968.8,649.9 970.6,649.7 972.3,649.5 974.1,649.5 975.8,649.4 977.5,649.9 979.3,650.4 981.0,651.3 982.8,652.0 984.5,651.7 986.2,651.6 988.0,652.9 989.7,653.2 991.5,652.9 993.2,652.3 995.0,652.1 996.7,652.3 998.4,652.4 1000.2,651.3 1001.9,651.2 1003.7,650.7 1005.4,650.0 1007.1,648.5 1008.9,647.6 1010.6,647.8 1012.4,647.4 1014.1,646.9 1015.8,645.7 1017.6,643.8 1019.3,643.0 1021.1,642.6 1022.8,642.2 1024.5,641.3 1026.3,640.0 1028.0,638.6 1029.8,637.6 1031.5,635.8 1033.2,633.7 1035.0,631.5 1036.7,629.5 1038.5,628.2 1040.2,626.9 1042.0,625.5 1043.7,624.2 1045.4,621.6 1047.2,618.8 1048.9,616.1 1050.7,614.3 1052.4,612.8 1054.1,611.0 1055.9,608.8 1057.6,606.6 1059.4,604.5 1061.1,603.2 1062.8,600.9 1064.6,597.6 1066.3,595.0 1068.1,593.4 1069.8,591.8 1071.5,589.7 1073.3,588.2 1075.0,586.7 1076.8,584.9 1078.5,582.2 1080.2,578.7 1082.0,576.2 1083.7,574.9 1085.5,572.8 1087.2,570.5 1089.0,568.4 1090.7,566.8 1092.4,565.0 1094.2,562.5 1095.9,560.7 1097.7,559.7 1099.4,557.4 1101.1,554.1 1102.9,551.8 1104.6,550.8 1106.4,549.5 1108.1,547.4 1109.8,544.3 1111.6,540.9 1113.3,537.6 1115.1,534.6 1116.8,531.9 1118.5,529.8 1120.3,527.3 1122.0,524.8 1123.8,522.0 1125.5,519.3 1127.2,517.4 1129.0,515.7 1130.7,513.1 1132.5,510.5 1134.2,509.1 1136.0,507.5 1137.7,506.1 1139.4,504.0 1141.2,502.4 1142.9,501.6 1144.7,500.3 1146.4,499.6 1148.1,498.4 1149.9,497.3 1151.6,495.9 1153.4,495.5 1155.1,495.5 1156.8,495.7 1158.6,495.2 1160.3,495.5 1162.1,496.3 1163.8,498.0 1165.5,500.0 1167.3,502.2 1169.0,503.8 1170.8,505.4 1172.5,508.2 1174.2,510.3 1176.0,512.5 1177.7,514.8 1179.5,517.8 1181.2,520.7 1183.0,523.9 1184.7,527.4 1186.4,531.1 1188.2,535.7 1189.9,540.5 1191.7,545.7 1193.4,550.9 1195.1,556.0 1196.9,561.0 1198.6,566.4 1200.4,571.9 1202.1,577.6 1203.8,582.8 1205.6,587.9 1207.3,593.6 1209.1,599.5 1210.8,605.6 1212.5,611.6 1214.3,617.6 1216.0,623.2 1217.8,628.5 1219.5,634.4 1221.2,640.7 1223.0,646.8 1224.7,652.6 1226.5,658.2 1228.2,664.2 1230.0,669.0 1231.7,674.0 1233.4,679.9 1235.2,685.9 1236.9,692.2 1238.7,697.9 1240.4,703.6 1242.1,710.0 1243.9,716.2 1245.6,721.3 1247.4,726.3 1249.1,731.3 1250.8,736.2 1252.6,740.9 1254.3,745.7 1256.1,750.4 1257.8,755.3 1259.5,760.0 1261.3,764.0 1263.0,767.7 1264.8,771.4 1266.5,774.6 1268.2,777.4 1270.0,780.8 1271.7,784.0 1273.5,786.8 1275.2,789.5 1277.0,792.0 1278.7,794.9 1280.4,797.4 1282.2,799.5 1283.9,801.4 1285.7,803.4 1287.4,805.1 1289.1,807.3 1290.9,809.7 1292.6,811.9 1294.4,813.5 1296.1,814.7 1297.8,816.0 1299.6,817.0 1301.3,818.1 1303.1,818.8 1304.8,819.7 1306.5,821.1 1308.3,822.0 1310.0,822.8 1311.8,823.9 1313.5,825.3 1315.3,825.8 1317.0,826.1 1318.7,826.8 1320.5,827.2 1322.2,827.4 1324.0,827.9 1325.7,828.8 1327.4,829.1 1329.2,829.4 1330.9,829.6 1332.7,830.3 1334.4,830.8 1336.1,831.1 1337.9,831.5 1339.6,832.0 1341.4,832.1 1343.1,832.1 1344.8,832.6 1346.6,832.3 1348.3,832.2 1350.1,832.7 1351.8,833.2 1353.5,833.1 1355.3,832.7 1357.0,833.0 1358.8,833.6 1360.5,833.6 1362.3,833.2 1364.0,832.7 1365.7,833.0 1367.5,833.1 1369.2,832.5 1371.0,832.3 1372.7,833.0 1374.4,833.2 1376.2,832.7 1377.9,833.0 1379.7,833.8 1381.4,833.9 1383.1,832.8 1384.9,832.0 1386.6,832.6 1388.4,833.7 1390.1,833.9 1391.8,833.8 1393.6,833.1 1395.3,832.2 1397.1,831.5 1398.8,831.4 1400.5,831.5 1402.3,831.9 1404.0,832.3 1405.8,831.9 1407.5,831.3 1409.3,832.0 1411.0,833.0 1412.7,833.4 1414.5,833.3 1416.2,832.6 1418.0,832.6 1419.7,832.5 1421.4,832.2 1423.2,832.0 1424.9,831.9 1426.7,832.1 1428.4,832.9 1430.1,833.3 1431.9,833.6 1433.6,834.1 1435.4,833.9 1437.1,833.8 1438.8,833.3 1440.6,833.1 1442.3,833.4 1444.1,833.6 1445.8,833.9 1447.5,834.4 1449.3,834.6 1451.0,833.8 1452.8,833.6 1454.5,834.4 1456.3,835.1 1458.0,835.0 1459.7,834.1 1461.5,833.7 1463.2,833.2 1465.0,833.3 1466.7,833.2 1468.4,833.2 1470.2,833.4 1471.9,834.4 1473.7,834.6 1475.4,834.2 1477.1,834.0 1478.9,834.7 1480.6,834.7 1482.4,834.3 1484.1,834.5 1485.8,834.5 1487.6,834.5 1489.3,834.5 1491.1,834.3 1492.8,833.6 1494.5,833.0 1496.3,833.1 1498.0,833.6 1499.8,833.6 1501.5,833.4 1503.3,832.8 1505.0,833.1 1506.7,833.7 1508.5,834.2 1510.2,833.7 1512.0,833.5 1513.7,833.9 1515.4,834.7 1517.2,834.9 1518.9,833.9 1520.7,833.8 1522.4,833.3 1524.1,834.2 1525.9,834.6 1527.6,833.8 1529.4,832.6 1531.1,832.9 1532.8,834.1 1534.6,834.2 1536.3,834.1 1538.1,833.7 1539.8,833.6 1541.5,833.5 1543.3,833.5 1545.0,834.1 1546.8,834.3 1548.5,833.1 1550.3,832.5 1552.0,832.5 1553.7,832.8 1555.5,833.5 1557.2,833.9 1559.0,834.0 1560.7,833.6 1562.4,833.1 1564.2,833.2 1565.9,833.2 1567.7,833.7 1569.4,834.2 1571.1,834.5 1572.9,834.8 1574.6,834.9 1576.4,835.5 1578.1,835.5 1579.8,835.0 1581.6,833.6 1583.3,833.5 1585.1,834.1 1586.8,834.6 1588.5,834.4 1590.3,834.4 1592.0,834.0 1593.8,833.9 1595.5,834.4 1597.3,835.0 1599.0,834.5 1600.7,833.6 1602.5,833.9 1604.2,834.6 1606.0,834.7 1607.7,834.9 1609.4,834.3 1611.2,833.8 1612.9,833.4 1614.7,833.3 1616.4,833.4 1618.1,833.8 1620.0,833.9"/>
<polyline stroke="#C88A04" stroke-width="7.6" points="223.8,682.7 225.5,683.5 227.3,683.7 229.0,684.1 230.8,686.0 232.5,684.8 234.2,681.9 236.0,681.6 237.7,683.2 239.5,683.8 241.2,683.7 242.9,684.9 244.7,684.0 246.4,682.6 248.2,682.5 249.9,682.2 251.7,680.9 253.4,680.6 255.1,680.9 256.9,682.9 258.6,684.0 260.4,683.3 262.1,683.5 263.8,683.0 265.6,683.3 267.3,683.0 269.1,682.4 270.8,682.5 272.5,683.0 274.3,684.7 276.0,685.6 277.8,685.7 279.5,684.3 281.2,685.3 283.0,685.2 284.7,685.1 286.5,685.5 288.2,687.3 289.9,687.7 291.7,686.3 293.4,683.4 295.2,680.9 296.9,682.4 298.7,683.1 300.4,683.3 302.1,684.2 303.9,684.7 305.6,683.2 307.4,681.4 309.1,681.0 310.8,682.5 312.6,683.6 314.3,683.1 316.1,681.7 317.8,679.8 319.5,679.3 321.3,680.8 323.0,680.0 324.8,677.5 326.5,678.3 328.2,680.7 330.0,681.1 331.7,680.7 333.5,682.5 335.2,682.3 336.9,680.7 338.7,678.0 340.4,676.9 342.2,679.3 343.9,680.9 345.7,679.4 347.4,677.3 349.1,677.3 350.9,675.2 352.6,673.3 354.4,673.7 356.1,673.0 357.8,675.7 359.6,678.7 361.3,680.2 363.1,680.1 364.8,678.6 366.5,676.2 368.3,676.8 370.0,676.7 371.8,674.6 373.5,673.0 375.2,673.7 377.0,674.2 378.7,674.8 380.5,675.9 382.2,677.4 383.9,678.1 385.7,678.2 387.4,676.7 389.2,676.0 390.9,674.3 392.7,674.4 394.4,674.2 396.1,675.7 397.9,678.1 399.6,678.9 401.4,681.6 403.1,683.0 404.8,681.7 406.6,679.9 408.3,678.9 410.1,679.4 411.8,680.5 413.5,680.7 415.3,681.6 417.0,682.3 418.8,683.0 420.5,682.6 422.2,684.9 424.0,686.3 425.7,686.5 427.5,689.1 429.2,690.2 430.9,688.7 432.7,686.7 434.4,686.9 436.2,686.4 437.9,687.2 439.7,688.0 441.4,689.6 443.1,690.6 444.9,692.4 446.6,693.4 448.4,692.9 450.1,693.5 451.8,693.5 453.6,693.7 455.3,693.8 457.1,694.0 458.8,695.6 460.5,698.2 462.3,699.3 464.0,699.4 465.8,700.5 467.5,701.2 469.2,699.9 471.0,698.2 472.7,700.7 474.5,703.8 476.2,704.3 477.9,704.3 479.7,704.9 481.4,706.2 483.2,707.4 484.9,708.8 486.7,709.0 488.4,709.4 490.1,710.5 491.9,710.7 493.6,709.0 495.4,707.4 497.1,704.9 498.8,702.6 500.6,702.3 502.3,701.8 504.1,700.1 505.8,697.5 507.5,694.9 509.3,693.0 511.0,693.5 512.8,694.1 514.5,692.0 516.2,690.8 518.0,690.6 519.7,688.5 521.5,686.0 523.2,684.2 524.9,684.9 526.7,684.7 528.4,682.7 530.2,681.4 531.9,678.5 533.7,674.5 535.4,674.5 537.1,672.9 538.9,672.6 540.6,671.5 542.4,669.3 544.1,667.1 545.8,665.3 547.6,663.6 549.3,661.9 551.1,660.4 552.8,659.6 554.5,658.5 556.3,656.8 558.0,654.9 559.8,652.6 561.5,652.0 563.2,651.6 565.0,649.6 566.7,645.6 568.5,643.9 570.2,640.9 572.0,636.6 573.7,634.8 575.4,634.3 577.2,635.2 578.9,635.6 580.7,634.0 582.4,631.5 584.1,630.0 585.9,627.3 587.6,623.7 589.4,619.8 591.1,618.1 592.8,616.7 594.6,614.4 596.3,612.4 598.1,611.7 599.8,611.5 601.5,609.3 603.3,605.9 605.0,602.4 606.8,599.4 608.5,596.9 610.2,594.1 612.0,592.1 613.7,589.4 615.5,586.5 617.2,583.9 619.0,580.9 620.7,577.2 622.4,572.4 624.2,568.3 625.9,565.3 627.7,563.2 629.4,561.7 631.1,557.9 632.9,555.7 634.6,553.9 636.4,551.1 638.1,546.1 639.8,542.2 641.6,540.5 643.3,538.9 645.1,535.0 646.8,532.0 648.5,528.3 650.3,523.9 652.0,521.8 653.8,518.1 655.5,513.4 657.2,512.0 659.0,509.8 660.7,505.5 662.5,501.9 664.2,498.7 666.0,494.2 667.7,488.7 669.4,484.2 671.2,481.1 672.9,478.5 674.7,475.7 676.4,470.7 678.1,467.0 679.9,465.4 681.6,465.5 683.4,463.9 685.1,460.1 686.8,456.7 688.6,452.8 690.3,448.1 692.1,445.6 693.8,444.1 695.5,440.5 697.3,435.7 699.0,433.7 700.8,432.5 702.5,430.4 704.2,430.4 706.0,429.6 707.7,427.1 709.5,422.7 711.2,420.8 713.0,419.5 714.7,416.6 716.4,414.5 718.2,412.2 719.9,410.2 721.7,408.2 723.4,408.5 725.1,409.2 726.9,407.0 728.6,402.9 730.4,400.3 732.1,398.9 733.8,399.3 735.6,398.7 737.3,397.5 739.1,394.9 740.8,392.8 742.5,391.9 744.3,390.1 746.0,390.8 747.8,391.3 749.5,388.3 751.2,386.7 753.0,388.0 754.7,391.2 756.5,389.7 758.2,387.9 760.0,389.0 761.7,390.6 763.4,389.2 765.2,388.9 766.9,391.1 768.7,390.7 770.4,389.5 772.1,388.3 773.9,390.2 775.6,391.1 777.4,392.2 779.1,391.6 780.8,389.9 782.6,389.8 784.3,391.9 786.1,394.2 787.8,395.0 789.5,395.1 791.3,393.3 793.0,390.9 794.8,392.8 796.5,397.0 798.2,398.1 800.0,398.3 801.7,400.5 803.5,402.8 805.2,404.6 807.0,402.9 808.7,402.9 810.4,405.2 812.2,407.4 813.9,408.2 815.7,409.2 817.4,409.8 819.1,411.0 820.9,412.7 822.6,415.1 824.4,418.3 826.1,420.3 827.8,422.1 829.6,422.1 831.3,425.1 833.1,431.5 834.8,433.8 836.5,437.5 838.3,441.4 840.0,446.2 841.8,450.0 843.5,452.0 845.2,454.0 847.0,455.9 848.7,458.4 850.5,460.7 852.2,465.0 854.0,467.2 855.7,469.1 857.4,472.9 859.2,477.7 860.9,482.2 862.7,485.0 864.4,490.0 866.1,496.2 867.9,500.8 869.6,505.5 871.4,510.2 873.1,513.9 874.8,517.9 876.6,520.9 878.3,525.3 880.1,530.6 881.8,534.4 883.5,538.0 885.3,542.2 887.0,546.9 888.8,551.0 890.5,555.3 892.2,560.1 894.0,564.3 895.7,566.7 897.5,569.9 899.2,571.9 901.0,574.5 902.7,578.6 904.4,582.6 906.2,586.5 907.9,588.6 909.7,592.2 911.4,596.1 913.1,599.6 914.9,602.5 916.6,603.6 918.4,606.3 920.1,609.7 921.8,612.3 923.6,612.8 925.3,614.6 927.1,618.2 928.8,621.4 930.5,623.3 932.3,625.4 934.0,628.2 935.8,631.2 937.5,633.4 939.2,634.3 941.0,635.8 942.7,638.5 944.5,640.9 946.2,643.9 948.0,645.2 949.7,646.3 951.4,647.3 953.2,648.9 954.9,649.9 956.7,651.1 958.4,652.6 960.1,654.0 961.9,655.4 963.6,656.2 965.4,657.1 967.1,657.4 968.8,657.9 970.6,658.9 972.3,659.0 974.1,659.0 975.8,659.4 977.5,660.0 979.3,659.4 981.0,659.3 982.8,660.3 984.5,661.0 986.2,661.7 988.0,663.0 989.7,663.8 991.5,662.9 993.2,661.5 995.0,660.5 996.7,660.1 998.4,659.5 1000.2,659.2 1001.9,659.8 1003.7,660.2 1005.4,659.7 1007.1,658.9 1008.9,658.1 1010.6,657.5 1012.4,656.6 1014.1,655.7 1015.8,655.5 1017.6,654.5 1019.3,653.3 1021.1,652.4 1022.8,652.6 1024.5,651.5 1026.3,649.2 1028.0,647.4 1029.8,646.6 1031.5,646.3 1033.2,645.1 1035.0,642.5 1036.7,640.1 1038.5,638.7 1040.2,637.8 1042.0,636.1 1043.7,633.9 1045.4,631.7 1047.2,630.1 1048.9,629.3 1050.7,628.2 1052.4,626.5 1054.1,624.4 1055.9,622.6 1057.6,620.6 1059.4,619.5 1061.1,618.8 1062.8,617.1 1064.6,614.8 1066.3,613.1 1068.1,610.2 1069.8,607.7 1071.5,605.5 1073.3,604.5 1075.0,603.8 1076.8,602.9 1078.5,601.3 1080.2,599.1 1082.0,596.8 1083.7,594.2 1085.5,592.8 1087.2,591.1 1089.0,589.4 1090.7,587.6 1092.4,586.0 1094.2,584.5 1095.9,582.7 1097.7,581.1 1099.4,579.6 1101.1,578.2 1102.9,576.9 1104.6,574.6 1106.4,571.4 1108.1,569.2 1109.8,566.7 1111.6,564.5 1113.3,562.1 1115.1,559.1 1116.8,557.1 1118.5,554.9 1120.3,552.7 1122.0,550.6 1123.8,548.3 1125.5,546.1 1127.2,544.5 1129.0,542.9 1130.7,541.6 1132.5,539.7 1134.2,538.1 1136.0,536.4 1137.7,535.9 1139.4,535.7 1141.2,534.7 1142.9,533.1 1144.7,531.6 1146.4,529.1 1148.1,528.1 1149.9,527.4 1151.6,526.8 1153.4,526.3 1155.1,526.1 1156.8,526.6 1158.6,527.8 1160.3,529.3 1162.1,530.3 1163.8,531.0 1165.5,532.3 1167.3,534.6 1169.0,537.1 1170.8,538.3 1172.5,540.6 1174.2,542.6 1176.0,545.3 1177.7,548.3 1179.5,550.6 1181.2,552.9 1183.0,556.4 1184.7,560.2 1186.4,563.7 1188.2,567.3 1189.9,571.0 1191.7,575.4 1193.4,580.6 1195.1,585.6 1196.9,589.8 1198.6,594.3 1200.4,599.4 1202.1,604.8 1203.8,610.6 1205.6,616.0 1207.3,621.6 1209.1,626.3 1210.8,631.8 1212.5,637.8 1214.3,643.2 1216.0,648.1 1217.8,653.1 1219.5,658.4 1221.2,664.0 1223.0,669.4 1224.7,674.4 1226.5,679.3 1228.2,684.3 1230.0,690.3 1231.7,696.0 1233.4,700.6 1235.2,705.5 1236.9,710.7 1238.7,716.3 1240.4,721.4 1242.1,726.1 1243.9,731.3 1245.6,736.3 1247.4,741.1 1249.1,745.7 1250.8,749.8 1252.6,754.2 1254.3,759.2 1256.1,763.2 1257.8,767.1 1259.5,770.4 1261.3,773.7 1263.0,777.1 1264.8,780.1 1266.5,782.6 1268.2,785.4 1270.0,788.2 1271.7,791.0 1273.5,793.2 1275.2,795.8 1277.0,798.4 1278.7,800.5 1280.4,802.2 1282.2,803.5 1283.9,805.4 1285.7,808.2 1287.4,809.9 1289.1,811.6 1290.9,813.5 1292.6,815.4 1294.4,816.9 1296.1,818.0 1297.8,818.7 1299.6,819.4 1301.3,820.0 1303.1,820.6 1304.8,821.8 1306.5,822.7 1308.3,823.0 1310.0,823.6 1311.8,824.7 1313.5,825.7 1315.3,826.7 1317.0,827.7 1318.7,827.8 1320.5,827.8 1322.2,827.9 1324.0,828.7 1325.7,829.7 1327.4,829.9 1329.2,830.0 1330.9,830.8 1332.7,831.2 1334.4,830.5 1336.1,830.3 1337.9,830.6 1339.6,831.4 1341.4,831.3 1343.1,831.9 1344.8,832.5 1346.6,832.9 1348.3,832.6 1350.1,832.1 1351.8,831.7 1353.5,832.0 1355.3,832.6 1357.0,832.9 1358.8,832.6 1360.5,832.8 1362.3,832.5 1364.0,832.3 1365.7,832.9 1367.5,833.5 1369.2,833.7 1371.0,833.5 1372.7,833.0 1374.4,833.1 1376.2,833.1 1377.9,833.0 1379.7,832.6 1381.4,832.5 1383.1,832.7 1384.9,832.8 1386.6,832.5 1388.4,832.5 1390.1,832.2 1391.8,832.1 1393.6,832.6 1395.3,833.2 1397.1,833.2 1398.8,832.6 1400.5,832.3 1402.3,832.4 1404.0,833.0 1405.8,833.3 1407.5,833.6 1409.3,833.7 1411.0,833.3 1412.7,833.2 1414.5,833.5 1416.2,833.3 1418.0,833.3 1419.7,833.7 1421.4,833.6 1423.2,832.8 1424.9,832.8 1426.7,833.6 1428.4,834.2 1430.1,834.1 1431.9,833.5 1433.6,833.4 1435.4,833.7 1437.1,834.7 1438.8,835.0 1440.6,834.0 1442.3,833.5 1444.1,833.5 1445.8,833.9 1447.5,834.0 1449.3,834.0 1451.0,833.8 1452.8,833.6 1454.5,833.2 1456.3,833.4 1458.0,833.4 1459.7,834.2 1461.5,834.7 1463.2,834.7 1465.0,834.9 1466.7,834.9 1468.4,834.2 1470.2,833.4 1471.9,833.3 1473.7,833.4 1475.4,832.9 1477.1,833.1 1478.9,833.3 1480.6,833.5 1482.4,833.4 1484.1,833.5 1485.8,834.2 1487.6,834.1 1489.3,833.3 1491.1,833.4 1492.8,833.3 1494.5,832.8 1496.3,833.2 1498.0,833.6 1499.8,833.5 1501.5,833.7 1503.3,833.9 1505.0,833.6 1506.7,833.4 1508.5,833.2 1510.2,833.0 1512.0,833.3 1513.7,833.7 1515.4,833.4 1517.2,832.9 1518.9,833.2 1520.7,833.5 1522.4,833.7 1524.1,833.5 1525.9,833.2 1527.6,833.1 1529.4,833.4 1531.1,833.6 1532.8,833.6 1534.6,833.3 1536.3,833.5 1538.1,833.6 1539.8,832.9 1541.5,832.9 1543.3,833.8 1545.0,834.4 1546.8,833.7 1548.5,833.2 1550.3,833.1 1552.0,833.0 1553.7,833.5 1555.5,833.5 1557.2,833.1 1559.0,833.0 1560.7,833.8 1562.4,834.1 1564.2,834.2 1565.9,834.0 1567.7,833.5 1569.4,833.5 1571.1,833.8 1572.9,834.3 1574.6,833.7 1576.4,833.5 1578.1,833.2 1579.8,833.1 1581.6,832.6 1583.3,832.8 1585.1,833.5 1586.8,833.6 1588.5,833.5 1590.3,833.2 1592.0,833.3 1593.8,833.8 1595.5,834.0 1597.3,833.7 1599.0,833.3 1600.7,832.8 1602.5,832.5 1604.2,833.0 1606.0,833.3 1607.7,833.3 1609.4,832.8 1611.2,832.5 1612.9,832.3 1614.7,832.3 1616.4,832.5 1618.1,832.3 1620.0,832.2"/>
<polyline stroke="#FFA46C" stroke-width="7.3" points="223.8,693.6 225.5,692.8 227.3,691.4 229.0,690.3 230.8,690.1 232.5,691.4 234.2,693.2 236.0,693.2 237.7,692.4 239.5,691.9 241.2,691.9 242.9,693.3 244.7,692.8 246.4,694.1 248.2,694.6 249.9,690.7 251.7,690.2 253.4,691.6 255.1,692.6 256.9,692.1 258.6,693.5 260.4,694.7 262.1,694.3 263.8,693.5 265.6,696.8 267.3,699.2 269.1,698.1 270.8,695.8 272.5,694.1 274.3,693.5 276.0,696.9 277.8,699.0 279.5,696.7 281.2,693.0 283.0,693.9 284.7,695.5 286.5,696.1 288.2,696.1 289.9,694.0 291.7,694.6 293.4,696.8 295.2,697.8 296.9,697.6 298.7,697.7 300.4,696.7 302.1,695.6 303.9,696.3 305.6,694.7 307.4,693.7 309.1,696.3 310.8,698.7 312.6,698.5 314.3,697.1 316.1,694.3 317.8,691.9 319.5,693.4 321.3,692.6 323.0,690.2 324.8,690.5 326.5,692.1 328.2,693.9 330.0,693.7 331.7,692.8 333.5,690.9 335.2,688.0 336.9,686.7 338.7,688.0 340.4,688.4 342.2,688.0 343.9,687.3 345.7,686.8 347.4,687.1 349.1,686.1 350.9,683.5 352.6,681.6 354.4,681.1 356.1,680.7 357.8,683.0 359.6,684.3 361.3,683.8 363.1,684.7 364.8,686.2 366.5,686.0 368.3,685.5 370.0,684.8 371.8,682.6 373.5,679.6 375.2,679.1 377.0,682.5 378.7,685.9 380.5,687.0 382.2,684.8 383.9,684.0 385.7,682.5 387.4,681.1 389.2,682.8 390.9,683.3 392.7,683.6 394.4,685.6 396.1,685.1 397.9,684.9 399.6,684.2 401.4,683.8 403.1,684.6 404.8,685.2 406.6,683.7 408.3,683.8 410.1,687.1 411.8,687.5 413.5,686.8 415.3,687.5 417.0,688.6 418.8,691.6 420.5,693.7 422.2,693.9 424.0,696.8 425.7,698.2 427.5,697.8 429.2,697.7 430.9,697.4 432.7,696.8 434.4,697.2 436.2,699.8 437.9,699.7 439.7,699.8 441.4,700.2 443.1,701.1 444.9,701.1 446.6,700.2 448.4,700.9 450.1,701.0 451.8,701.8 453.6,704.4 455.3,704.8 457.1,702.9 458.8,702.4 460.5,702.0 462.3,702.4 464.0,703.8 465.8,705.4 467.5,704.6 469.2,705.2 471.0,707.6 472.7,709.2 474.5,710.7 476.2,709.9 477.9,709.9 479.7,710.0 481.4,710.9 483.2,714.9 484.9,718.0 486.7,719.2 488.4,718.8 490.1,718.7 491.9,717.5 493.6,715.8 495.4,713.7 497.1,712.0 498.8,710.2 500.6,708.8 502.3,705.6 504.1,702.9 505.8,701.5 507.5,699.3 509.3,696.1 511.0,695.2 512.8,695.7 514.5,696.6 516.2,696.6 518.0,695.4 519.7,692.8 521.5,690.3 523.2,689.1 524.9,689.6 526.7,689.7 528.4,690.5 530.2,691.2 531.9,690.4 533.7,686.9 535.4,684.9 537.1,683.0 538.9,682.9 540.6,680.8 542.4,679.7 544.1,679.3 545.8,680.6 547.6,679.6 549.3,677.7 551.1,675.1 552.8,672.7 554.5,670.1 556.3,669.3 558.0,668.6 559.8,665.3 561.5,665.1 563.2,665.7 565.0,664.5 566.7,661.9 568.5,659.5 570.2,658.0 572.0,654.7 573.7,651.5 575.4,648.7 577.2,648.4 578.9,647.1 580.7,644.4 582.4,641.1 584.1,639.9 585.9,639.9 587.6,639.4 589.4,640.7 591.1,640.9 592.8,637.8 594.6,634.8 596.3,631.6 598.1,628.7 599.8,626.3 601.5,625.2 603.3,622.2 605.0,620.0 606.8,617.6 608.5,614.9 610.2,613.3 612.0,612.7 613.7,611.8 615.5,609.3 617.2,607.0 619.0,603.2 620.7,599.4 622.4,596.0 624.2,592.6 625.9,590.0 627.7,586.7 629.4,584.0 631.1,581.3 632.9,575.9 634.6,571.9 636.4,570.2 638.1,568.4 639.8,566.0 641.6,564.3 643.3,561.4 645.1,557.8 646.8,554.7 648.5,553.8 650.3,550.3 652.0,546.9 653.8,545.5 655.5,541.7 657.2,537.2 659.0,534.0 660.7,532.0 662.5,529.1 664.2,526.3 666.0,524.5 667.7,522.3 669.4,520.6 671.2,520.5 672.9,519.7 674.7,516.7 676.4,511.7 678.1,507.5 679.9,504.3 681.6,502.9 683.4,501.2 685.1,500.1 686.8,498.4 688.6,496.8 690.3,494.3 692.1,491.7 693.8,487.6 695.5,482.0 697.3,480.1 699.0,479.8 700.8,477.9 702.5,475.0 704.2,471.7 706.0,469.0 707.7,465.0 709.5,461.3 711.2,458.6 713.0,457.4 714.7,455.2 716.4,451.8 718.2,448.5 719.9,445.3 721.7,444.9 723.4,442.1 725.1,440.7 726.9,440.0 728.6,440.3 730.4,442.2 732.1,443.2 733.8,439.3 735.6,437.3 737.3,438.5 739.1,440.2 740.8,441.3 742.5,439.7 744.3,436.5 746.0,436.3 747.8,436.8 749.5,437.1 751.2,436.6 753.0,436.4 754.7,435.3 756.5,433.3 758.2,434.5 760.0,437.8 761.7,438.4 763.4,437.2 765.2,437.1 766.9,437.8 768.7,437.4 770.4,435.3 772.1,434.4 773.9,435.1 775.6,433.9 777.4,433.0 779.1,433.8 780.8,433.7 782.6,433.5 784.3,434.0 786.1,434.9 787.8,434.7 789.5,433.8 791.3,432.4 793.0,432.6 794.8,434.5 796.5,437.6 798.2,440.5 800.0,440.8 801.7,442.6 803.5,445.8 805.2,446.0 807.0,445.9 808.7,447.8 810.4,449.9 812.2,452.4 813.9,452.9 815.7,453.2 817.4,455.5 819.1,457.4 820.9,461.1 822.6,461.8 824.4,462.2 826.1,466.0 827.8,466.0 829.6,466.8 831.3,471.3 833.1,472.4 834.8,473.9 836.5,476.1 838.3,478.5 840.0,480.4 841.8,482.3 843.5,487.3 845.2,489.1 847.0,490.1 848.7,492.3 850.5,494.8 852.2,497.9 854.0,500.7 855.7,503.2 857.4,505.1 859.2,506.9 860.9,509.4 862.7,511.8 864.4,514.2 866.1,515.5 867.9,518.5 869.6,522.9 871.4,525.6 873.1,529.6 874.8,532.3 876.6,533.7 878.3,538.3 880.1,542.8 881.8,545.0 883.5,547.4 885.3,547.5 887.0,549.1 888.8,551.8 890.5,556.0 892.2,560.1 894.0,562.1 895.7,564.1 897.5,567.2 899.2,570.4 901.0,571.1 902.7,573.6 904.4,577.2 906.2,581.3 907.9,585.0 909.7,587.6 911.4,588.9 913.1,591.1 914.9,593.9 916.6,597.8 918.4,598.6 920.1,599.5 921.8,602.8 923.6,605.6 925.3,608.1 927.1,609.2 928.8,609.6 930.5,612.0 932.3,613.6 934.0,615.2 935.8,617.1 937.5,619.1 939.2,621.4 941.0,623.5 942.7,624.7 944.5,626.5 946.2,628.2 948.0,628.8 949.7,629.8 951.4,631.0 953.2,631.9 954.9,631.8 956.7,633.1 958.4,634.5 960.1,635.1 961.9,635.6 963.6,635.9 965.4,636.6 967.1,637.0 968.8,637.6 970.6,637.3 972.3,637.0 974.1,637.3 975.8,638.0 977.5,639.0 979.3,638.4 981.0,637.1 982.8,636.4 984.5,636.1 986.2,635.0 988.0,634.1 989.7,633.5 991.5,633.1 993.2,632.6 995.0,632.0 996.7,631.9 998.4,631.4 1000.2,631.7 1001.9,631.4 1003.7,629.9 1005.4,629.1 1007.1,628.7 1008.9,627.4 1010.6,626.2 1012.4,624.3 1014.1,621.5 1015.8,618.6 1017.6,616.2 1019.3,613.4 1021.1,610.7 1022.8,608.2 1024.5,606.1 1026.3,604.8 1028.0,603.3 1029.8,601.5 1031.5,599.0 1033.2,597.4 1035.0,595.1 1036.7,592.5 1038.5,589.3 1040.2,587.2 1042.0,584.8 1043.7,581.8 1045.4,579.8 1047.2,577.4 1048.9,574.5 1050.7,572.4 1052.4,570.1 1054.1,567.5 1055.9,564.4 1057.6,561.6 1059.4,559.7 1061.1,557.8 1062.8,555.6 1064.6,554.5 1066.3,553.0 1068.1,550.6 1069.8,548.3 1071.5,546.7 1073.3,545.9 1075.0,544.6 1076.8,543.1 1078.5,541.1 1080.2,539.6 1082.0,538.6 1083.7,536.8 1085.5,534.1 1087.2,531.4 1089.0,529.1 1090.7,527.8 1092.4,526.2 1094.2,524.5 1095.9,521.6 1097.7,519.0 1099.4,516.7 1101.1,515.1 1102.9,513.1 1104.6,509.2 1106.4,505.6 1108.1,502.8 1109.8,499.4 1111.6,495.7 1113.3,492.9 1115.1,489.6 1116.8,486.6 1118.5,483.1 1120.3,479.5 1122.0,476.2 1123.8,472.4 1125.5,468.6 1127.2,465.4 1129.0,462.1 1130.7,458.6 1132.5,455.4 1134.2,452.3 1136.0,449.8 1137.7,446.9 1139.4,443.3 1141.2,439.9 1142.9,437.6 1144.7,435.1 1146.4,433.6 1148.1,432.8 1149.9,432.6 1151.6,431.7 1153.4,431.1 1155.1,431.1 1156.8,431.4 1158.6,432.2 1160.3,433.1 1162.1,435.0 1163.8,436.5 1165.5,437.1 1167.3,437.5 1169.0,438.9 1170.8,440.4 1172.5,442.7 1174.2,445.0 1176.0,446.8 1177.7,448.8 1179.5,451.1 1181.2,454.0 1183.0,457.8 1184.7,462.5 1186.4,467.4 1188.2,471.9 1189.9,476.6 1191.7,481.5 1193.4,485.7 1195.1,490.9 1196.9,496.8 1198.6,502.0 1200.4,506.5 1202.1,511.3 1203.8,517.1 1205.6,523.2 1207.3,529.3 1209.1,535.2 1210.8,541.6 1212.5,548.0 1214.3,555.2 1216.0,563.3 1217.8,570.5 1219.5,578.0 1221.2,585.6 1223.0,593.7 1224.7,602.6 1226.5,611.2 1228.2,618.8 1230.0,626.7 1231.7,635.1 1233.4,644.1 1235.2,652.4 1236.9,659.5 1238.7,666.0 1240.4,672.3 1242.1,678.7 1243.9,684.8 1245.6,690.2 1247.4,695.6 1249.1,701.2 1250.8,707.5 1252.6,713.6 1254.3,719.6 1256.1,725.7 1257.8,731.1 1259.5,737.1 1261.3,742.2 1263.0,746.7 1264.8,751.8 1266.5,756.8 1268.2,761.0 1270.0,764.7 1271.7,768.3 1273.5,771.2 1275.2,774.5 1277.0,777.4 1278.7,780.6 1280.4,783.6 1282.2,786.3 1283.9,788.8 1285.7,791.1 1287.4,793.6 1289.1,796.2 1290.9,798.5 1292.6,800.4 1294.4,802.1 1296.1,803.5 1297.8,805.3 1299.6,807.1 1301.3,808.8 1303.1,810.6 1304.8,811.4 1306.5,812.3 1308.3,813.1 1310.0,814.3 1311.8,816.0 1313.5,817.8 1315.3,818.6 1317.0,819.4 1318.7,820.8 1320.5,822.0 1322.2,822.4 1324.0,823.0 1325.7,823.6 1327.4,824.5 1329.2,825.4 1330.9,825.8 1332.7,826.6 1334.4,827.2 1336.1,827.5 1337.9,827.9 1339.6,828.4 1341.4,828.6 1343.1,829.0 1344.8,830.0 1346.6,830.0 1348.3,829.6 1350.1,830.0 1351.8,830.5 1353.5,831.1 1355.3,831.5 1357.0,832.3 1358.8,832.7 1360.5,832.7 1362.3,831.7 1364.0,831.7 1365.7,831.7 1367.5,831.5 1369.2,832.3 1371.0,833.4 1372.7,833.3 1374.4,833.2 1376.2,832.9 1377.9,832.3 1379.7,832.8 1381.4,833.9 1383.1,834.6 1384.9,834.6 1386.6,834.0 1388.4,833.8 1390.1,833.5 1391.8,833.3 1393.6,833.3 1395.3,834.4 1397.1,835.3 1398.8,835.2 1400.5,835.1 1402.3,835.2 1404.0,835.1 1405.8,834.8 1407.5,835.4 1409.3,835.9 1411.0,836.7 1412.7,836.7 1414.5,836.3 1416.2,835.8 1418.0,835.3 1419.7,836.1 1421.4,836.7 1423.2,836.8 1424.9,837.0 1426.7,837.6 1428.4,837.7 1430.1,837.6 1431.9,837.5 1433.6,837.4 1435.4,838.0 1437.1,837.8 1438.8,837.5 1440.6,838.3 1442.3,839.0 1444.1,839.4 1445.8,838.8 1447.5,838.2 1449.3,838.5 1451.0,839.3 1452.8,839.3 1454.5,839.3 1456.3,840.0 1458.0,840.7 1459.7,840.5 1461.5,840.1 1463.2,839.9 1465.0,839.4 1466.7,839.4 1468.4,839.7 1470.2,840.1 1471.9,841.0 1473.7,840.5 1475.4,839.3 1477.1,839.2 1478.9,839.3 1480.6,839.8 1482.4,839.9 1484.1,840.2 1485.8,840.2 1487.6,839.7 1489.3,839.7 1491.1,840.1 1492.8,840.3 1494.5,840.2 1496.3,839.6 1498.0,839.1 1499.8,839.1 1501.5,838.2 1503.3,837.5 1505.0,837.2 1506.7,837.5 1508.5,838.3 1510.2,838.3 1512.0,838.0 1513.7,837.7 1515.4,838.3 1517.2,839.0 1518.9,839.1 1520.7,838.9 1522.4,839.3 1524.1,839.6 1525.9,839.0 1527.6,839.0 1529.4,839.0 1531.1,838.7 1532.8,838.5 1534.6,838.6 1536.3,839.1 1538.1,839.5 1539.8,839.4 1541.5,839.5 1543.3,839.6 1545.0,839.3 1546.8,838.6 1548.5,838.8 1550.3,839.2 1552.0,839.7 1553.7,840.3 1555.5,840.6 1557.2,840.5 1559.0,840.1 1560.7,839.5 1562.4,839.2 1564.2,839.7 1565.9,840.5 1567.7,840.2 1569.4,840.3 1571.1,840.8 1572.9,840.4 1574.6,839.8 1576.4,839.6 1578.1,839.3 1579.8,839.4 1581.6,840.6 1583.3,841.4 1585.1,840.9 1586.8,839.7 1588.5,839.6 1590.3,840.4 1592.0,840.7 1593.8,840.7 1595.5,840.6 1597.3,840.4 1599.0,840.6 1600.7,840.3 1602.5,840.4 1604.2,839.9 1606.0,839.3 1607.7,838.8 1609.4,838.0 1611.2,838.0 1612.9,838.5 1614.7,838.6 1616.4,839.1 1618.1,839.4 1620.0,838.9"/>
<polyline stroke="#2E7D2C" stroke-width="7.6" points="223.8,687.6 225.5,686.1 227.3,683.5 229.0,684.3 230.8,688.3 232.5,690.4 234.2,690.6 236.0,689.8 237.7,687.9 239.5,689.1 241.2,689.3 242.9,688.2 244.7,687.1 246.4,687.8 248.2,688.8 249.9,690.2 251.7,690.8 253.4,691.3 255.1,690.2 256.9,690.7 258.6,690.8 260.4,689.6 262.1,690.2 263.8,692.8 265.6,693.7 267.3,693.3 269.1,693.3 270.8,692.9 272.5,693.2 274.3,693.2 276.0,694.3 277.8,695.0 279.5,694.4 281.2,694.1 283.0,692.5 284.7,691.8 286.5,691.5 288.2,692.7 289.9,693.4 291.7,693.5 293.4,694.4 295.2,696.2 296.9,695.9 298.7,693.8 300.4,693.4 302.1,691.5 303.9,691.5 305.6,692.5 307.4,692.6 309.1,691.4 310.8,691.4 312.6,691.9 314.3,691.4 316.1,691.8 317.8,693.3 319.5,693.7 321.3,692.5 323.0,691.6 324.8,690.9 326.5,689.9 328.2,689.0 330.0,688.8 331.7,689.7 333.5,689.3 335.2,688.6 336.9,688.7 338.7,689.1 340.4,688.8 342.2,686.5 343.9,685.0 345.7,684.5 347.4,684.3 349.1,685.9 350.9,686.0 352.6,684.9 354.4,683.8 356.1,684.1 357.8,684.1 359.6,682.5 361.3,680.1 363.1,678.8 364.8,680.1 366.5,679.7 368.3,679.4 370.0,680.6 371.8,680.0 373.5,678.4 375.2,679.1 377.0,680.1 378.7,680.3 380.5,678.4 382.2,679.2 383.9,681.1 385.7,681.8 387.4,678.4 389.2,677.5 390.9,677.5 392.7,681.1 394.4,683.6 396.1,684.4 397.9,682.7 399.6,681.3 401.4,681.9 403.1,681.6 404.8,681.3 406.6,681.9 408.3,682.3 410.1,680.7 411.8,680.8 413.5,682.8 415.3,684.4 417.0,685.1 418.8,687.1 420.5,690.7 422.2,693.7 424.0,694.7 425.7,694.9 427.5,693.9 429.2,690.7 430.9,690.3 432.7,691.1 434.4,691.6 436.2,692.5 437.9,693.5 439.7,693.0 441.4,692.7 443.1,692.3 444.9,694.4 446.6,697.3 448.4,697.5 450.1,698.2 451.8,698.9 453.6,698.8 455.3,699.9 457.1,700.7 458.8,700.9 460.5,699.5 462.3,698.6 464.0,699.7 465.8,701.9 467.5,704.0 469.2,704.5 471.0,705.0 472.7,706.5 474.5,708.4 476.2,709.0 477.9,710.2 479.7,709.6 481.4,711.2 483.2,714.1 484.9,715.1 486.7,714.5 488.4,715.0 490.1,715.7 491.9,716.8 493.6,715.8 495.4,713.4 497.1,711.8 498.8,709.6 500.6,707.5 502.3,705.3 504.1,703.1 505.8,702.0 507.5,700.9 509.3,699.8 511.0,698.3 512.8,695.0 514.5,692.1 516.2,691.8 518.0,692.2 519.7,692.0 521.5,691.8 523.2,690.9 524.9,688.8 526.7,686.9 528.4,685.9 530.2,686.1 531.9,684.0 533.7,681.2 535.4,680.1 537.1,681.1 538.9,682.2 540.6,679.8 542.4,676.0 544.1,675.4 545.8,675.5 547.6,674.8 549.3,672.8 551.1,670.4 552.8,668.8 554.5,665.5 556.3,662.5 558.0,661.7 559.8,662.1 561.5,662.7 563.2,660.9 565.0,657.3 566.7,655.5 568.5,652.9 570.2,648.9 572.0,646.7 573.7,647.0 575.4,646.1 577.2,642.7 578.9,640.0 580.7,639.8 582.4,639.0 584.1,637.3 585.9,636.0 587.6,634.8 589.4,634.7 591.1,633.1 592.8,631.0 594.6,629.5 596.3,626.8 598.1,623.5 599.8,621.9 601.5,619.4 603.3,616.2 605.0,615.2 606.8,614.6 608.5,613.1 610.2,612.9 612.0,610.7 613.7,606.6 615.5,604.3 617.2,602.0 619.0,596.3 620.7,591.0 622.4,587.0 624.2,582.7 625.9,579.9 627.7,578.4 629.4,575.9 631.1,573.5 632.9,570.5 634.6,566.4 636.4,563.5 638.1,560.5 639.8,557.2 641.6,554.7 643.3,553.3 645.1,551.1 646.8,549.4 648.5,547.7 650.3,544.0 652.0,538.4 653.8,534.9 655.5,533.2 657.2,531.6 659.0,529.0 660.7,524.4 662.5,521.7 664.2,520.7 666.0,519.7 667.7,516.4 669.4,511.0 671.2,507.7 672.9,505.7 674.7,505.0 676.4,502.5 678.1,498.9 679.9,496.3 681.6,495.2 683.4,493.3 685.1,489.3 686.8,486.6 688.6,484.7 690.3,482.5 692.1,479.5 693.8,475.3 695.5,471.6 697.3,468.6 699.0,468.4 700.8,466.5 702.5,461.4 704.2,459.3 706.0,458.0 707.7,453.7 709.5,449.3 711.2,447.8 713.0,444.9 714.7,443.4 716.4,439.9 718.2,437.3 719.9,436.6 721.7,436.3 723.4,436.1 725.1,435.3 726.9,434.5 728.6,434.9 730.4,434.0 732.1,432.3 733.8,430.9 735.6,429.8 737.3,429.5 739.1,429.7 740.8,429.2 742.5,428.4 744.3,428.1 746.0,426.9 747.8,426.7 749.5,425.8 751.2,423.8 753.0,424.3 754.7,425.4 756.5,423.9 758.2,423.5 760.0,421.9 761.7,421.4 763.4,420.0 765.2,419.7 766.9,420.0 768.7,420.8 770.4,422.7 772.1,423.3 773.9,423.0 775.6,422.9 777.4,423.8 779.1,423.0 780.8,420.9 782.6,419.5 784.3,420.8 786.1,421.5 787.8,421.8 789.5,422.9 791.3,423.6 793.0,423.8 794.8,425.4 796.5,426.6 798.2,427.3 800.0,427.5 801.7,428.6 803.5,431.5 805.2,435.4 807.0,437.0 808.7,435.1 810.4,434.2 812.2,435.7 813.9,437.5 815.7,440.2 817.4,442.9 819.1,444.9 820.9,448.7 822.6,452.7 824.4,456.0 826.1,458.2 827.8,460.4 829.6,462.5 831.3,462.0 833.1,463.4 834.8,465.7 836.5,468.4 838.3,470.8 840.0,472.8 841.8,476.5 843.5,478.7 845.2,479.7 847.0,480.5 848.7,480.4 850.5,482.1 852.2,486.7 854.0,491.1 855.7,493.7 857.4,495.6 859.2,499.7 860.9,505.0 862.7,508.0 864.4,510.2 866.1,512.8 867.9,517.0 869.6,521.0 871.4,523.4 873.1,525.2 874.8,527.9 876.6,530.3 878.3,533.7 880.1,537.3 881.8,539.9 883.5,543.3 885.3,547.3 887.0,549.7 888.8,552.1 890.5,553.7 892.2,555.7 894.0,558.8 895.7,561.0 897.5,562.6 899.2,566.0 901.0,570.8 902.7,575.1 904.4,577.3 906.2,580.1 907.9,583.5 909.7,586.1 911.4,589.1 913.1,592.8 914.9,594.4 916.6,594.8 918.4,598.5 920.1,602.0 921.8,604.5 923.6,606.6 925.3,609.7 927.1,612.5 928.8,614.6 930.5,616.6 932.3,618.5 934.0,619.7 935.8,620.8 937.5,622.2 939.2,625.2 941.0,626.5 942.7,627.6 944.5,628.8 946.2,629.6 948.0,629.8 949.7,631.4 951.4,632.0 953.2,632.3 954.9,633.2 956.7,634.3 958.4,636.7 960.1,637.8 961.9,638.5 963.6,638.9 965.4,638.8 967.1,639.1 968.8,639.4 970.6,639.7 972.3,639.5 974.1,640.7 975.8,642.3 977.5,642.8 979.3,642.2 981.0,640.9 982.8,639.7 984.5,639.8 986.2,639.4 988.0,638.3 989.7,637.2 991.5,637.7 993.2,638.1 995.0,637.2 996.7,636.1 998.4,635.5 1000.2,634.8 1001.9,634.3 1003.7,633.8 1005.4,632.7 1007.1,631.5 1008.9,630.0 1010.6,627.7 1012.4,625.2 1014.1,622.9 1015.8,620.0 1017.6,617.3 1019.3,614.7 1021.1,613.4 1022.8,611.6 1024.5,609.2 1026.3,605.6 1028.0,603.8 1029.8,603.3 1031.5,601.5 1033.2,599.3 1035.0,597.1 1036.7,594.9 1038.5,592.4 1040.2,589.5 1042.0,587.5 1043.7,585.6 1045.4,582.6 1047.2,579.6 1048.9,577.3 1050.7,575.2 1052.4,572.4 1054.1,570.0 1055.9,568.4 1057.6,566.9 1059.4,565.0 1061.1,562.6 1062.8,560.7 1064.6,558.7 1066.3,556.2 1068.1,555.0 1069.8,553.7 1071.5,551.9 1073.3,550.1 1075.0,549.2 1076.8,547.8 1078.5,545.6 1080.2,543.4 1082.0,542.1 1083.7,541.1 1085.5,539.1 1087.2,536.1 1089.0,533.1 1090.7,530.9 1092.4,529.3 1094.2,527.5 1095.9,525.3 1097.7,522.7 1099.4,520.6 1101.1,518.2 1102.9,515.6 1104.6,513.9 1106.4,510.8 1108.1,507.0 1109.8,503.0 1111.6,500.0 1113.3,497.6 1115.1,494.2 1116.8,490.2 1118.5,487.9 1120.3,485.2 1122.0,481.6 1123.8,477.7 1125.5,474.4 1127.2,471.3 1129.0,468.7 1130.7,466.1 1132.5,462.8 1134.2,459.5 1136.0,455.9 1137.7,452.7 1139.4,450.6 1141.2,448.8 1142.9,446.8 1144.7,444.5 1146.4,442.8 1148.1,441.0 1149.9,439.7 1151.6,439.8 1153.4,440.1 1155.1,440.3 1156.8,440.8 1158.6,441.6 1160.3,443.7 1162.1,445.9 1163.8,447.1 1165.5,448.4 1167.3,449.5 1169.0,450.5 1170.8,452.2 1172.5,454.4 1174.2,457.2 1176.0,458.5 1177.7,459.7 1179.5,462.7 1181.2,467.5 1183.0,471.8 1184.7,475.6 1186.4,479.1 1188.2,483.5 1189.9,488.5 1191.7,494.2 1193.4,499.5 1195.1,505.0 1196.9,509.6 1198.6,514.0 1200.4,518.7 1202.1,522.7 1203.8,528.0 1205.6,534.3 1207.3,541.2 1209.1,547.7 1210.8,553.6 1212.5,559.3 1214.3,566.0 1216.0,573.3 1217.8,580.9 1219.5,588.2 1221.2,596.2 1223.0,604.6 1224.7,612.5 1226.5,620.5 1228.2,628.4 1230.0,636.8 1231.7,645.3 1233.4,653.4 1235.2,660.8 1236.9,667.6 1238.7,674.3 1240.4,679.7 1242.1,685.2 1243.9,690.3 1245.6,695.6 1247.4,702.0 1249.1,707.7 1250.8,713.0 1252.6,718.6 1254.3,724.6 1256.1,731.3 1257.8,737.6 1259.5,742.5 1261.3,746.3 1263.0,750.5 1264.8,755.8 1266.5,760.7 1268.2,764.4 1270.0,767.9 1271.7,770.9 1273.5,774.5 1275.2,777.9 1277.0,780.8 1278.7,783.5 1280.4,786.2 1282.2,788.4 1283.9,790.7 1285.7,793.5 1287.4,795.6 1289.1,797.4 1290.9,799.6 1292.6,801.5 1294.4,803.5 1296.1,805.0 1297.8,806.3 1299.6,807.6 1301.3,809.3 1303.1,811.1 1304.8,812.7 1306.5,813.3 1308.3,814.1 1310.0,815.6 1311.8,816.3 1313.5,817.7 1315.3,818.6 1317.0,819.8 1318.7,820.5 1320.5,821.3 1322.2,821.9 1324.0,822.6 1325.7,823.3 1327.4,823.7 1329.2,824.3 1330.9,824.4 1332.7,824.9 1334.4,825.7 1336.1,826.6 1337.9,827.3 1339.6,827.1 1341.4,827.0 1343.1,827.4 1344.8,828.2 1346.6,828.9 1348.3,828.9 1350.1,829.2 1351.8,829.5 1353.5,829.6 1355.3,829.7 1357.0,830.7 1358.8,831.2 1360.5,830.9 1362.3,830.9 1364.0,831.2 1365.7,832.0 1367.5,832.8 1369.2,833.0 1371.0,832.2 1372.7,831.5 1374.4,831.4 1376.2,831.5 1377.9,832.2 1379.7,832.7 1381.4,833.0 1383.1,832.9 1384.9,832.9 1386.6,833.4 1388.4,833.5 1390.1,833.2 1391.8,832.5 1393.6,832.3 1395.3,832.5 1397.1,832.5 1398.8,832.6 1400.5,833.6 1402.3,834.0 1404.0,834.5 1405.8,834.9 1407.5,835.2 1409.3,835.0 1411.0,834.7 1412.7,834.6 1414.5,835.1 1416.2,835.4 1418.0,834.7 1419.7,834.9 1421.4,835.8 1423.2,836.3 1424.9,835.7 1426.7,835.9 1428.4,836.8 1430.1,837.6 1431.9,836.9 1433.6,836.7 1435.4,836.9 1437.1,836.9 1438.8,837.1 1440.6,837.3 1442.3,837.3 1444.1,837.8 1445.8,838.2 1447.5,837.8 1449.3,837.3 1451.0,837.3 1452.8,837.8 1454.5,838.3 1456.3,838.3 1458.0,838.7 1459.7,839.0 1461.5,838.0 1463.2,837.5 1465.0,837.9 1466.7,838.2 1468.4,838.6 1470.2,838.9 1471.9,838.6 1473.7,838.3 1475.4,838.4 1477.1,838.4 1478.9,838.0 1480.6,837.9 1482.4,838.1 1484.1,837.8 1485.8,837.5 1487.6,837.8 1489.3,837.7 1491.1,837.6 1492.8,837.8 1494.5,837.5 1496.3,837.2 1498.0,836.8 1499.8,836.9 1501.5,837.7 1503.3,838.2 1505.0,837.9 1506.7,838.3 1508.5,838.6 1510.2,838.2 1512.0,837.3 1513.7,837.3 1515.4,837.9 1517.2,837.7 1518.9,837.6 1520.7,837.7 1522.4,837.6 1524.1,837.1 1525.9,837.2 1527.6,837.4 1529.4,837.3 1531.1,837.2 1532.8,837.8 1534.6,837.7 1536.3,837.1 1538.1,836.9 1539.8,836.8 1541.5,836.1 1543.3,836.5 1545.0,836.7 1546.8,836.9 1548.5,837.7 1550.3,838.3 1552.0,838.5 1553.7,838.1 1555.5,837.4 1557.2,837.1 1559.0,837.6 1560.7,837.7 1562.4,838.1 1564.2,838.7 1565.9,838.9 1567.7,838.8 1569.4,838.6 1571.1,837.8 1572.9,837.2 1574.6,837.3 1576.4,838.4 1578.1,839.1 1579.8,838.5 1581.6,838.1 1583.3,838.0 1585.1,837.9 1586.8,837.5 1588.5,838.2 1590.3,838.4 1592.0,837.6 1593.8,837.1 1595.5,837.3 1597.3,838.0 1599.0,838.1 1600.7,837.0 1602.5,836.5 1604.2,837.0 1606.0,837.4 1607.7,837.4 1609.4,837.0 1611.2,837.2 1612.9,837.0 1614.7,836.0 1616.4,836.1 1618.1,836.6 1620.0,836.4"/>
</g>
<g stroke="#000" stroke-width="7" stroke-linecap="butt">
<line x1="1367" y1="326.5" x2="1163.75" y2="522.5"/>
<line x1="1321.25" y1="549.5" x2="1170" y2="604"/>
<line x1="1350.7" y1="728.9" x2="1166.25" y2="735"/>
<line x1="930" y1="781.3" x2="1120" y2="761.2"/>
<line x1="765" y1="490" x2="746.25" y2="616.5"/>
</g>
<text font-size="61.5" transform="translate(129.20 66.10) scale(0.9529 1)">1</text>
<text font-size="62.3" transform="translate(75.21 230.00) scale(0.9975 1)">0.8</text>
<text font-size="62.3" transform="translate(75.21 393.10) scale(0.9975 1)">0.6</text>
<text font-size="62.3" transform="translate(75.24 556.20) scale(0.9862 1)">0.4</text>
<text font-size="62.3" transform="translate(75.20 719.30) scale(1.0014 1)">0.2</text>
<text font-size="62.3" transform="translate(128.22 883.30) scale(0.9969 1)">0</text>
<text font-size="62.3" text-anchor="middle" transform="translate(224.60 970.2) scale(0.9823 1)">300</text>
<text font-size="62.3" text-anchor="middle" transform="translate(398.67 970.2) scale(0.9823 1)">350</text>
<text font-size="62.3" text-anchor="middle" transform="translate(572.75 970.2) scale(0.9823 1)">400</text>
<text font-size="62.3" text-anchor="middle" transform="translate(746.82 970.2) scale(0.9823 1)">450</text>
<text font-size="62.3" text-anchor="middle" transform="translate(920.90 970.2) scale(0.9823 1)">500</text>
<text font-size="62.3" text-anchor="middle" transform="translate(1094.97 970.2) scale(0.9823 1)">550</text>
<text font-size="62.3" text-anchor="middle" transform="translate(1269.05 970.2) scale(0.9823 1)">600</text>
<text font-size="62.3" text-anchor="middle" transform="translate(1443.12 970.2) scale(0.9823 1)">650</text>
<text font-size="62.3" text-anchor="middle" transform="translate(1617.20 970.2) scale(0.9823 1)">700</text>
<text class="b" font-size="60.5" transform="translate(0 1018.2) scale(0.993 1)"><tspan x="693.05">Wavelength</tspan><tspan x="1032.87">(nm)</tspan></text>
<text class="b" font-size="63" transform="translate(68.8 621.74) rotate(-90) scale(0.9124 1)">Absorbance</text>
<text class="b" font-size="62.6" transform="translate(335.71 465.10) scale(0.9312 1)">1+Hg<tspan x="153.22" dy="-20.10" font-size="41">2+</tspan></text>
<text class="b" font-size="62.6" transform="translate(655.87 666.80) scale(0.8929 1)">1+Cu<tspan x="158.47" dy="-20.10" font-size="41">2+</tspan></text>
<text class="b" font-size="62.6" transform="translate(771.67 787.70) scale(0.8929 1)">1+Cr<tspan x="145.46" dy="-20.20" font-size="41">3+</tspan></text>
<text class="b" font-size="62.6" transform="translate(1361.86 746.80) scale(0.8949 1)">1+Fe<tspan x="148.97" dy="-19.40" font-size="41">3+</tspan></text>
<text class="b" font-size="62.6" transform="translate(1338.74 547.90) scale(0.9242 1)">1+Al<tspan x="136.38" dy="-20.50" font-size="41">3+</tspan></text>
<text class="b" font-size="62.6" transform="translate(0 297.9)"><tspan x="1295.18">1</tspan> <tspan x="1345.69">&amp;</tspan> <tspan x="1410.29">1+M</tspan><tspan x="1533.94" dy="-19.80" font-size="41">n+</tspan></text>
</svg></body></html>
